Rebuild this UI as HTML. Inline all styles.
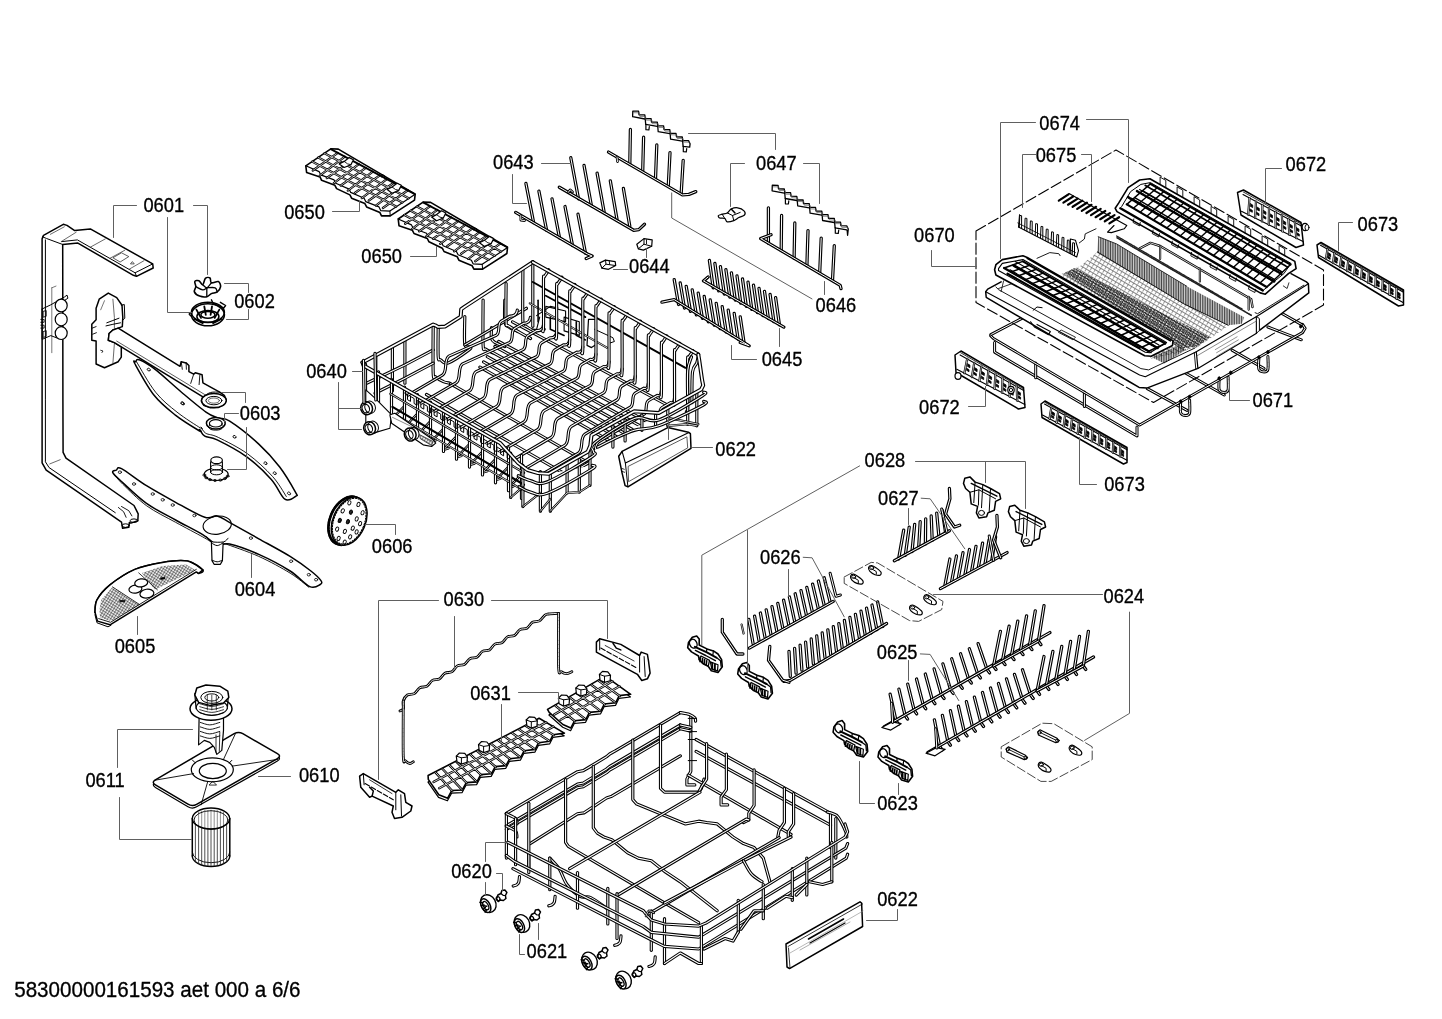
<!DOCTYPE html>
<html><head><meta charset="utf-8"><title>58300000161593 aet 000 a 6/6</title>
<style>
html,body{margin:0;padding:0;background:#fff;}
body{width:1442px;height:1019px;overflow:hidden;font-family:"Liberation Sans",Arial,sans-serif;}
svg{display:block;filter:grayscale(1);}
svg text{font-family:"Liberation Sans",Arial,sans-serif;fill:#000;stroke:#000;stroke-width:0.3px;}
svg path,svg ellipse{stroke-linejoin:round;stroke-linecap:round;}
</style></head><body>
<svg width="1442" height="1019" viewBox="0 0 1442 1019">
<rect width="1442" height="1019" fill="#fff"/>
<!-- 00_labels.py -->
<text transform="translate(143.4 212) scale(1 1.055)" font-size="18.3">0601</text>
<text transform="translate(234.2 307.7) scale(1 1.055)" font-size="18.3">0602</text>
<text transform="translate(239.8 419.7) scale(1 1.055)" font-size="18.3">0603</text>
<text transform="translate(234.7 595.8) scale(1 1.055)" font-size="18.3">0604</text>
<text transform="translate(114.7 652.5) scale(1 1.055)" font-size="18.3">0605</text>
<text transform="translate(371.8 553.1) scale(1 1.055)" font-size="18.3">0606</text>
<text transform="translate(298.9 782.4) scale(1 1.055)" font-size="18.3">0610</text>
<text transform="translate(85.4 786.7) scale(1 1.055)" font-size="18.3">0611</text>
<text transform="translate(451.2 878.2) scale(1 1.055)" font-size="18.3">0620</text>
<text transform="translate(526.6 957.6) scale(1 1.055)" font-size="18.3">0621</text>
<text transform="translate(715.3 455.7) scale(1 1.055)" font-size="18.3">0622</text>
<text transform="translate(877.2 906.2) scale(1 1.055)" font-size="18.3">0622</text>
<text transform="translate(877.2 809.6) scale(1 1.055)" font-size="18.3">0623</text>
<text transform="translate(1103.5 602.5) scale(1 1.055)" font-size="18.3">0624</text>
<text transform="translate(876.8 659.1) scale(1 1.055)" font-size="18.3">0625</text>
<text transform="translate(760 564.1) scale(1 1.055)" font-size="18.3">0626</text>
<text transform="translate(878 504.6) scale(1 1.055)" font-size="18.3">0627</text>
<text transform="translate(864.6 467.3) scale(1 1.055)" font-size="18.3">0628</text>
<text transform="translate(443.5 606.3) scale(1 1.055)" font-size="18.3">0630</text>
<text transform="translate(470.2 699.9) scale(1 1.055)" font-size="18.3">0631</text>
<text transform="translate(306.2 377.8) scale(1 1.055)" font-size="18.3">0640</text>
<text transform="translate(493 168.7) scale(1 1.055)" font-size="18.3">0643</text>
<text transform="translate(629 273.1) scale(1 1.055)" font-size="18.3">0644</text>
<text transform="translate(761.7 365.7) scale(1 1.055)" font-size="18.3">0645</text>
<text transform="translate(815.6 311.6) scale(1 1.055)" font-size="18.3">0646</text>
<text transform="translate(756 169.5) scale(1 1.055)" font-size="18.3">0647</text>
<text transform="translate(284.2 218.6) scale(1 1.055)" font-size="18.3">0650</text>
<text transform="translate(361.3 263) scale(1 1.055)" font-size="18.3">0650</text>
<text transform="translate(914.1 242) scale(1 1.055)" font-size="18.3">0670</text>
<text transform="translate(1252.5 406.7) scale(1 1.055)" font-size="18.3">0671</text>
<text transform="translate(1285.6 171.2) scale(1 1.055)" font-size="18.3">0672</text>
<text transform="translate(919.1 413.7) scale(1 1.055)" font-size="18.3">0672</text>
<text transform="translate(1357.6 231) scale(1 1.055)" font-size="18.3">0673</text>
<text transform="translate(1104.2 491.4) scale(1 1.055)" font-size="18.3">0673</text>
<text transform="translate(1039.3 130.1) scale(1 1.055)" font-size="18.3">0674</text>
<text transform="translate(1035.7 162) scale(1 1.055)" font-size="18.3">0675</text>
<text transform="translate(14.2 997.2) scale(1 1.03)" font-size="20.6">58300000161593 aet 000 a 6/6</text>
<!-- 10_pipe.py -->
<path d="M42.1 238.9 L43.5 235.4 L63.3 224.3 L67 225.4 L74.7 230.6 L90.3 228.9 L152.7 263.9 L153.2 268 L136.5 276.3 L133.4 275.3 L77.9 243.1 L62.7 244.5 L62.9 400 L63.1 452.4 L66 458.2 L134 505.5 L138.2 513.8 L137.8 520.7 L130.9 523.1 L129.4 522.3 L128.8 527.3 L122.6 528.3 L121.5 522.1 L46.2 470.1 L42.1 462.8 L42.1 390Z" fill="#fff" stroke="#000" stroke-width="1.5"/>
<path d="M45.4 239.9 L45.4 399.9 L45.4 461.8 L49.1 467.6 L115.3 512.7" fill="none" stroke="#000" stroke-width="1"/>
<path d="M42.5 236.8 L46.6 238.5 L62.7 244.5" fill="none" stroke="#000" stroke-width="1"/>
<path d="M61.6 241.6 L77.4 239.9 L135.1 272.8 L152.7 263.9" fill="none" stroke="#000" stroke-width="1"/>
<path d="M135.1 272.8 L136.5 276.3" fill="none" stroke="#000" stroke-width="1"/>
<path d="M50.4 234.3 L64.3 226.8" fill="none" stroke="#444" stroke-width="0.8"/>
<path d="M61.2 241.6 L76.2 232.2" fill="none" stroke="#444" stroke-width="0.8"/>
<path d="M90.3 247.2 L105.3 238.9" fill="none" stroke="#444" stroke-width="0.8"/>
<path d="M110.1 258.2 L124.7 250.3" fill="none" stroke="#444" stroke-width="0.8"/>
<path d="M129.4 269.1 L144 260.7" fill="none" stroke="#444" stroke-width="0.8"/>
<path d="M113.2 257.6 L121.5 252.8 L128.8 256.6 L120.5 261.8Z" fill="none" stroke="#333" stroke-width="0.8"/>
<path d="M130.7 263.6 L132.4 261.6 L134 263.6Z" fill="none" stroke="#333" stroke-width="0.8"/>
<path d="M49.8 463.9 L60.2 459.7" fill="none" stroke="#444" stroke-width="0.8"/>
<path d="M118.4 507.5 L123.6 511.7 L126.1 517.3" fill="none" stroke="#000" stroke-width="0.9"/>
<path d="M121.5 506.5 L128.8 510.7 L131.9 515.9" fill="none" stroke="#000" stroke-width="0.9"/>
<ellipse cx="125.7" cy="525.6" rx="3.6" ry="1.8" fill="none" stroke="#000" stroke-width="1"/>
<ellipse cx="134" cy="520.7" rx="3.8" ry="1.8" fill="none" stroke="#000" stroke-width="1"/>
<path d="M51.8 287.8 L56 286.1" fill="none" stroke="#555" stroke-width="0.8"/>
<path d="M51.8 287.8 L51.8 352.7" fill="none" stroke="#555" stroke-width="0.8"/>
<path d="M42.1 309 L50.8 304.8 L64.3 297.1 L67 295.1 L67.9 298.2 L63.3 301.3" fill="none" stroke="#000" stroke-width="1"/>
<path d="M42.1 309 L42.1 339.4 L50.8 335.6 L59.1 338.8" fill="none" stroke="#000" stroke-width="1"/>
<ellipse cx="61.2" cy="305.5" rx="6" ry="6.4" fill="#fff" stroke="#000" stroke-width="1.2"/>
<ellipse cx="61.2" cy="319.4" rx="6" ry="6.4" fill="#fff" stroke="#000" stroke-width="1.2"/>
<ellipse cx="61.2" cy="333.1" rx="6" ry="6.4" fill="#fff" stroke="#000" stroke-width="1.2"/>
<path d="M43.5 311.3 L46.2 310.5 L46.2 316.3 L43.5 317.1Z" fill="none" stroke="#000" stroke-width="0.9"/>
<path d="M43.5 331.5 L46.2 330.6 L46.2 336.5 L43.5 337.3Z" fill="none" stroke="#000" stroke-width="0.9"/>
<path d="M40.8 319.4 L44.1 319.4 L44.1 322.3 L40.8 322.3" fill="none" stroke="#000" stroke-width="0.9"/>
<path d="M40.8 325.2 L44.1 325.2 L44.1 328.1 L40.8 328.1" fill="none" stroke="#000" stroke-width="0.9"/>
<path d="M91.8 324.3 L96.1 319.8 L96.1 308.3 L99.2 299.2 L108.3 293.1 L116.7 297.6 L122 305.3 L122.8 317.5 L122.3 326.6 L118.2 328.1 L112.9 330 L109.1 333.5 L108.3 340.3 L114.4 342.6 L121.3 346.8 L121.3 357.1 L118.2 361.7 L104.5 367.8 L96.1 364 L96.1 341.1 L91.8 340.3Z" fill="#fff" stroke="#000" stroke-width="1.5"/>
<path d="M112.9 299.2 L114.4 317.5 L114.4 328.1" fill="none" stroke="#444" stroke-width="0.8"/>
<path d="M100.7 309.8 L104.5 300.7" fill="none" stroke="#555" stroke-width="0.8"/>
<path d="M114.4 343.4 L112.9 363.2" fill="none" stroke="#444" stroke-width="0.8"/>
<path d="M92.3 328.1 L96.1 326.6" fill="none" stroke="#000" stroke-width="0.9"/>
<path d="M92.7 334.2 L96.4 332.7" fill="none" stroke="#000" stroke-width="0.9"/>
<path d="M121.3 305.3 L124.3 304.5 L124.8 318.2 L122.3 320.5" fill="none" stroke="#000" stroke-width="1"/>
<path d="M106.8 322.8 L112.9 320.5 L119 318.2" fill="none" stroke="#000" stroke-width="1"/>
<path d="M106 325.9 L112.9 324.3 L120.5 322.8" fill="none" stroke="#000" stroke-width="1"/>
<path d="M100.7 350.3 L103 351 L101.9 352.6" fill="none" stroke="#000" stroke-width="0.8"/>
<path d="M118.2 328.1 L180 366.3 L181.2 361.7 L186.1 362.9 L188.9 365.5 L188.9 371.6 L193.7 374.2 L195.3 372.7 L202.1 374.7 L202.9 382.8 L219.7 392.2 L224.3 395.3 L226.2 399.8 L224.3 404.4 L218.2 407.5 L210.5 407.8 L203.7 405.2 L201.4 401.1 L202.9 396.8 L114.4 342.6 L108.3 340.3 L109.1 333.5 L112.9 330Z" fill="#fff" stroke="#000" stroke-width="1.5"/>
<path d="M116.7 341.1 L206 395.3" fill="none" stroke="#333" stroke-width="0.8"/>
<path d="M181.2 361.7 L182.3 369.3" fill="none" stroke="#000" stroke-width="0.9"/>
<path d="M186.1 362.9 L186.4 369.3" fill="none" stroke="#000" stroke-width="0.9"/>
<path d="M193.7 374.2 L190.7 383.4" fill="none" stroke="#000" stroke-width="0.9"/>
<path d="M199.8 375.4 L199.1 384.6" fill="none" stroke="#000" stroke-width="0.9"/>
<ellipse cx="213.9" cy="400.6" rx="12.4" ry="7" fill="#fff" stroke="#000" stroke-width="1.5"/>
<ellipse cx="213.9" cy="400.6" rx="8" ry="4.2" fill="none" stroke="#000" stroke-width="1"/>
<ellipse cx="213.9" cy="400.6" rx="5.6" ry="2.6" fill="none" stroke="#444" stroke-width="0.8"/>
<path d="M202.9 396.8 C204.2 396.1 207.7 393.3 210.5 392.5 C213.3 391.7 218.2 392.2 219.7 392.2" fill="none" stroke="#000" stroke-width="1"/>
<path d="M135.8 361.7 C136.2 360.9 136.3 359.4 137.6 359.4 C138.9 359.4 140.2 359.8 143.4 361.7 C146.7 363.6 150.8 365.8 157.1 370.9 C163.4 376 173.3 385.3 181.5 392.2 C189.7 399.1 199.9 407.8 206 412.1 C212.1 416.4 214.4 416.6 218.3 418.1 C222.2 419.6 222.9 416.9 229.7 421.2 C236.4 425.5 250.5 436.5 258.8 444.1 C267.1 451.7 273.6 459 279.7 467 C285.8 475 292.6 487 295.3 491.9 C298 496.8 297.6 494.9 295.9 496.1 C294.2 497.3 289 502 284.9 499.2 C280.8 496.4 277.7 486.6 271.3 479.5 C264.9 472.4 255.4 463.2 246.4 456.6 C237.4 450 224.1 443.3 217.2 439.9 C210.3 436.5 207.7 437.9 204.8 436.2 C201.9 434.5 200.4 430.4 199.6 429.5 C198.8 428.6 203.8 433.5 199.8 431.1 C195.8 428.7 183 421.1 175.4 415.1 C167.8 409.1 160.8 403.8 154.1 395.3 C147.4 386.8 138.1 369.6 135 364 C131.9 358.4 135.4 362.5 135.8 361.7Z" fill="#fff" stroke="#000" stroke-width="1.5"/>
<path d="M136.5 361.7 C139.7 366.8 148.8 383.8 155.6 392.2 C162.3 400.6 169.5 406.1 177 412.1 C184.5 418.1 196.6 425.6 200.6 428.1 C204.6 430.6 200.1 426.1 201 427 C201.9 427.9 202.9 431.6 205.8 433.3 C208.7 435 211.4 434 218.3 437.4 C225.2 440.8 238.4 447.2 247.4 453.7 C256.4 460.2 265.9 469.2 272.4 476.3 C278.9 483.4 284 493.1 286.3 496.5" fill="none" stroke="#000" stroke-width="0.9"/>
<ellipse cx="215.8" cy="423.3" rx="9.4" ry="5.8" fill="#fff" stroke="#000" stroke-width="1.5"/>
<ellipse cx="215.8" cy="423.3" rx="6.4" ry="3.7" fill="none" stroke="#000" stroke-width="1.1"/>
<path d="M209.5 423.3 L209.5 425.4" fill="none" stroke="#000" stroke-width="1"/>
<path d="M222 423.3 L222 425.4" fill="none" stroke="#000" stroke-width="1"/>
<path d="M206.6 424.5 C207.3 425.3 208.7 428.7 211 429.5 C213.3 430.3 218.1 430.3 220.4 429.5 C222.7 428.7 224.2 425.3 224.9 424.5" fill="none" stroke="#000" stroke-width="1"/>
<ellipse cx="182.9" cy="403.5" rx="1.6" ry="1.3" fill="none" stroke="#000" stroke-width="0.8" transform="rotate(30 182.9 403.5)"/>
<ellipse cx="234.5" cy="436.8" rx="1.6" ry="1.3" fill="none" stroke="#000" stroke-width="0.8" transform="rotate(30 234.5 436.8)"/>
<ellipse cx="265.5" cy="463.2" rx="1.6" ry="1.3" fill="none" stroke="#000" stroke-width="0.8" transform="rotate(30 265.5 463.2)"/>
<ellipse cx="274.7" cy="473.2" rx="1.6" ry="1.3" fill="none" stroke="#000" stroke-width="0.8" transform="rotate(30 274.7 473.2)"/>
<ellipse cx="289" cy="493.4" rx="1.6" ry="1.3" fill="none" stroke="#000" stroke-width="0.8" transform="rotate(30 289 493.4)"/>
<ellipse cx="148.7" cy="369.6" rx="1.6" ry="1.3" fill="none" stroke="#000" stroke-width="0.8" transform="rotate(30 148.7 369.6)"/>
<ellipse cx="182.3" cy="403.2" rx="1.6" ry="1.3" fill="none" stroke="#000" stroke-width="0.8" transform="rotate(30 182.3 403.2)"/>
<ellipse cx="216.2" cy="474.3" rx="12" ry="6.2" fill="#fff" stroke="#000" stroke-width="1.2"/>
<path d="M210.6 472.2 L210.6 461.8 L222.4 461.8 L222.4 472.2" fill="#fff" stroke="#000" stroke-width="1.1"/>
<ellipse cx="216.6" cy="472.2" rx="6" ry="2.6" fill="none" stroke="#000" stroke-width="1"/>
<ellipse cx="216.6" cy="467.4" rx="6" ry="2.6" fill="none" stroke="#000" stroke-width="1"/>
<ellipse cx="216.6" cy="460.3" rx="5.8" ry="3.4" fill="#fff" stroke="#000" stroke-width="1.2"/>
<ellipse cx="227.6" cy="476.2" rx="1.5" ry="1.1" fill="none" stroke="#000" stroke-width="0.8"/>
<ellipse cx="224.9" cy="478.6" rx="1.5" ry="1.1" fill="none" stroke="#000" stroke-width="0.8"/>
<ellipse cx="220.4" cy="480.1" rx="1.5" ry="1.1" fill="none" stroke="#000" stroke-width="0.8"/>
<ellipse cx="215.1" cy="480.5" rx="1.5" ry="1.1" fill="none" stroke="#000" stroke-width="0.8"/>
<ellipse cx="210" cy="479.6" rx="1.5" ry="1.1" fill="none" stroke="#000" stroke-width="0.8"/>
<ellipse cx="206.2" cy="477.7" rx="1.5" ry="1.1" fill="none" stroke="#000" stroke-width="0.8"/>
<ellipse cx="204.3" cy="475.1" rx="1.5" ry="1.1" fill="none" stroke="#000" stroke-width="0.8"/>
<path d="M112.8 472.6 C111.9 470.7 114.8 470.8 116.3 470.1 C117.8 469.4 116.5 466 121.5 468.6 C126.5 471.2 137.5 480.1 146.5 485.7 C155.5 491.3 165.9 497 175.6 502.3 C185.3 507.6 197.9 515 204.8 517.3 C211.7 519.6 212.9 514.9 217.2 515.9 C221.5 516.9 223.9 519.3 230.8 523.1 C237.7 526.9 248.9 533.2 258.8 538.8 C268.7 544.3 281.4 551 290.1 556.4 C298.8 561.8 305.8 567 310.9 571 C316 575 319.2 578.1 320.8 580.4 C322.4 582.6 322 583.5 320.2 584.5 C318.4 585.5 314.8 588.9 309.8 586.6 C304.8 584.4 298.6 576.4 290.1 571 C281.6 565.6 268.9 558.9 258.8 554.4 C248.7 549.9 236.6 545.6 229.7 544 C222.8 542.4 221.7 546.6 217.2 545 C212.7 543.4 209.6 538.8 202.7 534.6 C195.8 530.4 185 525.2 175.6 520 C166.2 514.8 155.5 509.8 146.5 503.4 C137.5 497 127.1 486.6 121.5 481.5 C115.9 476.4 113.7 474.5 112.8 472.6Z" fill="#fff" stroke="#000" stroke-width="1.5"/>
<path d="M114.3 474.3 C115.7 475.9 117.2 478.8 122.6 484 C128 489.2 137.7 499.3 146.5 505.7 C155.3 512.1 166.2 517.1 175.6 522.3 C185 527.5 196.8 533.6 202.7 536.9 C208.6 540.2 209.6 541.1 211 541.9" fill="none" stroke="#000" stroke-width="0.9"/>
<path d="M224.5 543.5 C230.2 545.6 247.9 551.5 258.8 556.4 C269.7 561.3 281.8 568 290.1 573.1 C298.4 578.2 305.7 584.9 308.8 587.2" fill="none" stroke="#000" stroke-width="0.9"/>
<ellipse cx="217.2" cy="525.2" rx="14.2" ry="9" fill="none" stroke="#000" stroke-width="1.1" transform="rotate(-8 217.2 525.2)"/>
<ellipse cx="119.9" cy="472.2" rx="1.6" ry="1.3" fill="none" stroke="#000" stroke-width="0.8"/>
<ellipse cx="134" cy="484" rx="1.6" ry="1.3" fill="none" stroke="#000" stroke-width="0.8"/>
<ellipse cx="152.7" cy="494" rx="1.6" ry="1.3" fill="none" stroke="#000" stroke-width="0.8"/>
<ellipse cx="162.7" cy="499.8" rx="1.6" ry="1.3" fill="none" stroke="#000" stroke-width="0.8"/>
<ellipse cx="172.7" cy="505" rx="1.6" ry="1.3" fill="none" stroke="#000" stroke-width="0.8"/>
<ellipse cx="194.4" cy="515.5" rx="1.6" ry="1.3" fill="none" stroke="#000" stroke-width="0.8"/>
<ellipse cx="250.9" cy="538.1" rx="1.6" ry="1.3" fill="none" stroke="#000" stroke-width="0.8"/>
<ellipse cx="291.1" cy="561.2" rx="1.6" ry="1.3" fill="none" stroke="#000" stroke-width="0.8"/>
<ellipse cx="308.8" cy="574.7" rx="1.6" ry="1.3" fill="none" stroke="#000" stroke-width="0.8"/>
<ellipse cx="316.1" cy="579.7" rx="1.6" ry="1.3" fill="none" stroke="#000" stroke-width="0.8"/>
<path d="M211.4 541.9 L212 560.6 L214.1 564.3 L220.4 564.3 L222.4 560.6 L223.1 542.9" fill="#fff" stroke="#000" stroke-width="1.2"/>
<path d="M211.4 542.9 C212.4 543.4 215.2 545.6 217.2 545.6 C219.1 545.6 222.1 543.4 223.1 542.9" fill="none" stroke="#000" stroke-width="1"/>
<path d="M212 560.2 C212.9 560.5 215.5 561.8 217.2 561.8 C218.9 561.8 221.5 560.5 222.4 560.2" fill="none" stroke="#000" stroke-width="1"/>
<path d="M206.8 536.7 C207.5 537.5 208.2 540.6 211 541.5 C213.8 542.4 220.7 542.5 223.5 541.9 C226.3 541.3 227.3 538.7 228.1 538.1" fill="none" stroke="#000" stroke-width="1"/>
<!-- 11_small_left.py -->
<defs><pattern id="mesh" width="2.6" height="2.6" patternUnits="userSpaceOnUse" patternTransform="rotate(32)"><path d="M0 0.6H2.6M0.6 0V2.6" stroke="#222" stroke-width="0.55" fill="none"/></pattern></defs>
<path d="M194.8 281.5 C195.3 280.5 197.6 280.2 198.9 280.7 C200.2 281.2 201.6 285.1 202.7 284.7 C203.8 284.3 204.2 279.5 205.4 278.4 C206.6 277.3 209 277.3 210 278 C211 278.7 210 282.2 211.4 282.8 C212.8 283.4 216.8 280.9 218.3 281.5 C219.8 282.1 220.8 285 220.6 286.7 C220.4 288.4 218.7 290.8 217.2 291.9 C215.7 293 213.1 292.8 211.4 293.6 C209.7 294.4 208.8 296.3 206.8 296.7 C204.8 297.1 201.7 296.9 199.6 296.1 C197.5 295.3 195 293.5 194.4 291.9 C193.8 290.3 195.7 288.4 195.8 286.7 C195.9 285 194.3 282.5 194.8 281.5Z" fill="#fff" stroke="#000" stroke-width="1.6"/>
<path d="M202.7 284.7 C203.4 285.2 205.4 288.1 206.8 287.8 C208.2 287.5 210.6 283.6 211.4 282.8" fill="none" stroke="#000" stroke-width="1.3"/>
<path d="M206.8 287.8 L206.8 296.7" fill="none" stroke="#000" stroke-width="1.3"/>
<path d="M195.8 286.7 C197 287.2 200.9 289.7 202.7 289.9 C204.5 290.1 206.1 288.1 206.8 287.8" fill="none" stroke="#000" stroke-width="1.3"/>
<path d="M206.8 287.8 C208.2 287.8 213.5 287.1 215.2 287.8 C216.9 288.5 216.9 291.2 217.2 291.9" fill="none" stroke="#000" stroke-width="1.3"/>
<ellipse cx="207.9" cy="314.8" rx="16.5" ry="11" fill="#fff" stroke="#000" stroke-width="1.6"/>
<ellipse cx="207.9" cy="312.3" rx="16.5" ry="10" fill="none" stroke="#000" stroke-width="1.5"/>
<ellipse cx="207.9" cy="316.5" rx="11" ry="6" fill="none" stroke="#000" stroke-width="1.5"/>
<ellipse cx="207.9" cy="314.8" rx="7" ry="3.4" fill="none" stroke="#000" stroke-width="1.5"/>
<path d="M211.4 299.8 L213.1 303.4 L223.5 308.2 L225.6 305.5 L220.4 302.3" fill="none" stroke="#000" stroke-width="1.4"/>
<path d="M190.6 312.7 L189.2 314 L190.6 315.7" fill="none" stroke="#000" stroke-width="1.4"/>
<path d="M196.4 309.6 L201 317.9" fill="none" stroke="#000" stroke-width="1.8"/>
<path d="M219.3 309.6 L214.7 317.9" fill="none" stroke="#000" stroke-width="1.8"/>
<path d="M204.3 306.5 L205.8 314.8" fill="none" stroke="#000" stroke-width="1.8"/>
<path d="M212 306.5 L210.6 314.8" fill="none" stroke="#000" stroke-width="1.8"/>
<path d="M194.4 319 L202.7 323.1" fill="none" stroke="#000" stroke-width="1.8"/>
<path d="M221.4 319 L213.1 323.1" fill="none" stroke="#000" stroke-width="1.8"/>
<path d="M95 612.3 C95.3 610.2 94.5 604.4 97 599.8 C99.5 595.2 103.7 590 110 584.9 C116.3 579.8 126.2 573.1 134.9 569.4 C143.6 565.6 153.7 563.8 162.4 562.4 C171.2 561 180.7 559.9 187.4 561.1 C194.1 562.4 200.9 567.9 202.8 569.9 C204.7 571.9 199.9 573.1 198.8 573.4 C197.7 573.7 196.7 572.1 196.3 571.9" fill="none" stroke="#000" stroke-width="1.5"/>
<path d="M95 612.3 L97 599.8 L110 584.9 L134.9 569.4 L162.4 562.4 L187.4 561.1 L202.8 569.9 L198.8 573.4 L196.3 571.9 L110 624.8 L97.5 621.1Z" fill="#fff" stroke="none" stroke-width="0"/>
<path d="M99.5 609.8 L101.2 599.8 L112.5 586.9 L122.4 593.6 L139.9 604.8 L111.2 621.1 L100 617.8Z" fill="url(#mesh)" stroke="none" stroke-width="0"/>
<path d="M141.9 572.9 L162.4 566.1 L186.1 564.4 L195.3 569.9 L154.9 589.8Z" fill="url(#mesh)" stroke="none" stroke-width="0"/>
<path d="M95 612.3 C95.3 610.2 94.5 604.4 97 599.8 C99.5 595.2 103.7 590 110 584.9 C116.3 579.8 126.2 573.1 134.9 569.4 C143.6 565.6 153.7 563.8 162.4 562.4 C171.2 561 180.7 559.9 187.4 561.1 C194.1 562.4 200.2 568.4 202.8 569.9" fill="none" stroke="#000" stroke-width="1.5"/>
<path d="M202.8 569.9 L198.8 573.4 L196.3 571.9 L110 624.8 L97.5 621.1 L95 612.3" fill="none" stroke="#000" stroke-width="1.5"/>
<path d="M95 614.8 L97 622.8 L108 626.8 L111 625.3" fill="none" stroke="#000" stroke-width="1"/>
<path d="M196.3 569.4 L110.5 622.3 L98.7 618.6" fill="none" stroke="#000" stroke-width="0.9"/>
<path d="M112.5 586.9 L139.9 604.8" fill="none" stroke="#000" stroke-width="0.8"/>
<path d="M138.7 572.9 L157.4 589.8" fill="none" stroke="#000" stroke-width="0.8"/>
<ellipse cx="135.4" cy="589.1" rx="6.5" ry="4" fill="#fff" stroke="#000" stroke-width="1.2" transform="rotate(-8 135.4 589.1)"/>
<ellipse cx="141.2" cy="582.9" rx="6.5" ry="4" fill="#fff" stroke="#000" stroke-width="1.2" transform="rotate(-8 141.2 582.9)"/>
<ellipse cx="146.9" cy="593.6" rx="7" ry="4.4" fill="#fff" stroke="#000" stroke-width="1.2" transform="rotate(-8 146.9 593.6)"/>
<path d="M119.9 600.3 L124.9 600.3 L124.9 601.8 L119.9 601.8Z" fill="#000" stroke="#000" stroke-width="0.5"/>
<path d="M160.4 577.9 L164.9 576.9 L164.9 578.9 L160.9 579.4Z" fill="#000" stroke="#000" stroke-width="0.5"/>
<g transform="rotate(23 349.2 521.2)">
<ellipse cx="346.6" cy="521.8" rx="17.2" ry="25.8" fill="#fff" stroke="#000" stroke-width="1.3"/>
<ellipse cx="346.6" cy="521.8" rx="16.4" ry="25" fill="none" stroke="#000" stroke-width="2.6" stroke-dasharray="1.5 1.3"/>
<ellipse cx="349.2" cy="521.2" rx="16.2" ry="25.2" fill="#fff" stroke="#000" stroke-width="1.5"/>
<ellipse cx="349.2" cy="521.2" rx="15.2" ry="24.1" fill="none" stroke="#000" stroke-width="1.2" stroke-dasharray="1.2 1.6"/>
<ellipse cx="342.2" cy="504.2" rx="1.5" ry="2.2" fill="none" stroke="#000" stroke-width="0.9"/>
<ellipse cx="351.2" cy="502.2" rx="1.5" ry="2.2" fill="none" stroke="#000" stroke-width="0.9"/>
<ellipse cx="358.2" cy="508.2" rx="1.5" ry="2.2" fill="none" stroke="#000" stroke-width="0.9"/>
<ellipse cx="339.2" cy="514.2" rx="1.5" ry="2.2" fill="none" stroke="#000" stroke-width="0.9"/>
<ellipse cx="347.2" cy="512.2" rx="1.5" ry="2.2" fill="none" stroke="#000" stroke-width="0.9"/>
<ellipse cx="355.2" cy="516.2" rx="1.5" ry="2.2" fill="none" stroke="#000" stroke-width="0.9"/>
<ellipse cx="360.2" cy="519.2" rx="1.5" ry="2.2" fill="none" stroke="#000" stroke-width="0.9"/>
<ellipse cx="340.2" cy="524.2" rx="1.5" ry="2.2" fill="none" stroke="#000" stroke-width="0.9"/>
<ellipse cx="348.2" cy="522.2" rx="1.5" ry="2.2" fill="none" stroke="#000" stroke-width="0.9"/>
<ellipse cx="355.2" cy="526.2" rx="1.5" ry="2.2" fill="none" stroke="#000" stroke-width="0.9"/>
<ellipse cx="341.2" cy="533.2" rx="1.5" ry="2.2" fill="none" stroke="#000" stroke-width="0.9"/>
<ellipse cx="349.2" cy="532.2" rx="1.5" ry="2.2" fill="none" stroke="#000" stroke-width="0.9"/>
<ellipse cx="356.2" cy="535.2" rx="1.5" ry="2.2" fill="none" stroke="#000" stroke-width="0.9"/>
<ellipse cx="346.2" cy="541.2" rx="1.5" ry="2.2" fill="none" stroke="#000" stroke-width="0.9"/>
<ellipse cx="353.2" cy="542.2" rx="1.5" ry="2.2" fill="none" stroke="#000" stroke-width="0.9"/>
<ellipse cx="360.2" cy="528.2" rx="1.5" ry="2.2" fill="none" stroke="#000" stroke-width="0.9"/>
<ellipse cx="347.2" cy="512.2" rx="1.2" ry="1.8" fill="#333" stroke="#000" stroke-width="0.8"/>
<ellipse cx="340.2" cy="524.2" rx="1.2" ry="1.8" fill="#333" stroke="#000" stroke-width="0.8"/>
<ellipse cx="348.2" cy="522.2" rx="1.2" ry="1.8" fill="#333" stroke="#000" stroke-width="0.8"/>
</g>
<path d="M155.4 787.4 Q151.1 784.8 155.4 782.3L234.2 736.1 Q238.5 733.6 242.8 736.1L277.4 756.1 Q281.7 758.6 277.4 761.1L196.6 806.8 Q192.3 809.3 188 806.7Z" fill="#fff" stroke="#000" stroke-width="1.2"/>
<path d="M155.4 784.9 Q151.1 782.3 155.4 779.8L234.2 733.7 Q238.5 731.2 242.8 733.7L277.4 753.6 Q281.7 756.1 277.4 758.6L196.6 804.3 Q192.3 806.8 188 804.2Z" fill="#fff" stroke="#000" stroke-width="1.5"/>
<ellipse cx="212.3" cy="769.8" rx="21" ry="12" fill="none" stroke="#000" stroke-width="1.2"/>
<ellipse cx="212.8" cy="771" rx="13.5" ry="7.6" fill="none" stroke="#000" stroke-width="1.2"/>
<path d="M193.6 773.6 L154.4 780.3" fill="none" stroke="#000" stroke-width="0.9"/>
<path d="M232.3 766.1 L277.7 759.4" fill="none" stroke="#000" stroke-width="0.9"/>
<path d="M207.8 781.3 L201.1 804.8" fill="none" stroke="#000" stroke-width="0.9"/>
<path d="M223.5 759.4 L235.3 733.9" fill="none" stroke="#000" stroke-width="0.9"/>
<path d="M209.3 784.8 L212.8 781.3 L216.3 784.8Z" fill="none" stroke="#000" stroke-width="0.8"/>
<path d="M194.8 762.4 L192.3 759.9" fill="none" stroke="#000" stroke-width="1"/>
<path d="M229.3 762.9 L231.8 760.4" fill="none" stroke="#000" stroke-width="1"/>
<path d="M198.6 744.9 L199.1 717.4 L223.5 717.4 L223.5 730.4 L221.8 750.4 L216.8 754.4 L214.3 747.4 L209.8 742.4 L204.3 740.4Z" fill="#fff" stroke="#000" stroke-width="1.2"/>
<path d="M200.3 722.4 C201.9 722.8 206.6 724.9 209.8 724.9 C213.1 724.9 218.1 722.8 219.8 722.4" fill="none" stroke="#000" stroke-width="0.9"/>
<path d="M200.3 726.9 C201.9 727.3 206.6 729.4 209.8 729.4 C213.1 729.4 218.1 727.3 219.8 726.9" fill="none" stroke="#000" stroke-width="0.9"/>
<path d="M200.3 731.4 C201.9 731.8 206.6 733.9 209.8 733.9 C213.1 733.9 218.1 731.8 219.8 731.4" fill="none" stroke="#000" stroke-width="0.9"/>
<path d="M200.3 735.9 C201.9 736.3 206.6 738.4 209.8 738.4 C213.1 738.4 218.1 736.3 219.8 735.9" fill="none" stroke="#000" stroke-width="0.9"/>
<path d="M216 734.9 L216 752.4" fill="none" stroke="#000" stroke-width="0.8"/>
<path d="M219.8 732.4 L219.3 751.4" fill="none" stroke="#000" stroke-width="0.8"/>
<ellipse cx="211" cy="708.7" rx="21" ry="11.5" fill="#fff" stroke="#000" stroke-width="1.5"/>
<path d="M194.8 693.7 L196.1 708.7" fill="none" stroke="#000" stroke-width="1.2"/>
<path d="M228.5 693.7 L227.3 708.7" fill="none" stroke="#000" stroke-width="1.2"/>
<ellipse cx="211.8" cy="707.4" rx="15.5" ry="8" fill="#fff" stroke="#000" stroke-width="1.1"/>
<path d="M194.8 695 L196.8 688 L206 685 L219.8 686.2 L227.8 691.2 L228.8 697.4 L223.5 702.9 L209.8 705.4 L198.6 702.4Z" fill="#fff" stroke="#000" stroke-width="1.5"/>
<ellipse cx="211.8" cy="697.4" rx="11" ry="6" fill="none" stroke="#000" stroke-width="1"/>
<ellipse cx="211.8" cy="697.4" rx="7" ry="3.6" fill="none" stroke="#000" stroke-width="0.9"/>
<path d="M199.8 703.7 C201.8 704.2 207.9 706.4 211.8 706.4 C215.8 706.4 221.6 704.2 223.5 703.7" fill="none" stroke="#000" stroke-width="0.8"/>
<path d="M199.8 706.7 C201.8 707.2 207.9 709.4 211.8 709.4 C215.8 709.4 221.6 707.2 223.5 706.7" fill="none" stroke="#000" stroke-width="0.8"/>
<path d="M199.8 709.7 C201.8 710.2 207.9 712.4 211.8 712.4 C215.8 712.4 221.6 710.2 223.5 709.7" fill="none" stroke="#000" stroke-width="0.8"/>
<path d="M199.8 712.7 C201.8 713.2 207.9 715.4 211.8 715.4 C215.8 715.4 221.6 713.2 223.5 712.7" fill="none" stroke="#000" stroke-width="0.8"/>
<path d="M207.3 695 L207.3 709.9" fill="none" stroke="#000" stroke-width="0.7"/>
<path d="M211.8 695 L211.8 709.9" fill="none" stroke="#000" stroke-width="0.7"/>
<path d="M216.3 695 L216.3 709.9" fill="none" stroke="#000" stroke-width="0.7"/>
<path d="M192.3 818.5 L192.3 856" fill="none" stroke="#000" stroke-width="1.5"/>
<path d="M229.8 818.5 L229.8 856" fill="none" stroke="#000" stroke-width="1.5"/>
<path d="M192.3 856 A18.7 10.5 0 0 0 229.8 856" fill="none" stroke="#000" stroke-width="1.4"/>
<path d="M192.3 852.2 A18.7 10.5 0 0 0 229.8 852.2" fill="none" stroke="#000" stroke-width="0.9"/>
<path d="M195.4 824 L195.4 861.5" fill="none" stroke="#222" stroke-width="0.8"/>
<path d="M198.6 826 L198.6 863.4" fill="none" stroke="#222" stroke-width="0.8"/>
<path d="M201.7 827.2 L201.7 864.6" fill="none" stroke="#222" stroke-width="0.8"/>
<path d="M204.8 827.9 L204.8 865.4" fill="none" stroke="#222" stroke-width="0.8"/>
<path d="M207.9 828.4 L207.9 865.8" fill="none" stroke="#222" stroke-width="0.8"/>
<path d="M211 828.5 L211 865.9" fill="none" stroke="#222" stroke-width="0.8"/>
<path d="M214.2 828.4 L214.2 865.8" fill="none" stroke="#222" stroke-width="0.8"/>
<path d="M217.3 827.9 L217.3 865.4" fill="none" stroke="#222" stroke-width="0.8"/>
<path d="M220.4 827.2 L220.4 864.6" fill="none" stroke="#222" stroke-width="0.8"/>
<path d="M223.5 826 L223.5 863.4" fill="none" stroke="#222" stroke-width="0.8"/>
<path d="M226.6 824 L226.6 861.5" fill="none" stroke="#222" stroke-width="0.8"/>
<path d="M198.6 812.3 L198.6 825.6" fill="none" stroke="#444" stroke-width="0.6"/>
<path d="M201.7 811.3 L201.7 826.7" fill="none" stroke="#444" stroke-width="0.6"/>
<path d="M204.8 810.6 L204.8 827.4" fill="none" stroke="#444" stroke-width="0.6"/>
<path d="M207.9 810.3 L207.9 827.8" fill="none" stroke="#444" stroke-width="0.6"/>
<path d="M211 810.1 L211 828" fill="none" stroke="#444" stroke-width="0.6"/>
<path d="M214.2 810.3 L214.2 827.8" fill="none" stroke="#444" stroke-width="0.6"/>
<path d="M217.3 810.6 L217.3 827.4" fill="none" stroke="#444" stroke-width="0.6"/>
<path d="M220.4 811.3 L220.4 826.7" fill="none" stroke="#444" stroke-width="0.6"/>
<path d="M223.5 812.3 L223.5 825.6" fill="none" stroke="#444" stroke-width="0.6"/>
<ellipse cx="211" cy="818.5" rx="18.7" ry="10.5" fill="none" stroke="#000" stroke-width="1.4"/>
<ellipse cx="211" cy="820" rx="17" ry="9.3" fill="none" stroke="#000" stroke-width="0.9"/>
<!-- 20_upper_basket.py -->
<path d="M375.8 354.9 L375.8 393.2" fill="none" stroke="#000" stroke-width="3.2"/><path d="M375.8 354.9 L375.8 393.2" fill="none" stroke="#fff" stroke-width="1.1"/>
<path d="M392.4 346.6 L392.4 390.7" fill="none" stroke="#000" stroke-width="3.2"/><path d="M392.4 346.6 L392.4 390.7" fill="none" stroke="#fff" stroke-width="1.1"/>
<path d="M404.9 339.9 L404.9 383.2" fill="none" stroke="#000" stroke-width="3.2"/><path d="M404.9 339.9 L404.9 383.2" fill="none" stroke="#fff" stroke-width="1.1"/>
<path d="M366.6 383.2 L404.9 364.9 L433.2 349.9" fill="none" stroke="#000" stroke-width="3.2"/><path d="M366.6 383.2 L404.9 364.9 L433.2 349.9" fill="none" stroke="#fff" stroke-width="1.1"/>
<path d="M433.2 324.6 C433.2 332.7 432.8 364.5 433.2 373.2 C433.6 381.9 434 375.5 435.7 376.9 C437.4 378.3 440.8 380.6 443.2 381.6 C445.6 382.7 448.8 382.9 449.9 383.2" fill="none" stroke="#000" stroke-width="3.2"/><path d="M433.2 324.6 C433.2 332.7 432.8 364.5 433.2 373.2 C433.6 381.9 434 375.5 435.7 376.9 C437.4 378.3 440.8 380.6 443.2 381.6 C445.6 382.7 448.8 382.9 449.9 383.2" fill="none" stroke="#fff" stroke-width="1.1"/>
<path d="M438.2 327 C438.2 331.9 437.8 351.1 438.2 356.6 C438.6 362.1 439 358.8 440.7 359.9 C442.4 360.9 443.5 364.6 448.2 362.9 C452.9 361.2 465.4 352.6 469 349.9 C472.6 347.2 470.2 347.9 469.5 346.9 C468.8 345.9 465.6 349.2 464.8 344.1 C464 339.1 464.8 321.2 464.8 316.6" fill="none" stroke="#000" stroke-width="3.2"/><path d="M438.2 327 C438.2 331.9 437.8 351.1 438.2 356.6 C438.6 362.1 439 358.8 440.7 359.9 C442.4 360.9 443.5 364.6 448.2 362.9 C452.9 361.2 465.4 352.6 469 349.9 C472.6 347.2 470.2 347.9 469.5 346.9 C468.8 345.9 465.6 349.2 464.8 344.1 C464 339.1 464.8 321.2 464.8 316.6" fill="none" stroke="#fff" stroke-width="1.1"/>
<path d="M483.1 300 C483.1 307.5 482.7 336.7 483.1 344.9 C483.5 353.1 483.9 347.8 485.6 349.1 C487.3 350.4 491.9 352.3 493.1 352.9" fill="none" stroke="#000" stroke-width="3.2"/><path d="M483.1 300 C483.1 307.5 482.7 336.7 483.1 344.9 C483.5 353.1 483.9 347.8 485.6 349.1 C487.3 350.4 491.9 352.3 493.1 352.9" fill="none" stroke="#fff" stroke-width="1.1"/>
<path d="M491.5 327.5 C491.5 329.3 490.9 335.8 491.5 338.3 C492.1 340.8 492.6 341 494.8 342.4 C497 343.8 503.1 345.9 504.8 346.6" fill="none" stroke="#000" stroke-width="3.2"/><path d="M491.5 327.5 C491.5 329.3 490.9 335.8 491.5 338.3 C492.1 340.8 492.6 341 494.8 342.4 C497 343.8 503.1 345.9 504.8 346.6" fill="none" stroke="#fff" stroke-width="1.1"/>
<path d="M504.8 300 C504.8 303.6 504.2 317.2 504.8 321.6 C505.4 326 505.9 324.9 508.1 326.6 C510.3 328.3 516.4 330.8 518.1 331.6" fill="none" stroke="#000" stroke-width="3.2"/><path d="M504.8 300 C504.8 303.6 504.2 317.2 504.8 321.6 C505.4 326 505.9 324.9 508.1 326.6 C510.3 328.3 516.4 330.8 518.1 331.6" fill="none" stroke="#fff" stroke-width="1.1"/>
<path d="M464.8 344.9 L526.4 308.3" fill="none" stroke="#000" stroke-width="3.2"/><path d="M464.8 344.9 L526.4 308.3" fill="none" stroke="#fff" stroke-width="1.1"/>
<path d="M375 393.2 L404.9 378.2 L433.2 363.2" fill="none" stroke="#000" stroke-width="3.2"/><path d="M375 393.2 L404.9 378.2 L433.2 363.2" fill="none" stroke="#fff" stroke-width="1.1"/>
<path d="M532.8 262.2 L532.8 326.3" fill="none" stroke="#000" stroke-width="3.2"/><path d="M532.8 262.2 L532.8 326.3" fill="none" stroke="#fff" stroke-width="1.1"/>
<path d="M522.9 269.8 C522.9 278.4 522.4 312.3 522.9 321.7 C523.4 331.1 523.9 324.8 525.9 326.3 C527.9 327.8 532 330.4 535.1 330.9 C538.2 331.4 542.7 329.6 544.2 329.3" fill="none" stroke="#000" stroke-width="3.2"/><path d="M522.9 269.8 C522.9 278.4 522.4 312.3 522.9 321.7 C523.4 331.1 523.9 324.8 525.9 326.3 C527.9 327.8 532 330.4 535.1 330.9 C538.2 331.4 542.7 329.6 544.2 329.3" fill="none" stroke="#fff" stroke-width="1.1"/>
<path d="M506.1 283.6 C506.1 290 505.6 314.6 506.1 321.7 C506.6 328.8 505.1 323.5 509.2 326.3 C513.3 329.1 527 336.5 530.5 338.5" fill="none" stroke="#000" stroke-width="3.2"/><path d="M506.1 283.6 C506.1 290 505.6 314.6 506.1 321.7 C506.6 328.8 505.1 323.5 509.2 326.3 C513.3 329.1 527 336.5 530.5 338.5" fill="none" stroke="#fff" stroke-width="1.1"/>
<path d="M545.8 306.4 L565.6 311 L565.6 321.7 L545.8 317.1Z" fill="none" stroke="#000" stroke-width="1.1"/>
<path d="M564.1 317.1 L579.3 321.7 L579.3 335.4 L564.1 330.9Z" fill="none" stroke="#000" stroke-width="1.1"/>
<path d="M588.5 319.4 L596.1 319.4 L596.1 344.6 L591.5 347.6 L587 345.4Z" fill="none" stroke="#000" stroke-width="1.2"/>
<path d="M536.6 315.6 L550.3 306.4 L558 308" fill="none" stroke="#000" stroke-width="1.1"/>
<path d="M539.7 317.1 L536.6 329.3 L532 329.3" fill="none" stroke="#000" stroke-width="1.1"/>
<path d="M594.6 329.3 L612.9 337.7 L614.4 341.5 L609.8 343.1" fill="none" stroke="#000" stroke-width="1"/>
<path d="M529.8 303.4 L606.8 347.6" fill="none" stroke="#000" stroke-width="2.2"/><path d="M529.8 303.4 L606.8 347.6" fill="none" stroke="#fff" stroke-width="0.8"/>
<path d="M545.8 295.8 L585.4 317.1" fill="none" stroke="#000" stroke-width="1.8"/>
<path d="M550.3 317.1 L550.3 329.3 L564.1 335.4" fill="none" stroke="#000" stroke-width="1.6"/>
<path d="M576.3 321.7 L576.3 335.4 L585.4 340" fill="none" stroke="#000" stroke-width="1.6"/>
<path d="M538.1 300.3 L538.1 321.7" fill="none" stroke="#000" stroke-width="1.6"/>
<clipPath id="ubclip"><path d="M362.5 368.4 L532.8 287.2 L696.3 374.5 L695.3 394.5 L591.5 451.7 L589 466 L550.3 473.4 L527.5 470Z"/></clipPath>
<g clip-path="url(#ubclip)">
<path d="M498.7 341.4 L665.8 431.8" fill="none" stroke="#000" stroke-width="3.2"/><path d="M498.7 341.4 L665.8 431.8" fill="none" stroke="#fff" stroke-width="1.1"/>
<path d="M494.9 346.5 L659 436.2" fill="none" stroke="#000" stroke-width="3.2"/><path d="M494.9 346.5 L659 436.2" fill="none" stroke="#fff" stroke-width="1.1"/>
<path d="M491.1 351.6 L652.2 440.5" fill="none" stroke="#000" stroke-width="3.2"/><path d="M491.1 351.6 L652.2 440.5" fill="none" stroke="#fff" stroke-width="1.1"/>
<path d="M487.3 356.7 L645.4 444.9" fill="none" stroke="#000" stroke-width="3.2"/><path d="M487.3 356.7 L645.4 444.9" fill="none" stroke="#fff" stroke-width="1.1"/>
<path d="M483.6 361.9 L638.7 449.2" fill="none" stroke="#000" stroke-width="3.2"/><path d="M483.6 361.9 L638.7 449.2" fill="none" stroke="#fff" stroke-width="1.1"/>
<path d="M479.9 367.1 L631.9 453.6" fill="none" stroke="#000" stroke-width="3.2"/><path d="M479.9 367.1 L631.9 453.6" fill="none" stroke="#fff" stroke-width="1.1"/>
<path d="M450.6 383.8 L616.5 479" fill="none" stroke="#000" stroke-width="3.2"/><path d="M450.6 383.8 L616.5 479" fill="none" stroke="#fff" stroke-width="1.1"/>
<path d="M426.5 394.5 L596.5 492" fill="none" stroke="#000" stroke-width="3.2"/><path d="M426.5 394.5 L596.5 492" fill="none" stroke="#fff" stroke-width="1.1"/>
<path d="M512.5 321.8 L686.7 415.4" fill="none" stroke="#000" stroke-width="3.2"/><path d="M512.5 321.8 L686.7 415.4" fill="none" stroke="#fff" stroke-width="1.1"/>
<path d="M517.3 310.1 Q516.8 316.1 509.9 316.2 L501.3 321.2 C496.8 323.8 500.8 332.6 496.3 335.2 L449 356.1 C443.4 359.4 448 371.8 442.4 375.1 L382 410.4" fill="none" stroke="#000" stroke-width="3.2"/><path d="M517.3 310.1 Q516.8 316.1 509.9 316.2 L501.3 321.2 C496.8 323.8 500.8 332.6 496.3 335.2 L449 356.1 C443.4 359.4 448 371.8 442.4 375.1 L382 410.4" fill="none" stroke="#fff" stroke-width="1.1"/>
<path d="M530.4 317.4 Q529.9 323.4 523.3 323.4 L514.7 328.4 C510.2 331 514.2 339.8 509.7 342.4 L462.6 363.9 C457 367.2 461.6 379.6 456 382.9 L395.6 418.2" fill="none" stroke="#000" stroke-width="3.2"/><path d="M530.4 317.4 Q529.9 323.4 523.3 323.4 L514.7 328.4 C510.2 331 514.2 339.8 509.7 342.4 L462.6 363.9 C457 367.2 461.6 379.6 456 382.9 L395.6 418.2" fill="none" stroke="#fff" stroke-width="1.1"/>
<path d="M543.5 324.8 Q543 330.8 536.7 330.6 L528.1 335.6 C523.6 338.2 527.6 347 523.1 349.6 L476.2 371.7 C470.6 375 475.2 387.4 469.6 390.7 L409.2 426.1" fill="none" stroke="#000" stroke-width="3.2"/><path d="M543.5 324.8 Q543 330.8 536.7 330.6 L528.1 335.6 C523.6 338.2 527.6 347 523.1 349.6 L476.2 371.7 C470.6 375 475.2 387.4 469.6 390.7 L409.2 426.1" fill="none" stroke="#fff" stroke-width="1.1"/>
<path d="M556.6 332.2 Q556.1 338.2 550.1 337.8 L541.5 342.8 C537 345.4 541 354.2 536.5 356.8 L489.8 379.5 C484.2 382.8 488.8 395.2 483.2 398.5 L422.8 433.9" fill="none" stroke="#000" stroke-width="3.2"/><path d="M556.6 332.2 Q556.1 338.2 550.1 337.8 L541.5 342.8 C537 345.4 541 354.2 536.5 356.8 L489.8 379.5 C484.2 382.8 488.8 395.2 483.2 398.5 L422.8 433.9" fill="none" stroke="#fff" stroke-width="1.1"/>
<path d="M569.7 339.5 Q569.2 345.5 563.5 344.9 L554.9 350 C550.4 352.6 554.4 361.4 549.9 364 L503.4 387.3 C497.8 390.6 502.4 403 496.8 406.3 L436.4 441.7" fill="none" stroke="#000" stroke-width="3.2"/><path d="M569.7 339.5 Q569.2 345.5 563.5 344.9 L554.9 350 C550.4 352.6 554.4 361.4 549.9 364 L503.4 387.3 C497.8 390.6 502.4 403 496.8 406.3 L436.4 441.7" fill="none" stroke="#fff" stroke-width="1.1"/>
<path d="M582.8 346.9 Q582.3 352.9 576.9 352.2 L568.3 357.2 C563.8 359.8 567.8 368.6 563.3 371.2 L517 395.1 C511.4 398.4 516 410.8 510.4 414.1 L450 449.4" fill="none" stroke="#000" stroke-width="3.2"/><path d="M582.8 346.9 Q582.3 352.9 576.9 352.2 L568.3 357.2 C563.8 359.8 567.8 368.6 563.3 371.2 L517 395.1 C511.4 398.4 516 410.8 510.4 414.1 L450 449.4" fill="none" stroke="#fff" stroke-width="1.1"/>
<path d="M595.9 354.2 Q595.4 360.2 590.3 359.4 L581.7 364.4 C577.2 367 581.2 375.8 576.7 378.4 L530.6 402.9 C525 406.2 529.6 418.6 524 421.9 L463.6 457.2" fill="none" stroke="#000" stroke-width="3.2"/><path d="M595.9 354.2 Q595.4 360.2 590.3 359.4 L581.7 364.4 C577.2 367 581.2 375.8 576.7 378.4 L530.6 402.9 C525 406.2 529.6 418.6 524 421.9 L463.6 457.2" fill="none" stroke="#fff" stroke-width="1.1"/>
<path d="M609 361.6 Q608.5 367.6 603.7 366.6 L595.1 371.6 C590.6 374.2 594.6 383 590.1 385.6 L544.2 410.7 C538.6 414 543.2 426.4 537.6 429.7 L477.2 465.1" fill="none" stroke="#000" stroke-width="3.2"/><path d="M609 361.6 Q608.5 367.6 603.7 366.6 L595.1 371.6 C590.6 374.2 594.6 383 590.1 385.6 L544.2 410.7 C538.6 414 543.2 426.4 537.6 429.7 L477.2 465.1" fill="none" stroke="#fff" stroke-width="1.1"/>
<path d="M622.1 368.9 Q621.6 374.9 617.1 373.8 L608.5 378.8 C604 381.4 608 390.2 603.5 392.8 L557.8 418.5 C552.2 421.8 556.8 434.2 551.2 437.5 L490.8 472.9" fill="none" stroke="#000" stroke-width="3.2"/><path d="M622.1 368.9 Q621.6 374.9 617.1 373.8 L608.5 378.8 C604 381.4 608 390.2 603.5 392.8 L557.8 418.5 C552.2 421.8 556.8 434.2 551.2 437.5 L490.8 472.9" fill="none" stroke="#fff" stroke-width="1.1"/>
<path d="M635.2 376.2 Q634.7 382.2 630.5 380.9 L621.9 386 C617.4 388.6 621.4 397.4 616.9 400 L571.4 426.3 C565.8 429.6 570.4 442 564.8 445.3 L504.4 480.7" fill="none" stroke="#000" stroke-width="3.2"/><path d="M635.2 376.2 Q634.7 382.2 630.5 380.9 L621.9 386 C617.4 388.6 621.4 397.4 616.9 400 L571.4 426.3 C565.8 429.6 570.4 442 564.8 445.3 L504.4 480.7" fill="none" stroke="#fff" stroke-width="1.1"/>
<path d="M648.3 383.6 Q647.8 389.6 643.9 388.2 L635.3 393.2 C630.8 395.8 634.8 404.6 630.3 407.2 L585 434.1 C579.4 437.4 584 449.8 578.4 453.1 L518 488.4" fill="none" stroke="#000" stroke-width="3.2"/><path d="M648.3 383.6 Q647.8 389.6 643.9 388.2 L635.3 393.2 C630.8 395.8 634.8 404.6 630.3 407.2 L585 434.1 C579.4 437.4 584 449.8 578.4 453.1 L518 488.4" fill="none" stroke="#fff" stroke-width="1.1"/>
<path d="M661.4 390.9 Q660.9 396.9 657.3 395.4 L648.7 400.4 C644.2 403 648.2 411.8 643.7 414.4 L598.6 441.9 C593 445.2 597.6 457.6 592 460.9 L531.6 496.2" fill="none" stroke="#000" stroke-width="3.2"/><path d="M661.4 390.9 Q660.9 396.9 657.3 395.4 L648.7 400.4 C644.2 403 648.2 411.8 643.7 414.4 L598.6 441.9 C593 445.2 597.6 457.6 592 460.9 L531.6 496.2" fill="none" stroke="#fff" stroke-width="1.1"/>
<path d="M674.5 398.3 Q674 404.3 670.7 402.6 L662.1 407.6 C657.6 410.2 661.6 419 657.1 421.6 L612.2 449.7 C606.6 453 611.2 465.4 605.6 468.7 L545.2 504.1" fill="none" stroke="#000" stroke-width="3.2"/><path d="M674.5 398.3 Q674 404.3 670.7 402.6 L662.1 407.6 C657.6 410.2 661.6 419 657.1 421.6 L612.2 449.7 C606.6 453 611.2 465.4 605.6 468.7 L545.2 504.1" fill="none" stroke="#fff" stroke-width="1.1"/>
<path d="M687.6 405.6 Q687.1 411.6 684.1 409.8 L675.5 414.8 C671 417.4 675 426.2 670.5 428.8 L625.8 457.5 C620.2 460.8 624.8 473.2 619.2 476.5 L558.8 511.9" fill="none" stroke="#000" stroke-width="3.2"/><path d="M687.6 405.6 Q687.1 411.6 684.1 409.8 L675.5 414.8 C671 417.4 675 426.2 670.5 428.8 L625.8 457.5 C620.2 460.8 624.8 473.2 619.2 476.5 L558.8 511.9" fill="none" stroke="#fff" stroke-width="1.1"/>
</g>
<path d="M532.8 282 L685.4 367.8" fill="none" stroke="#000" stroke-width="2.0"/>
<path d="M548.8 269.8 C548.5 270.3 547.8 271.6 547 272.8 C546.2 274 544.9 275.5 544.3 276.8 C543.7 278.1 543.6 272.5 543.5 280.8 C543.4 289.1 543.7 318.5 543.5 326.8 C543.3 335.1 542.5 330.1 542.3 330.8" fill="none" stroke="#000" stroke-width="3.2"/><path d="M548.8 269.8 C548.5 270.3 547.8 271.6 547 272.8 C546.2 274 544.9 275.5 544.3 276.8 C543.7 278.1 543.6 272.5 543.5 280.8 C543.4 289.1 543.7 318.5 543.5 326.8 C543.3 335.1 542.5 330.1 542.3 330.8" fill="none" stroke="#fff" stroke-width="1.1"/>
<path d="M561.9 277.2 C561.6 277.7 560.9 279 560.1 280.2 C559.4 281.3 558 282.8 557.4 284.2 C556.8 285.5 556.7 279.8 556.6 288.2 C556.5 296.5 556.8 325.8 556.6 334.2 C556.4 342.5 555.6 337.5 555.4 338.2" fill="none" stroke="#000" stroke-width="3.2"/><path d="M561.9 277.2 C561.6 277.7 560.9 279 560.1 280.2 C559.4 281.3 558 282.8 557.4 284.2 C556.8 285.5 556.7 279.8 556.6 288.2 C556.5 296.5 556.8 325.8 556.6 334.2 C556.4 342.5 555.6 337.5 555.4 338.2" fill="none" stroke="#fff" stroke-width="1.1"/>
<path d="M575 284.5 C574.7 285 574 286.3 573.2 287.5 C572.5 288.7 571.1 290.2 570.5 291.5 C569.9 292.8 569.8 287.2 569.7 295.5 C569.6 303.8 569.9 333.2 569.7 341.5 C569.5 349.8 568.7 344.8 568.5 345.5" fill="none" stroke="#000" stroke-width="3.2"/><path d="M575 284.5 C574.7 285 574 286.3 573.2 287.5 C572.5 288.7 571.1 290.2 570.5 291.5 C569.9 292.8 569.8 287.2 569.7 295.5 C569.6 303.8 569.9 333.2 569.7 341.5 C569.5 349.8 568.7 344.8 568.5 345.5" fill="none" stroke="#fff" stroke-width="1.1"/>
<path d="M588.1 291.9 C587.8 292.4 587 293.7 586.3 294.9 C585.5 296 584.2 297.5 583.6 298.9 C583 300.2 582.9 294.5 582.8 302.9 C582.7 311.2 583 340.5 582.8 348.9 C582.6 357.2 581.8 352.2 581.6 352.9" fill="none" stroke="#000" stroke-width="3.2"/><path d="M588.1 291.9 C587.8 292.4 587 293.7 586.3 294.9 C585.5 296 584.2 297.5 583.6 298.9 C583 300.2 582.9 294.5 582.8 302.9 C582.7 311.2 583 340.5 582.8 348.9 C582.6 357.2 581.8 352.2 581.6 352.9" fill="none" stroke="#fff" stroke-width="1.1"/>
<path d="M601.2 299.2 C600.9 299.7 600.1 301 599.4 302.2 C598.6 303.4 597.3 304.9 596.7 306.2 C596.1 307.5 596 301.9 595.9 310.2 C595.8 318.5 596.1 347.9 595.9 356.2 C595.7 364.5 594.9 359.5 594.7 360.2" fill="none" stroke="#000" stroke-width="3.2"/><path d="M601.2 299.2 C600.9 299.7 600.1 301 599.4 302.2 C598.6 303.4 597.3 304.9 596.7 306.2 C596.1 307.5 596 301.9 595.9 310.2 C595.8 318.5 596.1 347.9 595.9 356.2 C595.7 364.5 594.9 359.5 594.7 360.2" fill="none" stroke="#fff" stroke-width="1.1"/>
<path d="M614.3 306.6 C614 307.1 613.2 308.4 612.5 309.6 C611.8 310.7 610.4 312.2 609.8 313.6 C609.2 314.9 609.1 309.2 609 317.6 C608.9 325.9 609.2 355.2 609 363.6 C608.8 371.9 608 366.9 607.8 367.6" fill="none" stroke="#000" stroke-width="3.2"/><path d="M614.3 306.6 C614 307.1 613.2 308.4 612.5 309.6 C611.8 310.7 610.4 312.2 609.8 313.6 C609.2 314.9 609.1 309.2 609 317.6 C608.9 325.9 609.2 355.2 609 363.6 C608.8 371.9 608 366.9 607.8 367.6" fill="none" stroke="#fff" stroke-width="1.1"/>
<path d="M627.4 313.9 C627.1 314.4 626.4 315.7 625.6 316.9 C624.9 318.1 623.5 319.6 622.9 320.9 C622.3 322.2 622.2 316.6 622.1 324.9 C622 333.2 622.3 362.6 622.1 370.9 C621.9 379.2 621.1 374.2 620.9 374.9" fill="none" stroke="#000" stroke-width="3.2"/><path d="M627.4 313.9 C627.1 314.4 626.4 315.7 625.6 316.9 C624.9 318.1 623.5 319.6 622.9 320.9 C622.3 322.2 622.2 316.6 622.1 324.9 C622 333.2 622.3 362.6 622.1 370.9 C621.9 379.2 621.1 374.2 620.9 374.9" fill="none" stroke="#fff" stroke-width="1.1"/>
<path d="M640.5 321.2 C640.2 321.8 639.5 323.1 638.7 324.2 C638 325.4 636.6 326.9 636 328.2 C635.4 329.6 635.3 323.9 635.2 332.2 C635.1 340.6 635.4 369.9 635.2 378.2 C635 386.6 634.2 381.6 634 382.2" fill="none" stroke="#000" stroke-width="3.2"/><path d="M640.5 321.2 C640.2 321.8 639.5 323.1 638.7 324.2 C638 325.4 636.6 326.9 636 328.2 C635.4 329.6 635.3 323.9 635.2 332.2 C635.1 340.6 635.4 369.9 635.2 378.2 C635 386.6 634.2 381.6 634 382.2" fill="none" stroke="#fff" stroke-width="1.1"/>
<path d="M653.6 328.6 C653.3 329.1 652.5 330.4 651.8 331.6 C651 332.8 649.7 334.3 649.1 335.6 C648.5 336.9 648.4 331.3 648.3 339.6 C648.2 347.9 648.5 377.3 648.3 385.6 C648.1 393.9 647.3 388.9 647.1 389.6" fill="none" stroke="#000" stroke-width="3.2"/><path d="M653.6 328.6 C653.3 329.1 652.5 330.4 651.8 331.6 C651 332.8 649.7 334.3 649.1 335.6 C648.5 336.9 648.4 331.3 648.3 339.6 C648.2 347.9 648.5 377.3 648.3 385.6 C648.1 393.9 647.3 388.9 647.1 389.6" fill="none" stroke="#fff" stroke-width="1.1"/>
<path d="M666.7 335.9 C666.4 336.4 665.6 337.8 664.9 338.9 C664.1 340.1 662.8 341.6 662.2 342.9 C661.6 344.3 661.5 338.6 661.4 346.9 C661.3 355.3 661.6 384.6 661.4 392.9 C661.2 401.3 660.4 396.3 660.2 396.9" fill="none" stroke="#000" stroke-width="3.2"/><path d="M666.7 335.9 C666.4 336.4 665.6 337.8 664.9 338.9 C664.1 340.1 662.8 341.6 662.2 342.9 C661.6 344.3 661.5 338.6 661.4 346.9 C661.3 355.3 661.6 384.6 661.4 392.9 C661.2 401.3 660.4 396.3 660.2 396.9" fill="none" stroke="#fff" stroke-width="1.1"/>
<path d="M679.8 343.3 C679.5 343.8 678.8 345.1 678 346.3 C677.2 347.5 675.9 349 675.3 350.3 C674.7 351.6 674.6 346 674.5 354.3 C674.4 362.6 674.7 392 674.5 400.3 C674.3 408.6 673.5 403.6 673.3 404.3" fill="none" stroke="#000" stroke-width="3.2"/><path d="M679.8 343.3 C679.5 343.8 678.8 345.1 678 346.3 C677.2 347.5 675.9 349 675.3 350.3 C674.7 351.6 674.6 346 674.5 354.3 C674.4 362.6 674.7 392 674.5 400.3 C674.3 408.6 673.5 403.6 673.3 404.3" fill="none" stroke="#fff" stroke-width="1.1"/>
<path d="M692.9 350.6 C692.6 351.1 691.9 352.5 691.1 353.6 C690.4 354.8 689 356.3 688.4 357.6 C687.8 359 687.7 353.3 687.6 361.6 C687.5 370 687.8 399.3 687.6 407.6 C687.4 416 686.6 411 686.4 411.6" fill="none" stroke="#000" stroke-width="3.2"/><path d="M692.9 350.6 C692.6 351.1 691.9 352.5 691.1 353.6 C690.4 354.8 689 356.3 688.4 357.6 C687.8 359 687.7 353.3 687.6 361.6 C687.5 370 687.8 399.3 687.6 407.6 C687.4 416 686.6 411 686.4 411.6" fill="none" stroke="#fff" stroke-width="1.1"/>
<path d="M698.3 355.3 C698 356.6 697.8 360.1 696.8 362.9 C695.8 365.7 693.3 365.5 692.5 372.1 C691.7 378.7 692 397.5 691.9 402.6" fill="none" stroke="#000" stroke-width="3.2"/><path d="M698.3 355.3 C698 356.6 697.8 360.1 696.8 362.9 C695.8 365.7 693.3 365.5 692.5 372.1 C691.7 378.7 692 397.5 691.9 402.6" fill="none" stroke="#fff" stroke-width="1.1"/>
<path d="M691.5 356.8 C690.9 359.1 688.3 363.1 687.7 370.5 C687.1 377.9 687.7 395.9 687.7 401" fill="none" stroke="#000" stroke-width="3.2"/><path d="M691.5 356.8 C690.9 359.1 688.3 363.1 687.7 370.5 C687.1 377.9 687.7 395.9 687.7 401" fill="none" stroke="#fff" stroke-width="1.1"/>
<path d="M362.5 362.4 L433.2 324.6 L435.2 325.3 L438.2 327 L444.9 326.6 L460.7 316.6 L461.2 309.2 L464.8 306.7 L532.8 262.2" fill="none" stroke="#000" stroke-width="4"/><path d="M362.5 362.4 L433.2 324.6 L435.2 325.3 L438.2 327 L444.9 326.6 L460.7 316.6 L461.2 309.2 L464.8 306.7 L532.8 262.2" fill="none" stroke="#fff" stroke-width="1.7"/>
<path d="M532.8 262.2 L698.3 354.5" fill="none" stroke="#000" stroke-width="4"/><path d="M532.8 262.2 L698.3 354.5" fill="none" stroke="#fff" stroke-width="1.7"/>
<path d="M391.5 419.4 L404.5 406 M391.5 419.4 L396.5 417.9 M404.5 427 L417.5 413.6 M404.5 427 L409.5 425.5 M417.5 434.6 L430.5 421.2 M417.5 434.6 L422.5 433.1 M430.5 442.2 L443.5 428.8 M430.5 442.2 L435.5 440.7 M443.5 449.8 L456.5 436.4 M443.5 449.8 L448.5 448.3 M456.5 457.4 L469.5 444 M456.5 457.4 L461.5 455.9 M469.5 465 L482.5 451.6 M469.5 465 L474.5 463.5 M482.5 472.6 L495.5 459.2 M482.5 472.6 L487.5 471.1 M495.5 480.2 L508.5 466.8 M495.5 480.2 L500.5 478.7 M508.5 487.8 L521.5 474.4 M508.5 487.8 L513.5 486.3" fill="none" stroke="#000" stroke-width="2.4"/><path d="M391.5 419.4 L404.5 406 M391.5 419.4 L396.5 417.9 M404.5 427 L417.5 413.6 M404.5 427 L409.5 425.5 M417.5 434.6 L430.5 421.2 M417.5 434.6 L422.5 433.1 M430.5 442.2 L443.5 428.8 M430.5 442.2 L435.5 440.7 M443.5 449.8 L456.5 436.4 M443.5 449.8 L448.5 448.3 M456.5 457.4 L469.5 444 M456.5 457.4 L461.5 455.9 M469.5 465 L482.5 451.6 M469.5 465 L474.5 463.5 M482.5 472.6 L495.5 459.2 M482.5 472.6 L487.5 471.1 M495.5 480.2 L508.5 466.8 M495.5 480.2 L500.5 478.7 M508.5 487.8 L521.5 474.4 M508.5 487.8 L513.5 486.3" fill="none" stroke="#fff" stroke-width="0.8"/>
<path d="M365.5 364.2 L365.5 404.2 M378.5 371.8 L378.5 412.1 M391.5 379.4 L391.5 419.9 M404.5 387 L404.5 427.8 M417.5 394.6 L417.5 435.7 M430.5 402.2 L430.5 443.5 M443.5 409.8 L443.5 451.4 M456.5 417.4 L456.5 459.2 M469.5 425 L469.5 467.1 M482.5 432.6 L482.5 475 M495.5 440.2 L495.5 482.8 M508.5 447.8 L508.5 490.7 M521.5 455.4 L521.5 498.5" fill="none" stroke="#000" stroke-width="3.2"/><path d="M365.5 364.2 L365.5 404.2 M378.5 371.8 L378.5 412.1 M391.5 379.4 L391.5 419.9 M404.5 387 L404.5 427.8 M417.5 394.6 L417.5 435.7 M430.5 402.2 L430.5 443.5 M443.5 409.8 L443.5 451.4 M456.5 417.4 L456.5 459.2 M469.5 425 L469.5 467.1 M482.5 432.6 L482.5 475 M495.5 440.2 L495.5 482.8 M508.5 447.8 L508.5 490.7 M521.5 455.4 L521.5 498.5" fill="none" stroke="#fff" stroke-width="1.1"/>
<path d="M392.5 406.9 L524 484.8" fill="none" stroke="#000" stroke-width="2.2"/>
<path d="M398.5 416.4 L524 490.8" fill="none" stroke="#000" stroke-width="2.2"/><path d="M398.5 416.4 L524 490.8" fill="none" stroke="#fff" stroke-width="0.8"/>
<path d="M390.5 393.8 L524 472.8" fill="none" stroke="#000" stroke-width="2.4"/><path d="M390.5 393.8 L524 472.8" fill="none" stroke="#fff" stroke-width="0.8"/>
<path d="M404.5 393 l3 1.7 v5 l3 1.7 v-5 M411.1 396.8 l3 1.7 v5 l3 1.7 v-5 M417.8 400.7 l3 1.7 v5 l3 1.7 v-5 M424.4 404.6 l3 1.7 v5 l3 1.7 v-5 M431.1 408.5 l3 1.7 v5 l3 1.7 v-5 M437.7 412.4 l3 1.7 v5 l3 1.7 v-5 M444.4 416.3 l3 1.7 v5 l3 1.7 v-5 M451 420.2 l3 1.7 v5 l3 1.7 v-5 M457.7 424.1 l3 1.7 v5 l3 1.7 v-5 M464.3 428 l3 1.7 v5 l3 1.7 v-5 M471 431.8 l3 1.7 v5 l3 1.7 v-5 M477.6 435.7 l3 1.7 v5 l3 1.7 v-5 M484.3 439.6 l3 1.7 v5 l3 1.7 v-5 M490.9 443.5 l3 1.7 v5 l3 1.7 v-5 M497.6 447.4 l3 1.7 v5 l3 1.7 v-5 M504.2 451.3 l3 1.7 v5 l3 1.7 v-5 " fill="none" stroke="#000" stroke-width="1"/>
<path d="M365.8 389.9 L375 398.2 L391.6 414.8 L389.9 428.2 L373.3 433.1 L365.8 426.5Z" fill="#fff" stroke="#000" stroke-width="1.1"/>
<path d="M389.9 414.8 L394.9 413.2 L433.2 439.8 L435.7 443.1 L431.6 446.5 L423.2 444.8 L391.6 423.2Z" fill="#fff" stroke="#000" stroke-width="1.2"/>
<path d="M419.9 434.8 L433.2 441.5 L431.6 445.6 L420.7 439Z" fill="url(#mesh)" stroke="#000" stroke-width="0.6"/>
<path d="M392.4 417.3 L421.6 431.5" fill="none" stroke="#555" stroke-width="0.7"/>
<ellipse cx="366.6" cy="408.2" rx="5.8" ry="6.6" fill="#fff" stroke="#000" stroke-width="1.5" transform="rotate(-20 366.6 408.2)"/>
<ellipse cx="365.8" cy="408.5" rx="3.6" ry="4.4" fill="none" stroke="#000" stroke-width="1.1" transform="rotate(-20 365.8 408.5)"/>
<ellipse cx="370.1" cy="407.2" rx="5.2" ry="6.2" fill="none" stroke="#000" stroke-width="1" transform="rotate(-20 370.1 407.2)"/>
<ellipse cx="369.6" cy="428.2" rx="5.8" ry="6.6" fill="#fff" stroke="#000" stroke-width="1.5" transform="rotate(-20 369.6 428.2)"/>
<ellipse cx="368.8" cy="428.5" rx="3.6" ry="4.4" fill="none" stroke="#000" stroke-width="1.1" transform="rotate(-20 368.8 428.5)"/>
<ellipse cx="373.1" cy="427.2" rx="5.2" ry="6.2" fill="none" stroke="#000" stroke-width="1" transform="rotate(-20 373.1 427.2)"/>
<ellipse cx="410.2" cy="434.5" rx="5.8" ry="6.6" fill="#fff" stroke="#000" stroke-width="1.5" transform="rotate(-20 410.2 434.5)"/>
<ellipse cx="409.4" cy="434.8" rx="3.6" ry="4.4" fill="none" stroke="#000" stroke-width="1.1" transform="rotate(-20 409.4 434.8)"/>
<ellipse cx="413.7" cy="433.5" rx="5.2" ry="6.2" fill="none" stroke="#000" stroke-width="1" transform="rotate(-20 413.7 433.5)"/>
<path d="M510.7 453.2 L510.7 497.5 M522.9 465.4 L522.9 506.6 M540.4 471.5 L540.4 511.2 M550.3 474.6 L550.3 511.2 M567.1 465.4 L567.1 492.9 M579.3 459.3 L579.3 492.1 M590 451.7 L590 485.3 M612.9 425.8 L612.9 447.1 M625.1 419.7 L625.1 441 M641.9 415.1 L641.9 430.3 M655.6 415.1 L655.6 425.8 M667.8 409 L667.8 425.8 M687.7 396.8 L687.7 424.2 M696.8 392.2 L696.8 425.8" fill="none" stroke="#000" stroke-width="3.2"/><path d="M510.7 453.2 L510.7 497.5 M522.9 465.4 L522.9 506.6 M540.4 471.5 L540.4 511.2 M550.3 474.6 L550.3 511.2 M567.1 465.4 L567.1 492.9 M579.3 459.3 L579.3 492.1 M590 451.7 L590 485.3 M612.9 425.8 L612.9 447.1 M625.1 419.7 L625.1 441 M641.9 415.1 L641.9 430.3 M655.6 415.1 L655.6 425.8 M667.8 409 L667.8 425.8 M687.7 396.8 L687.7 424.2 M696.8 392.2 L696.8 425.8" fill="none" stroke="#fff" stroke-width="1.1"/>
<path d="M510.7 497.5 L522.9 486.8 M522.9 506.6 L540.4 492.9 M540.4 511.2 L550.3 499 M550.3 511.2 L567.1 492.9 M567.1 492.9 L579.3 492.1 L590 485.3 M667.8 425.8 L687.7 424.2 L696.8 425.8 M669.3 418.1 L698.3 424.2" fill="none" stroke="#000" stroke-width="2.2"/><path d="M510.7 497.5 L522.9 486.8 M522.9 506.6 L540.4 492.9 M540.4 511.2 L550.3 499 M550.3 511.2 L567.1 492.9 M567.1 492.9 L579.3 492.1 L590 485.3 M667.8 425.8 L687.7 424.2 L696.8 425.8 M669.3 418.1 L698.3 424.2" fill="none" stroke="#fff" stroke-width="0.8"/>
<path d="M597.6 447.1 C600.1 445.8 606.8 442.3 612.9 439.5 C619 436.7 626.7 432.6 634.3 430.3 C641.9 428 647.3 430 658.7 425.8 C670.1 421.6 695.4 409.3 702.9 405.2 C710.4 401.1 703.6 402 703.7 401.4" fill="none" stroke="#000" stroke-width="3.3"/><path d="M597.6 447.1 C600.1 445.8 606.8 442.3 612.9 439.5 C619 436.7 626.7 432.6 634.3 430.3 C641.9 428 647.3 430 658.7 425.8 C670.1 421.6 695.4 409.3 702.9 405.2 C710.4 401.1 703.6 402 703.7 401.4" fill="none" stroke="#fff" stroke-width="1.1"/>
<path d="M519.1 486.8 C521 487.7 525.8 491 530.5 492.1 C535.2 493.2 537.1 497 547.3 493.2 C557.5 489.4 584 473.9 591.5 469.3 C599 464.7 592.2 466 592.3 465.4" fill="none" stroke="#000" stroke-width="3.3"/><path d="M519.1 486.8 C521 487.7 525.8 491 530.5 492.1 C535.2 493.2 537.1 497 547.3 493.2 C557.5 489.4 584 473.9 591.5 469.3 C599 464.7 592.2 466 592.3 465.4" fill="none" stroke="#fff" stroke-width="1.1"/>
<path d="M518.3 475.8 C520.3 476.6 525.7 479.7 530.5 480.7 C535.3 481.7 537.1 485.8 547.3 481.9 C557.5 477.9 583.8 462 591.5 457 C599.2 452 592.8 454.1 593.4 451.7 C594 449.3 588.1 448.2 594.9 442.6 C601.7 437.1 623.7 422.2 634.3 418.4 C644.9 414.6 647.4 423.7 658.7 420 C670 416.3 694.6 400.6 702.1 396 C709.6 391.4 703.4 392.8 703.7 392.2" fill="none" stroke="#000" stroke-width="3.3"/><path d="M518.3 475.8 C520.3 476.6 525.7 479.7 530.5 480.7 C535.3 481.7 537.1 485.8 547.3 481.9 C557.5 477.9 583.8 462 591.5 457 C599.2 452 592.8 454.1 593.4 451.7 C594 449.3 588.1 448.2 594.9 442.6 C601.7 437.1 623.7 422.2 634.3 418.4 C644.9 414.6 647.4 423.7 658.7 420 C670 416.3 694.6 400.6 702.1 396 C709.6 391.4 703.4 392.8 703.7 392.2" fill="none" stroke="#fff" stroke-width="1.1"/>
<path d="M362.5 362.4 L363.5 365.4 L500 442.9 L518.3 463.1 L527.5 470 L538.1 473.1 L548.8 473.8 L587.7 451.7 L590.3 445.6 L591.5 435.2 L634.3 411.3 L658.7 413 L701.1 389.5 L703.2 385.3 L702.1 380 L699.3 360.5 L698.3 354.5" fill="none" stroke="#000" stroke-width="4"/><path d="M362.5 362.4 L363.5 365.4 L500 442.9 L518.3 463.1 L527.5 470 L538.1 473.1 L548.8 473.8 L587.7 451.7 L590.3 445.6 L591.5 435.2 L634.3 411.3 L658.7 413 L701.1 389.5 L703.2 385.3 L702.1 380 L699.3 360.5 L698.3 354.5" fill="none" stroke="#fff" stroke-width="1.7"/>
<path d="M363.5 360.4 L364 402.4" fill="none" stroke="#000" stroke-width="3.2"/><path d="M363.5 360.4 L364 402.4" fill="none" stroke="#fff" stroke-width="1.1"/>
<path d="M375 353.3 L375.8 399.9" fill="none" stroke="#000" stroke-width="3.2"/><path d="M375 353.3 L375.8 399.9" fill="none" stroke="#fff" stroke-width="1.1"/>
<path d="M618.7 456.3 L622.1 451.4 L667.8 427.6 L688.4 432.2 L690.4 433.7 L691 448.3 L627.9 486.8 L625.1 485.6 L622.1 473.1Z" fill="#fff" stroke="#000" stroke-width="1.5"/>
<path d="M622.1 451.4 L625.4 463.1 L688.9 432.6" fill="none" stroke="#000" stroke-width="1.1"/>
<path d="M625.4 463.1 L627.9 486.8" fill="none" stroke="#000" stroke-width="1"/>
<path d="M628.5 466.2 L686.9 436.8 L687.7 447.9 L628.9 481.5Z" fill="none" stroke="#333" stroke-width="0.8"/>
<path d="M622.1 468.5 L624.3 469.3" fill="none" stroke="#000" stroke-width="0.8"/>
<path d="M622.4 471.5 L624.6 472.3" fill="none" stroke="#000" stroke-width="0.8"/>
<!-- 30_lower_basket.py -->
<path d="M506.4 829.4 L577.5 787.8 L583.3 786.7 L588.6 783.5 L606.5 772.7 L609.7 770.1 L614.9 767.2 L680.3 728.7" fill="none" stroke="#000" stroke-width="3.2"/><path d="M506.4 829.4 L577.5 787.8 L583.3 786.7 L588.6 783.5 L606.5 772.7 L609.7 770.1 L614.9 767.2 L680.3 728.7" fill="none" stroke="#fff" stroke-width="1.1"/>
<path d="M506.4 825.7 L577.5 784.1 L583.3 783 L588.6 779.8 L606.5 769 L609.7 766.4 L614.9 763.5 L680.3 725" fill="none" stroke="#000" stroke-width="3.2"/><path d="M506.4 825.7 L577.5 784.1 L583.3 783 L588.6 779.8 L606.5 769 L609.7 766.4 L614.9 763.5 L680.3 725" fill="none" stroke="#fff" stroke-width="1.1"/>
<path d="M506.4 813.3 L577.5 771.7 L583.3 770.6 L588.6 767.5 L606.5 756.7 L609.7 754 L614.9 751.1 L680.3 712.6" fill="none" stroke="#000" stroke-width="3.2"/><path d="M506.4 813.3 L577.5 771.7 L583.3 770.6 L588.6 767.5 L606.5 756.7 L609.7 754 L614.9 751.1 L680.3 712.6" fill="none" stroke="#fff" stroke-width="1.1"/>
<path d="M530.1 843.6 L577.5 813.8 L584.1 812.8 L606.5 798 L611.8 796.2 L680.3 755.9" fill="none" stroke="#000" stroke-width="3.2"/><path d="M530.1 843.6 L577.5 813.8 L584.1 812.8 L606.5 798 L611.8 796.2 L680.3 755.9" fill="none" stroke="#fff" stroke-width="1.1"/>
<path d="M528.8 803.3 L528.8 868.7" fill="none" stroke="#000" stroke-width="3.2"/><path d="M528.8 803.3 L528.8 868.7" fill="none" stroke="#fff" stroke-width="1.1"/>
<path d="M565.6 779.6 L565.6 842.3 L568.3 846.3 L664.5 902.9 L698.7 922.7" fill="none" stroke="#000" stroke-width="3.2"/><path d="M565.6 779.6 L565.6 842.3 L568.3 846.3 L664.5 902.9 L698.7 922.7" fill="none" stroke="#fff" stroke-width="1.1"/>
<path d="M593.3 766.4 L593.3 827.8 L597.3 833.1 L603.9 837 L611.8 839.7 L627.6 852.8 L638.1 858.1 L651.3 860.7 L664.5 871.3 L680.3 881.8 L698.7 896.3 L717.2 910.8" fill="none" stroke="#000" stroke-width="3.2"/><path d="M593.3 766.4 L593.3 827.8 L597.3 833.1 L603.9 837 L611.8 839.7 L627.6 852.8 L638.1 858.1 L651.3 860.7 L664.5 871.3 L680.3 881.8 L698.7 896.3 L717.2 910.8" fill="none" stroke="#fff" stroke-width="1.1"/>
<path d="M632.8 740.1 L632.8 799.6 L636.8 804.1 L685.5 823.9 L698.7 821.2 L706.6 822.5 L717.2 823.9 L733 837 L743.5 843.6 L754.1 847.6 L763.3 858.1 L769.9 881.8" fill="none" stroke="#000" stroke-width="3.2"/><path d="M632.8 740.1 L632.8 799.6 L636.8 804.1 L685.5 823.9 L698.7 821.2 L706.6 822.5 L717.2 823.9 L733 837 L743.5 843.6 L754.1 847.6 L763.3 858.1 L769.9 881.8" fill="none" stroke="#fff" stroke-width="1.1"/>
<path d="M660.5 725 L660.5 788.3 L664.5 792.2 L698.7 792.2 L701.4 788.3 L704 779.1" fill="none" stroke="#000" stroke-width="3.2"/><path d="M660.5 725 L660.5 788.3 L664.5 792.2 L698.7 792.2 L701.4 788.3 L704 779.1" fill="none" stroke="#fff" stroke-width="1.1"/>
<path d="M690.8 716.3 L690.8 771.2 L686.9 779.1 L686.9 784.9 L694.8 784.9" fill="none" stroke="#000" stroke-width="3.2"/><path d="M690.8 716.3 L690.8 771.2 L686.9 779.1 L686.9 784.9 L694.8 784.9" fill="none" stroke="#fff" stroke-width="1.1"/>
<path d="M680.3 712.6 C681.8 712.9 687.1 713.6 689.5 714.5 C691.9 715.4 693.8 716.8 694.8 717.9 C695.8 719 695.5 720.6 695.6 721.1" fill="none" stroke="#000" stroke-width="3.2"/><path d="M680.3 712.6 C681.8 712.9 687.1 713.6 689.5 714.5 C691.9 715.4 693.8 716.8 694.8 717.9 C695.8 719 695.5 720.6 695.6 721.1" fill="none" stroke="#fff" stroke-width="1.1"/>
<path d="M680.3 725 L690.8 727.4" fill="none" stroke="#000" stroke-width="3.2"/><path d="M680.3 725 L690.8 727.4" fill="none" stroke="#fff" stroke-width="1.1"/>
<path d="M680.3 728.7 L690.8 731.1" fill="none" stroke="#000" stroke-width="3.2"/><path d="M680.3 728.7 L690.8 731.1" fill="none" stroke="#fff" stroke-width="1.1"/>
<path d="M688.2 718.4 L696.6 718.4" fill="none" stroke="#000" stroke-width="1"/>
<path d="M688.2 731.6 L696.6 731.6" fill="none" stroke="#000" stroke-width="1"/>
<path d="M688.2 739.5 L696.6 739.5" fill="none" stroke="#000" stroke-width="1"/>
<path d="M688.2 760.6 L696.6 760.6" fill="none" stroke="#000" stroke-width="1"/>
<path d="M696.1 739.5 L830.5 813.3" fill="none" stroke="#000" stroke-width="3.2"/><path d="M696.1 739.5 L830.5 813.3" fill="none" stroke="#fff" stroke-width="1.1"/>
<path d="M696.1 751.4 L830.5 825.2" fill="none" stroke="#000" stroke-width="3.2"/><path d="M696.1 751.4 L830.5 825.2" fill="none" stroke="#fff" stroke-width="1.1"/>
<path d="M688.2 775.1 L791 834.4" fill="none" stroke="#000" stroke-width="3.2"/><path d="M688.2 775.1 L791 834.4" fill="none" stroke="#fff" stroke-width="1.1"/>
<path d="M706.6 743.5 L706.6 779.1 L701.4 787 L698.7 792.2" fill="none" stroke="#000" stroke-width="3.2"/><path d="M706.6 743.5 L706.6 779.1 L701.4 787 L698.7 792.2" fill="none" stroke="#fff" stroke-width="1.1"/>
<path d="M726.4 754 L726.4 789.6 L721.1 797 L721.1 804.9 L727.7 804.9" fill="none" stroke="#000" stroke-width="3.2"/><path d="M726.4 754 L726.4 789.6 L721.1 797 L721.1 804.9 L727.7 804.9" fill="none" stroke="#fff" stroke-width="1.1"/>
<path d="M754.1 769.8 L754.1 805.4 L748.8 813.3 L748.8 819.9 L743.5 822.5" fill="none" stroke="#000" stroke-width="3.2"/><path d="M754.1 769.8 L754.1 805.4 L748.8 813.3 L748.8 819.9 L743.5 822.5" fill="none" stroke="#fff" stroke-width="1.1"/>
<path d="M784.4 788.3 L784.4 822.5 L779.1 830.4 L777.8 837" fill="none" stroke="#000" stroke-width="3.2"/><path d="M784.4 788.3 L784.4 822.5 L779.1 830.4 L777.8 837" fill="none" stroke="#fff" stroke-width="1.1"/>
<path d="M793.6 793.6 L793.6 823.9 L788.3 831.8 L788.3 837" fill="none" stroke="#000" stroke-width="3.2"/><path d="M793.6 793.6 L793.6 823.9 L788.3 831.8 L788.3 837" fill="none" stroke="#fff" stroke-width="1.1"/>
<path d="M569.6 868.7 L700 792.2" fill="none" stroke="#000" stroke-width="3.2"/><path d="M569.6 868.7 L700 792.2" fill="none" stroke="#fff" stroke-width="1.1"/>
<path d="M617 895.5 L746.2 819.1 L748.8 819.9" fill="none" stroke="#000" stroke-width="3.2"/><path d="M617 895.5 L746.2 819.1 L748.8 819.9" fill="none" stroke="#fff" stroke-width="1.1"/>
<path d="M648.7 914 L779.1 837.6" fill="none" stroke="#000" stroke-width="3.2"/><path d="M648.7 914 L779.1 837.6" fill="none" stroke="#fff" stroke-width="1.1"/>
<path d="M664.5 902.9 L743.5 860.7 L791 837" fill="none" stroke="#000" stroke-width="3.2"/><path d="M664.5 902.9 L743.5 860.7 L791 837" fill="none" stroke="#fff" stroke-width="1.1"/>
<path d="M549.8 858.1 C551.3 859.9 556.2 864.3 559.1 868.7 C562 873.1 563.5 879.9 567 884.5 C570.5 889.1 576.1 894.1 580.1 896.3 C584.1 898.5 586.3 895.6 590.7 897.6 C595.1 899.6 603.9 906.4 606.5 908.2" fill="none" stroke="#000" stroke-width="3.2"/><path d="M549.8 858.1 C551.3 859.9 556.2 864.3 559.1 868.7 C562 873.1 563.5 879.9 567 884.5 C570.5 889.1 576.1 894.1 580.1 896.3 C584.1 898.5 586.3 895.6 590.7 897.6 C595.1 899.6 603.9 906.4 606.5 908.2" fill="none" stroke="#fff" stroke-width="1.1"/>
<path d="M743.5 860.7 C744.8 862.9 748.3 870.4 751.4 873.9 C754.5 877.4 760.2 880.5 762 881.8" fill="none" stroke="#000" stroke-width="3.2"/><path d="M743.5 860.7 C744.8 862.9 748.3 870.4 751.4 873.9 C754.5 877.4 760.2 880.5 762 881.8" fill="none" stroke="#fff" stroke-width="1.1"/>
<path d="M830.5 813.3 L830.5 847.6" fill="none" stroke="#000" stroke-width="3.2"/><path d="M830.5 813.3 L830.5 847.6" fill="none" stroke="#fff" stroke-width="1.1"/>
<path d="M827.3 812 C828.3 812.3 831.2 812.9 833.1 813.8 C835 814.7 836.3 814.3 838.4 817.3 C840.5 820.3 844.4 828.5 845.8 831.8 C847.2 835.1 846.6 836.1 846.8 837" fill="none" stroke="#000" stroke-width="3.2"/><path d="M827.3 812 C828.3 812.3 831.2 812.9 833.1 813.8 C835 814.7 836.3 814.3 838.4 817.3 C840.5 820.3 844.4 828.5 845.8 831.8 C847.2 835.1 846.6 836.1 846.8 837" fill="none" stroke="#fff" stroke-width="1.1"/>
<path d="M835.8 818.6 L835.8 858.1" fill="none" stroke="#000" stroke-width="3.2"/><path d="M835.8 818.6 L835.8 858.1" fill="none" stroke="#fff" stroke-width="1.1"/>
<path d="M506.4 813.3 L506.4 858.1" fill="none" stroke="#000" stroke-width="3.2"/><path d="M506.4 813.3 L506.4 858.1" fill="none" stroke="#fff" stroke-width="1.1"/>
<path d="M506.4 813.8 C507.9 814.6 513.9 816.9 515.6 818.6 C517.4 820.3 516.7 823 516.9 823.9" fill="none" stroke="#000" stroke-width="3.2"/><path d="M506.4 813.8 C507.9 814.6 513.9 816.9 515.6 818.6 C517.4 820.3 516.7 823 516.9 823.9" fill="none" stroke="#fff" stroke-width="1.1"/>
<path d="M506.4 826 C507.9 826.9 513.9 829.4 515.6 831.2 C517.4 833 516.7 836 516.9 837" fill="none" stroke="#000" stroke-width="3.2"/><path d="M506.4 826 C507.9 826.9 513.9 829.4 515.6 831.2 C517.4 833 516.7 836 516.9 837" fill="none" stroke="#fff" stroke-width="1.1"/>
<path d="M515.6 818.6 L515.6 864.7" fill="none" stroke="#000" stroke-width="3.2"/><path d="M515.6 818.6 L515.6 864.7" fill="none" stroke="#fff" stroke-width="1.1"/>
<path d="M528.8 854.2 L528.8 872.6" fill="none" stroke="#000" stroke-width="3.2"/><path d="M528.8 854.2 L528.8 872.6" fill="none" stroke="#fff" stroke-width="1.1"/>
<path d="M549.8 858.1 L549.8 889.7" fill="none" stroke="#000" stroke-width="3.2"/><path d="M549.8 858.1 L549.8 889.7" fill="none" stroke="#fff" stroke-width="1.1"/>
<path d="M577.5 872.6 L577.5 908.2" fill="none" stroke="#000" stroke-width="3.2"/><path d="M577.5 872.6 L577.5 908.2" fill="none" stroke="#fff" stroke-width="1.1"/>
<path d="M607.8 888.4 L607.8 924" fill="none" stroke="#000" stroke-width="3.2"/><path d="M607.8 888.4 L607.8 924" fill="none" stroke="#fff" stroke-width="1.1"/>
<path d="M617 893.7 L617 938.5" fill="none" stroke="#000" stroke-width="3.2"/><path d="M617 893.7 L617 938.5" fill="none" stroke="#fff" stroke-width="1.1"/>
<path d="M651.3 910.8 L651.3 950.3" fill="none" stroke="#000" stroke-width="3.2"/><path d="M651.3 910.8 L651.3 950.3" fill="none" stroke="#fff" stroke-width="1.1"/>
<path d="M664.5 918.7 L664.5 963.5" fill="none" stroke="#000" stroke-width="3.2"/><path d="M664.5 918.7 L664.5 963.5" fill="none" stroke="#fff" stroke-width="1.1"/>
<path d="M519.5 876.6 C519.4 877.6 519.2 881 518.7 882.4 C518.2 883.8 517.3 884.4 516.4 885 C515.5 885.6 513.7 885.8 513.2 886" fill="none" stroke="#000" stroke-width="3.2"/><path d="M519.5 876.6 C519.4 877.6 519.2 881 518.7 882.4 C518.2 883.8 517.3 884.4 516.4 885 C515.5 885.6 513.7 885.8 513.2 886" fill="none" stroke="#fff" stroke-width="1.1"/>
<path d="M555.1 896.3 C555 897.3 554.8 900.7 554.3 902.1 C553.8 903.5 552.8 904.2 551.9 904.8 C551 905.4 549.3 905.6 548.8 905.8" fill="none" stroke="#000" stroke-width="3.2"/><path d="M555.1 896.3 C555 897.3 554.8 900.7 554.3 902.1 C553.8 903.5 552.8 904.2 551.9 904.8 C551 905.4 549.3 905.6 548.8 905.8" fill="none" stroke="#fff" stroke-width="1.1"/>
<path d="M621 935.9 C620.9 936.9 620.7 940.3 620.2 941.7 C619.7 943.1 618.7 943.7 617.8 944.3 C616.9 944.9 615.2 945.1 614.7 945.3" fill="none" stroke="#000" stroke-width="3.2"/><path d="M621 935.9 C620.9 936.9 620.7 940.3 620.2 941.7 C619.7 943.1 618.7 943.7 617.8 944.3 C616.9 944.9 615.2 945.1 614.7 945.3" fill="none" stroke="#fff" stroke-width="1.1"/>
<path d="M655.2 956.9 C655.1 957.9 655 961.3 654.5 962.7 C654 964.1 653 964.8 652.1 965.4 C651.2 966 649.4 966.2 648.9 966.4" fill="none" stroke="#000" stroke-width="3.2"/><path d="M655.2 956.9 C655.1 957.9 655 961.3 654.5 962.7 C654 964.1 653 964.8 652.1 965.4 C651.2 966 649.4 966.2 648.9 966.4" fill="none" stroke="#fff" stroke-width="1.1"/>
<path d="M512.9 868.7 L648.7 938.5 L664.5 946.4 L698.7 949 L846.3 858.1 L847.6 854.2" fill="none" stroke="#000" stroke-width="3.2"/><path d="M512.9 868.7 L648.7 938.5 L664.5 946.4 L698.7 949 L846.3 858.1 L847.6 854.2" fill="none" stroke="#fff" stroke-width="1.1"/>
<path d="M506.4 855.5 L514.3 861.3 L643.4 926.6 L651.3 932.4 L698.7 937.2 L845.8 848.1 L847.6 843.6" fill="none" stroke="#000" stroke-width="3.2"/><path d="M506.4 855.5 L514.3 861.3 L643.4 926.6 L651.3 932.4 L698.7 937.2 L845.8 848.1 L847.6 843.6" fill="none" stroke="#fff" stroke-width="1.1"/>
<path d="M701.4 926.6 L701.4 963.5" fill="none" stroke="#000" stroke-width="3.2"/><path d="M701.4 926.6 L701.4 963.5" fill="none" stroke="#fff" stroke-width="1.1"/>
<path d="M738.3 900.3 L738.3 931.9" fill="none" stroke="#000" stroke-width="3.2"/><path d="M738.3 900.3 L738.3 931.9" fill="none" stroke="#fff" stroke-width="1.1"/>
<path d="M763.3 884.5 L763.3 918.7" fill="none" stroke="#000" stroke-width="3.2"/><path d="M763.3 884.5 L763.3 918.7" fill="none" stroke="#fff" stroke-width="1.1"/>
<path d="M792.3 868.7 L792.3 900.3" fill="none" stroke="#000" stroke-width="3.2"/><path d="M792.3 868.7 L792.3 900.3" fill="none" stroke="#fff" stroke-width="1.1"/>
<path d="M806.8 858.1 L806.8 895" fill="none" stroke="#000" stroke-width="3.2"/><path d="M806.8 858.1 L806.8 895" fill="none" stroke="#fff" stroke-width="1.1"/>
<path d="M831.8 842.3 L831.8 881.8" fill="none" stroke="#000" stroke-width="3.2"/><path d="M831.8 842.3 L831.8 881.8" fill="none" stroke="#fff" stroke-width="1.1"/>
<path d="M664.5 963.5 L680.3 953 L698.7 963.5 L701.4 963.5" fill="none" stroke="#000" stroke-width="3.2"/><path d="M664.5 963.5 L680.3 953 L698.7 963.5 L701.4 963.5" fill="none" stroke="#fff" stroke-width="1.1"/>
<path d="M704 949 L725.1 938.5 L733 941.1 L738.3 931.9" fill="none" stroke="#000" stroke-width="3.2"/><path d="M704 949 L725.1 938.5 L733 941.1 L738.3 931.9" fill="none" stroke="#fff" stroke-width="1.1"/>
<path d="M740.9 929.3 L754.1 910.8 L763.3 910.8" fill="none" stroke="#000" stroke-width="3.2"/><path d="M740.9 929.3 L754.1 910.8 L763.3 910.8" fill="none" stroke="#fff" stroke-width="1.1"/>
<path d="M767.2 908.2 L785.7 896.3 L792.3 897.6" fill="none" stroke="#000" stroke-width="3.2"/><path d="M767.2 908.2 L785.7 896.3 L792.3 897.6" fill="none" stroke="#fff" stroke-width="1.1"/>
<path d="M796.2 895 L806.8 884.5" fill="none" stroke="#000" stroke-width="3.2"/><path d="M796.2 895 L806.8 884.5" fill="none" stroke="#fff" stroke-width="1.1"/>
<path d="M809.4 881.8 L822.6 884.5 L831.8 881.8" fill="none" stroke="#000" stroke-width="3.2"/><path d="M809.4 881.8 L822.6 884.5 L831.8 881.8" fill="none" stroke="#fff" stroke-width="1.1"/>
<path d="M507.7 842.3 L643.4 910.8 L646.5 914.8 L651.3 920 L664.5 924 L698.7 926.1 L706.6 922.7 L845 837 L847.6 831.8 L845 823.9" fill="none" stroke="#000" stroke-width="3.2"/><path d="M507.7 842.3 L643.4 910.8 L646.5 914.8 L651.3 920 L664.5 924 L698.7 926.1 L706.6 922.7 L845 837 L847.6 831.8 L845 823.9" fill="none" stroke="#fff" stroke-width="1.1"/>
<path d="M646 916.1 C646.5 915.2 647.4 911.3 648.7 910.8 C650 910.3 653 912.5 653.9 912.9" fill="none" stroke="#000" stroke-width="2.4"/><path d="M646 916.1 C646.5 915.2 647.4 911.3 648.7 910.8 C650 910.3 653 912.5 653.9 912.9" fill="none" stroke="#fff" stroke-width="0.8"/>
<!-- 40_cutlery.py -->
<defs>
<pattern id="tines" width="1.7" height="8" patternUnits="userSpaceOnUse"><path d="M0.6 0V8" stroke="#000" stroke-width="0.85"/></pattern>
<pattern id="gridlt" width="4" height="4" patternUnits="userSpaceOnUse" patternTransform="rotate(30.5)"><path d="M0 0.5H4" stroke="#333" stroke-width="0.6"/><path d="M0.5 1V3" stroke="#444" stroke-width="0.55"/></pattern>
<pattern id="griddk" width="3.2" height="2.6" patternUnits="userSpaceOnUse" patternTransform="rotate(30.5)"><path d="M0 0.5H3.2M0.5 0V2.6M1.8 1.2l1 1" stroke="#111" stroke-width="0.7" fill="none"/></pattern>
</defs>
<path d="M990.8 334.7 L1024.1 317.2" fill="none" stroke="#000" stroke-width="3"/><path d="M990.8 334.7 L1024.1 317.2" fill="none" stroke="#fff" stroke-width="1"/>
<path d="M994.6 342.4 L994.6 352.1 L1137 436 L1137 427" fill="none" stroke="#000" stroke-width="3"/><path d="M994.6 342.4 L994.6 352.1 L1137 436 L1137 427" fill="none" stroke="#fff" stroke-width="1"/>
<path d="M1035.7 362.9 L1035.7 377.8" fill="none" stroke="#000" stroke-width="3"/><path d="M1035.7 362.9 L1035.7 377.8" fill="none" stroke="#fff" stroke-width="1"/>
<path d="M1084.4 391.9 L1084.4 406.5" fill="none" stroke="#000" stroke-width="3"/><path d="M1084.4 391.9 L1084.4 406.5" fill="none" stroke="#fff" stroke-width="1"/>
<path d="M1147.3 388.6 L1187.1 410.4" fill="none" stroke="#000" stroke-width="3"/><path d="M1147.3 388.6 L1187.1 410.4" fill="none" stroke="#fff" stroke-width="1"/>
<path d="M1185.8 373.2 L1224.3 395" fill="none" stroke="#000" stroke-width="3"/><path d="M1185.8 373.2 L1224.3 395" fill="none" stroke="#fff" stroke-width="1"/>
<path d="M1232 350.1 L1264.1 368.5" fill="none" stroke="#000" stroke-width="3"/><path d="M1232 350.1 L1264.1 368.5" fill="none" stroke="#fff" stroke-width="1"/>
<path d="M1267.9 327 L1301.3 339.8" fill="none" stroke="#000" stroke-width="3"/><path d="M1267.9 327 L1301.3 339.8" fill="none" stroke="#fff" stroke-width="1"/>
<path d="M1180.7 401.4 C1180.7 403.3 1179.9 410.5 1180.7 412.9 C1181.5 415.2 1184.3 415.5 1185.8 415.5 C1187.3 415.5 1189 415.5 1189.6 412.9 C1190.2 410.3 1189.6 402.2 1189.6 400.1" fill="none" stroke="#000" stroke-width="3"/><path d="M1180.7 401.4 C1180.7 403.3 1179.9 410.5 1180.7 412.9 C1181.5 415.2 1184.3 415.5 1185.8 415.5 C1187.3 415.5 1189 415.5 1189.6 412.9 C1190.2 410.3 1189.6 402.2 1189.6 400.1" fill="none" stroke="#fff" stroke-width="1"/>
<path d="M1219.2 378.3 C1219.2 380.2 1218.4 387.5 1219.2 389.8 C1220 392.1 1222.8 392.4 1224.3 392.4 C1225.8 392.4 1227.5 392.4 1228.1 389.8 C1228.7 387.2 1228.1 379.1 1228.1 377" fill="none" stroke="#000" stroke-width="3"/><path d="M1219.2 378.3 C1219.2 380.2 1218.4 387.5 1219.2 389.8 C1220 392.1 1222.8 392.4 1224.3 392.4 C1225.8 392.4 1227.5 392.4 1228.1 389.8 C1228.7 387.2 1228.1 379.1 1228.1 377" fill="none" stroke="#fff" stroke-width="1"/>
<path d="M1258.9 357.8 C1258.9 359.7 1258 367 1258.9 369.3 C1259.8 371.6 1262.6 371.9 1264.1 371.9 C1265.6 371.9 1267.3 371.9 1267.9 369.3 C1268.5 366.7 1267.9 358.6 1267.9 356.5" fill="none" stroke="#000" stroke-width="3"/><path d="M1258.9 357.8 C1258.9 359.7 1258 367 1258.9 369.3 C1259.8 371.6 1262.6 371.9 1264.1 371.9 C1265.6 371.9 1267.3 371.9 1267.9 369.3 C1268.5 366.7 1267.9 358.6 1267.9 356.5" fill="none" stroke="#fff" stroke-width="1"/>
<path d="M990.8 336 L993.4 338.5 L1139.6 425 L1302.5 332.6 L1305.1 328.3 L1302.5 324.4" fill="none" stroke="#000" stroke-width="3"/><path d="M990.8 336 L993.4 338.5 L1139.6 425 L1302.5 332.6 L1305.1 328.3 L1302.5 324.4" fill="none" stroke="#fff" stroke-width="1"/>
<path d="M1301.3 324.4 L1271.8 307.7" fill="none" stroke="#000" stroke-width="3"/><path d="M1301.3 324.4 L1271.8 307.7" fill="none" stroke="#fff" stroke-width="1"/>
<ellipse cx="1180.7" cy="401.4" rx="1.2" ry="1.6" fill="#000" stroke="#000" stroke-width="0.8"/>
<ellipse cx="1189.6" cy="396.8" rx="1.2" ry="1.6" fill="#000" stroke="#000" stroke-width="0.8"/>
<ellipse cx="1219.2" cy="378.3" rx="1.2" ry="1.6" fill="#000" stroke="#000" stroke-width="0.8"/>
<ellipse cx="1230.7" cy="372.6" rx="1.2" ry="1.6" fill="#000" stroke="#000" stroke-width="0.8"/>
<ellipse cx="1258.9" cy="357.3" rx="1.2" ry="1.6" fill="#000" stroke="#000" stroke-width="0.8"/>
<ellipse cx="1267.9" cy="352.1" rx="1.2" ry="1.6" fill="#000" stroke="#000" stroke-width="0.8"/>
<ellipse cx="1300.7" cy="326.5" rx="1.2" ry="1.6" fill="#000" stroke="#000" stroke-width="0.8"/>
<path d="M985.7 291.7 L1024.1 268.6 L1098.6 236.5 L1149.9 242.4 L1306.4 281.9 L1308.4 283.7 L1308.8 292.9 L1259.4 330.4 L1256.6 333.2 L1197.9 368.4 L1146.8 388.1 L1139.1 387.4 L1129.9 382 L986.2 297.3Z" fill="#fff" stroke="none" stroke-width="0"/>
<path d="M1001.1 281.9 L987.7 289.1 L985.7 291.7 L986.2 297.3 L1129.9 382 L1139.1 387.4 L1146.8 388.1 L1197.9 368.4" fill="none" stroke="#000" stroke-width="1.5"/>
<path d="M985.7 291.7 L1139.6 375 L1145.3 376.8 L1196.3 351.7" fill="none" stroke="#000" stroke-width="1.1"/>
<path d="M1291 273.7 L1306.4 281.9 L1308.4 283.7 L1308.8 292.9 L1259.4 330.4" fill="none" stroke="#000" stroke-width="1.5"/>
<path d="M1308.4 283.7 L1256.6 316.5" fill="none" stroke="#000" stroke-width="1.1"/>
<path d="M995.9 287 L998.5 289.6 L1140.9 368.6 L1148.6 369.9 L1194.8 348.1" fill="none" stroke="#000" stroke-width="0.9"/>
<path d="M1255.1 312.7 L1257.6 313.7 L1303.8 285.2" fill="none" stroke="#000" stroke-width="0.9"/>
<path d="M1139.6 248.5 L1150.4 242.9 L1160.1 246 L1251.2 299.3 L1252.5 307" fill="none" stroke="#000" stroke-width="2.4"/><path d="M1139.6 248.5 L1150.4 242.9 L1160.1 246 L1251.2 299.3 L1252.5 307" fill="none" stroke="#fff" stroke-width="0.8"/>
<path d="M1160.1 246 L1160.1 258.8" fill="none" stroke="#000" stroke-width="2.2"/><path d="M1160.1 246 L1160.1 258.8" fill="none" stroke="#fff" stroke-width="0.7"/>
<path d="M1199.9 268.6 L1199.9 281.4" fill="none" stroke="#000" stroke-width="2.2"/><path d="M1199.9 268.6 L1199.9 281.4" fill="none" stroke="#fff" stroke-width="0.7"/>
<path d="M1248.7 296.8 L1248.7 309.6" fill="none" stroke="#000" stroke-width="2.2"/><path d="M1248.7 296.8 L1248.7 309.6" fill="none" stroke="#fff" stroke-width="0.7"/>
<path d="M1117 237.8 L1251.2 315.3" fill="none" stroke="#222" stroke-width="1.6" stroke-dasharray="1.2 1"/>
<path d="M1196.3 351.7 L1256.6 316.5 L1256.6 333.2 L1197.9 368.4Z" fill="#fff" stroke="#000" stroke-width="1.2"/>
<path d="M1256.6 316.5 L1259.4 318.6 L1259.4 330.4 L1256.6 333.2Z" fill="#fff" stroke="#000" stroke-width="1"/>
<path d="M1194.3 352.7 L1195.8 369.1" fill="none" stroke="#000" stroke-width="0.9"/>
<path d="M1216.6 352.7 L1238.4 339.9" fill="none" stroke="#666" stroke-width="0.7"/>
<path d="M1215.3 349.6 L1237.1 336.8" fill="none" stroke="#666" stroke-width="0.7"/>
<path d="M1216.6 356.3 L1235.8 345" fill="none" stroke="#666" stroke-width="0.7"/>
<path d="M1197.1 355.8 L1256.6 320.9" fill="none" stroke="#555" stroke-width="0.7"/>
<path d="M1033.1 310.3 L1037 307 L1042.1 307.7" fill="none" stroke="#000" stroke-width="1"/>
<path d="M1030.6 321.8 L1034.4 327 L1048.5 334.7 L1050.3 331.6 L1037 324.4" fill="none" stroke="#000" stroke-width="1.1"/>
<path d="M1058.8 332.6 L1072.9 339.8 L1075.5 337.2 L1061.4 330.1Z" fill="none" stroke="#000" stroke-width="0.8"/>
<path d="M998.5 288.5 L1012.6 283.4" fill="none" stroke="#000" stroke-width="0.8"/>
<path d="M1001.1 291.6 L1003.6 280.8" fill="none" stroke="#000" stroke-width="0.8"/>
<path d="M1283.3 285.9 L1287.1 288.5 L1288.9 282.8" fill="none" stroke="#000" stroke-width="0.8"/>
<path d="M1097.4 251.9 L1183.6 303.7 L1228.2 326.1 L1197.1 347.6 L1178.8 352.4 L1151.7 358.8 L1060.7 274.2 L1079.9 266.3Z" fill="url(#gridlt)" stroke="none" stroke-width="0"/>
<path d="M1063.9 273.4 L1074.3 267.9 L1209.9 337.2 L1197.1 346.8 L1180.4 348.4Z" fill="url(#griddk)" stroke="none" stroke-width="0"/>
<path d="M1151.7 357.2 L1177.2 346 L1186.7 349.2 L1164.4 363.6Z" fill="url(#tines)" stroke="none" stroke-width="0"/>
<path d="M1098.2 236.7 L1116.6 243.9 L1186.7 286.2 L1244.2 317.3 L1241.8 323.7 L1228.2 325.3 L1183.6 303.7 L1097.4 251.9Z" fill="url(#tines)" stroke="none" stroke-width="0"/>
<path d="M1098.2 236.7 L1116.6 243.9 L1186.7 286.2" fill="none" stroke="#000" stroke-width="0.8"/>
<path d="M1097.4 251.9 L1183.6 303.7 L1228.2 325.3" fill="none" stroke="#000" stroke-width="0.9"/>
<path d="M1116.6 236 L1242.6 309.3" fill="none" stroke="#222" stroke-width="1.4" stroke-dasharray="1 0.8"/>
<path d="M994.6 269.8 L995.9 264.7 L1002.3 259.6 L1022.9 255.7 L1027.2 257.5 L1173 340.9 L1172.5 345.5 L1151.2 356.3 L1144.7 355.8 L995.9 275Z" fill="#fff" stroke="#000" stroke-width="1.6"/>
<path d="M998.5 268.6 L1002.3 263.4 L1022.9 259.6 L1166.6 342.5 L1149.9 352.7 L1145.3 352.2 L998.5 270.6Z" fill="none" stroke="#000" stroke-width="1.1"/>
<path d="M1022.9 261.4 L1165.3 343.5" fill="none" stroke="#000" stroke-width="2.2"/>
<path d="M1013.5 264.7 L1156.9 347.3" fill="none" stroke="#000" stroke-width="1.5"/>
<path d="M1004.1 268 L1148.6 351.2" fill="none" stroke="#000" stroke-width="2.2"/>
<path d="M1022.9 261.4 L1004.1 268" fill="none" stroke="#000" stroke-width="1.5"/>
<path d="M1029.6 265.3 L1011 272" fill="none" stroke="#000" stroke-width="1.5"/>
<path d="M1036.4 269.2 L1017.9 276" fill="none" stroke="#000" stroke-width="1.5"/>
<path d="M1043.2 273.1 L1024.8 279.9" fill="none" stroke="#000" stroke-width="1.5"/>
<path d="M1050 277 L1031.6 283.9" fill="none" stroke="#000" stroke-width="1.5"/>
<path d="M1056.8 280.9 L1038.5 287.8" fill="none" stroke="#000" stroke-width="1.5"/>
<path d="M1063.6 284.8 L1045.4 291.8" fill="none" stroke="#000" stroke-width="1.5"/>
<path d="M1070.3 288.7 L1052.3 295.8" fill="none" stroke="#000" stroke-width="1.5"/>
<path d="M1077.1 292.7 L1059.2 299.7" fill="none" stroke="#000" stroke-width="1.5"/>
<path d="M1083.9 296.6 L1066 303.7" fill="none" stroke="#000" stroke-width="1.5"/>
<path d="M1090.7 300.5 L1072.9 307.6" fill="none" stroke="#000" stroke-width="1.5"/>
<path d="M1097.5 304.4 L1079.8 311.6" fill="none" stroke="#000" stroke-width="1.5"/>
<path d="M1104.2 308.3 L1086.7 315.5" fill="none" stroke="#000" stroke-width="1.5"/>
<path d="M1111 312.2 L1093.6 319.5" fill="none" stroke="#000" stroke-width="1.5"/>
<path d="M1117.8 316.1 L1100.4 323.5" fill="none" stroke="#000" stroke-width="1.5"/>
<path d="M1124.6 320 L1107.3 327.4" fill="none" stroke="#000" stroke-width="1.5"/>
<path d="M1131.4 323.9 L1114.2 331.4" fill="none" stroke="#000" stroke-width="1.5"/>
<path d="M1138.1 327.8 L1121.1 335.3" fill="none" stroke="#000" stroke-width="1.5"/>
<path d="M1144.9 331.8 L1128 339.3" fill="none" stroke="#000" stroke-width="1.5"/>
<path d="M1151.7 335.7 L1134.8 343.3" fill="none" stroke="#000" stroke-width="1.5"/>
<path d="M1158.5 339.6 L1141.7 347.2" fill="none" stroke="#000" stroke-width="1.5"/>
<path d="M1165.3 343.5 L1148.6 351.2" fill="none" stroke="#000" stroke-width="1.5"/>
<path d="M1015.2 261.4 L1158.9 345" fill="none" stroke="#000" stroke-width="1.2"/>
<path d="M1010 269.8 L1151.2 352.7" fill="none" stroke="#000" stroke-width="1.2"/>
<path d="M1007.5 273.7 L1139.6 348.1" fill="none" stroke="#000" stroke-width="2.2"/>
<path d="M1013.4 265.5 L1157.6 348.1" fill="none" stroke="#000" stroke-width="2.4" stroke-dasharray="1.3 0.9"/>
<path d="M1027.2 258.3 L1170.4 340.9" fill="none" stroke="#000" stroke-width="1.6"/>
<path d="M1115.2 208.3 L1118.6 203.1 L1128.1 187.7 L1139.6 180 L1149.9 178.8 L1294.8 261.4 L1296.1 268.6 L1288.4 273.7 L1265.3 294.2 L1260.2 292.9 L1117 211.6Z" fill="#fff" stroke="#000" stroke-width="1.6"/>
<path d="M1121.7 206.5 L1130.6 191.6 L1140.9 184.4 L1150.4 182.6 L1291 263.4 L1283.8 273.7 L1264.1 289.6" fill="none" stroke="#000" stroke-width="1"/>
<path d="M1150.4 183.9 L1290.5 264.5" fill="none" stroke="#000" stroke-width="2.2"/>
<path d="M1142.5 190.7 L1282.5 272" fill="none" stroke="#000" stroke-width="1.4"/>
<path d="M1134.7 197.6 L1274.6 279.5" fill="none" stroke="#000" stroke-width="1.4"/>
<path d="M1126.8 204.4 L1266.6 287" fill="none" stroke="#000" stroke-width="2.2"/>
<path d="M1150.4 183.9 L1126.8 204.4" fill="none" stroke="#000" stroke-width="1.4"/>
<path d="M1157.1 187.7 L1133.4 208.3" fill="none" stroke="#000" stroke-width="1.4"/>
<path d="M1163.7 191.6 L1140.1 212.3" fill="none" stroke="#000" stroke-width="1.4"/>
<path d="M1170.4 195.4 L1146.8 216.2" fill="none" stroke="#000" stroke-width="1.4"/>
<path d="M1177.1 199.2 L1153.4 220.1" fill="none" stroke="#000" stroke-width="1.4"/>
<path d="M1183.7 203.1 L1160.1 224.1" fill="none" stroke="#000" stroke-width="1.4"/>
<path d="M1190.4 206.9 L1166.7 228" fill="none" stroke="#000" stroke-width="1.4"/>
<path d="M1197.1 210.7 L1173.4 232" fill="none" stroke="#000" stroke-width="1.4"/>
<path d="M1203.8 214.6 L1180.1 235.9" fill="none" stroke="#000" stroke-width="1.4"/>
<path d="M1210.4 218.4 L1186.7 239.8" fill="none" stroke="#000" stroke-width="1.4"/>
<path d="M1217.1 222.2 L1193.4 243.8" fill="none" stroke="#000" stroke-width="1.4"/>
<path d="M1223.8 226.1 L1200 247.7" fill="none" stroke="#000" stroke-width="1.4"/>
<path d="M1230.4 229.9 L1206.7 251.6" fill="none" stroke="#000" stroke-width="1.4"/>
<path d="M1237.1 233.8 L1213.4 255.6" fill="none" stroke="#000" stroke-width="1.4"/>
<path d="M1243.8 237.6 L1220 259.5" fill="none" stroke="#000" stroke-width="1.4"/>
<path d="M1250.5 241.4 L1226.7 263.4" fill="none" stroke="#000" stroke-width="1.4"/>
<path d="M1257.1 245.3 L1233.3 267.4" fill="none" stroke="#000" stroke-width="1.4"/>
<path d="M1263.8 249.1 L1240 271.3" fill="none" stroke="#000" stroke-width="1.4"/>
<path d="M1270.5 252.9 L1246.6 275.2" fill="none" stroke="#000" stroke-width="1.4"/>
<path d="M1277.1 256.8 L1253.3 279.2" fill="none" stroke="#000" stroke-width="1.4"/>
<path d="M1283.8 260.6 L1260 283.1" fill="none" stroke="#000" stroke-width="1.4"/>
<path d="M1290.5 264.5 L1266.6 287" fill="none" stroke="#000" stroke-width="1.4"/>
<path d="M1139.6 189.5 L1280.7 271.6" fill="none" stroke="#000" stroke-width="1.2"/>
<path d="M1132.4 198.8 L1272.5 280.9" fill="none" stroke="#000" stroke-width="1.2"/>
<path d="M1120.4 208.3 L1262.8 290.4" fill="none" stroke="#000" stroke-width="2.4"/>
<path d="M1128.1 197.2 L1274.3 281.4" fill="none" stroke="#000" stroke-width="2.6" stroke-dasharray="1.4 0.8"/>
<path d="M1137 191.1 L1282 274.2" fill="none" stroke="#000" stroke-width="2.4" stroke-dasharray="1.3 0.9"/>
<path d="M1145.3 185.4 L1288.4 267.5" fill="none" stroke="#000" stroke-width="1.8" stroke-dasharray="1.2 1"/>
<path d="M1133.8 218.9 L1133.1 222.5 L1139.5 225.9 L1140.3 222.5" fill="none" stroke="#000" stroke-width="0.9"/>
<path d="M1153.1 230.1 L1152.3 233.6 L1158.7 237 L1159.5 233.6" fill="none" stroke="#000" stroke-width="0.9"/>
<path d="M1172.3 241.2 L1171.6 244.7 L1178 248.1 L1178.7 244.7" fill="none" stroke="#000" stroke-width="0.9"/>
<path d="M1191.6 252.3 L1190.8 255.9 L1197.2 259.2 L1198 255.9" fill="none" stroke="#000" stroke-width="0.9"/>
<path d="M1210.8 263.4 L1210 267 L1216.5 270.3 L1217.2 267" fill="none" stroke="#000" stroke-width="0.9"/>
<path d="M1230.1 274.5 L1229.3 278.1 L1235.7 281.4 L1236.5 278.1" fill="none" stroke="#000" stroke-width="0.9"/>
<path d="M1249.3 285.6 L1248.5 289.2 L1254.9 292.5 L1255.7 289.2" fill="none" stroke="#000" stroke-width="0.9"/>
<path d="M1160.1 184.3 L1160.1 177.1 L1165.8 180.4 L1165.8 187.3" fill="none" stroke="#000" stroke-width="0.9"/>
<path d="M1177.1 194 L1177.1 186.9 L1182.8 190.2 L1182.8 197.1" fill="none" stroke="#000" stroke-width="0.9"/>
<path d="M1194.1 203.8 L1194.1 196.6 L1199.7 200 L1199.7 206.9" fill="none" stroke="#000" stroke-width="0.9"/>
<path d="M1211.1 213.6 L1211.1 206.4 L1216.7 209.8 L1216.7 216.7" fill="none" stroke="#000" stroke-width="0.9"/>
<path d="M1228.1 223.4 L1228.1 216.2 L1233.7 219.5 L1233.7 226.5" fill="none" stroke="#000" stroke-width="0.9"/>
<path d="M1245.1 233.2 L1245.1 226 L1250.7 229.3 L1250.7 236.2" fill="none" stroke="#000" stroke-width="0.9"/>
<path d="M1262.1 242.9 L1262.1 235.8 L1267.7 239.1 L1267.7 246" fill="none" stroke="#000" stroke-width="0.9"/>
<path d="M1279.1 252.7 L1279.1 245.5 L1284.7 248.9 L1284.7 255.8" fill="none" stroke="#000" stroke-width="0.9"/>
<path d="M1018.5 227 L1076.7 257 L1078.5 250.6 L1075.5 240.3 L1070.3 239 L1070.8 253.2" fill="none" stroke="#000" stroke-width="1.1"/>
<path d="M1018.5 227 L1019.5 214.7" fill="none" stroke="#000" stroke-width="1"/>
<path d="M1019.3 227 L1019.8 215.4 L1021.6 215.7 L1021.6 228.3" fill="none" stroke="#000" stroke-width="1.0"/>
<path d="M1024.6 229.7 L1025.1 218.2 L1026.9 218.4 L1026.9 231" fill="none" stroke="#000" stroke-width="1.0"/>
<path d="M1029.9 232.4 L1030.4 220.9 L1032.2 221.2 L1032.2 233.7" fill="none" stroke="#000" stroke-width="1.0"/>
<path d="M1035.2 235.2 L1035.7 223.6 L1037.5 223.9 L1037.5 236.5" fill="none" stroke="#000" stroke-width="1.0"/>
<path d="M1040.5 237.9 L1041 226.4 L1042.8 226.6 L1042.8 239.2" fill="none" stroke="#000" stroke-width="1.0"/>
<path d="M1045.7 240.6 L1046.3 229.1 L1048.1 229.3 L1048.1 241.9" fill="none" stroke="#000" stroke-width="1.0"/>
<path d="M1051 243.4 L1051.6 231.8 L1053.4 232.1 L1053.4 244.6" fill="none" stroke="#000" stroke-width="1.0"/>
<path d="M1056.3 246.1 L1056.9 234.5 L1058.6 234.8 L1058.6 247.4" fill="none" stroke="#000" stroke-width="1.0"/>
<path d="M1061.6 248.8 L1062.1 237.3 L1063.9 237.5 L1063.9 250.1" fill="none" stroke="#000" stroke-width="1.0"/>
<path d="M1066.9 251.6 L1067.4 240 L1069.2 240.3 L1069.2 252.8" fill="none" stroke="#000" stroke-width="1.0"/>
<path d="M1072.2 254.3 L1072.7 242.7 L1074.5 243 L1074.5 255.6" fill="none" stroke="#000" stroke-width="1.0"/>
<path d="M1017.7 222.9 L1075.5 252.6" fill="none" stroke="#000" stroke-width="0.8"/>
<path d="M1058.8 200.6 L1069 193.6 L1126.8 225.5 L1124.2 228.8 L1111.4 232.6 L1107.5 232.1 L1114 225.5" fill="none" stroke="#000" stroke-width="1.1"/>
<path d="M1058.8 200.6 L1068.5 194.4" fill="none" stroke="#000" stroke-width="2.2"/>
<path d="M1063.4 202.6 L1073.1 196.5" fill="none" stroke="#000" stroke-width="2.2"/>
<path d="M1068 204.7 L1077.7 198.6" fill="none" stroke="#000" stroke-width="2.2"/>
<path d="M1072.6 206.8 L1082.3 200.6" fill="none" stroke="#000" stroke-width="2.2"/>
<path d="M1077.2 208.9 L1086.9 202.7" fill="none" stroke="#000" stroke-width="2.2"/>
<path d="M1081.8 210.9 L1091.5 204.8" fill="none" stroke="#000" stroke-width="2.2"/>
<path d="M1086.4 213 L1096.1 206.8" fill="none" stroke="#000" stroke-width="2.2"/>
<path d="M1091 215.1 L1100.7 208.9" fill="none" stroke="#000" stroke-width="2.2"/>
<path d="M1095.6 217.2 L1105.3 211" fill="none" stroke="#000" stroke-width="2.2"/>
<path d="M1100.2 219.2 L1109.9 213.1" fill="none" stroke="#000" stroke-width="2.2"/>
<path d="M1104.8 221.3 L1114.5 215.1" fill="none" stroke="#000" stroke-width="2.2"/>
<path d="M1109.4 223.4 L1119.1 217.2" fill="none" stroke="#000" stroke-width="2.2"/>
<path d="M1079.3 242.9 L1084.4 239 L1085.2 233.9 L1096 228.8" fill="none" stroke="#000" stroke-width="0.9"/>
<path d="M1037 258.3 L1049.8 252.6 L1058.8 253.7 L1060.1 255.7" fill="none" stroke="#000" stroke-width="0.9"/>
<path d="M976 231L1116 150L1323.5 270V305L1153.5 402.5L976 302.5Z" fill="none" stroke="#000" stroke-width="1.1" stroke-dasharray="11 3.5"/>
<!-- 50_racks_top.py -->
<path d="M533.6 222.6 L525.9 183.4 M546.6 230.3 L538.9 191.1 M559.5 237.9 L552 198.8 M572.5 245.5 L565 206.5 M585.5 253.2 L578 214.2" fill="none" stroke="#000" stroke-width="3.3"/><path d="M533.6 222.6 L525.9 183.4 M546.6 230.3 L538.9 191.1 M559.5 237.9 L552 198.8 M572.5 245.5 L565 206.5 M585.5 253.2 L578 214.2" fill="none" stroke="#fff" stroke-width="1"/>
<path d="M515.7 212.4 L587.5 254 L592.1 256 L586.2 258.6" fill="none" stroke="#000" stroke-width="3.3"/><path d="M515.7 212.4 L587.5 254 L592.1 256 L586.2 258.6" fill="none" stroke="#fff" stroke-width="1"/>
<path d="M520.8 215.5 L520.8 220.1 L524.6 220.6" fill="none" stroke="#000" stroke-width="2.6"/><path d="M520.8 215.5 L520.8 220.1 L524.6 220.6" fill="none" stroke="#fff" stroke-width="0.9"/>
<path d="M578.5 198.8 L570.8 157.7 M591.4 205.7 L584 165.4 M604.2 212.5 L597.1 173.1 M617 219.4 L610.3 180.8 M629.8 226.2 L623.4 188.5" fill="none" stroke="#000" stroke-width="3.3"/><path d="M578.5 198.8 L570.8 157.7 M591.4 205.7 L584 165.4 M604.2 212.5 L597.1 173.1 M617 219.4 L610.3 180.8 M629.8 226.2 L623.4 188.5" fill="none" stroke="#fff" stroke-width="1"/>
<path d="M559.3 187.2 L633.7 230.3 L638.8 229.6 L644.5 224.2" fill="none" stroke="#000" stroke-width="3.3"/><path d="M559.3 187.2 L633.7 230.3 L638.8 229.6 L644.5 224.2" fill="none" stroke="#fff" stroke-width="1"/>
<path d="M568.3 192.4 L570.1 189.8 L572.6 191.9" fill="none" stroke="#000" stroke-width="2.6"/><path d="M568.3 192.4 L570.1 189.8 L572.6 191.9" fill="none" stroke="#fff" stroke-width="0.9"/>
<path d="M629.8 164.1 L630.4 129.5 M642.7 171.3 L643.6 137.2 M655.5 178.5 L656.8 144.9 M668.3 185.7 L670 152.6 M681.2 192.9 L683.2 160.3" fill="none" stroke="#000" stroke-width="3.3"/><path d="M629.8 164.1 L630.4 129.5 M642.7 171.3 L643.6 137.2 M655.5 178.5 L656.8 144.9 M668.3 185.7 L670 152.6 M681.2 192.9 L683.2 160.3" fill="none" stroke="#fff" stroke-width="1"/>
<path d="M608.5 152.1 L682.4 194.9 L688.9 194.4 L695.8 191.6" fill="none" stroke="#000" stroke-width="3.3"/><path d="M608.5 152.1 L682.4 194.9 L688.9 194.4 L695.8 191.6" fill="none" stroke="#fff" stroke-width="1"/>
<path d="M617 157 L617.5 161.6" fill="none" stroke="#000" stroke-width="2.6"/><path d="M617 157 L617.5 161.6" fill="none" stroke="#fff" stroke-width="0.9"/>
<path d="M768.4 243.2 L768.4 207.8 M781.2 250.6 L781.6 215.4 M794.1 258.1 L794.8 223 M806.9 265.5 L808 230.6 M819.7 272.9 L821.2 238.1 M832.5 280.4 L834.3 245.7" fill="none" stroke="#000" stroke-width="3.3"/><path d="M768.4 243.2 L768.4 207.8 M781.2 250.6 L781.6 215.4 M794.1 258.1 L794.8 223 M806.9 265.5 L808 230.6 M819.7 272.9 L821.2 238.1 M832.5 280.4 L834.3 245.7" fill="none" stroke="#fff" stroke-width="1"/>
<path d="M771 234.7 L760.7 238.6 L840.2 285.3 L841 288.6" fill="none" stroke="#000" stroke-width="3.3"/><path d="M771 234.7 L760.7 238.6 L840.2 285.3 L841 288.6" fill="none" stroke="#fff" stroke-width="1"/>
<path d="M713.2 287.8 L709.4 260.4 M718.7 290.9 L714.9 263.5 M724.3 294 L720.4 266.6 M729.8 297.1 L725.9 269.7 M735.3 300.1 L731.4 272.8 M740.8 303.2 L737 275.9 M746.3 306.3 L742.5 279 M751.8 309.4 L748 282.1 M757.4 312.5 L753.5 285.2 M762.9 315.5 L759 288.3 M768.4 318.6 L764.5 291.4 M773.9 321.7 L770.1 294.5 M779.4 324.8 L775.6 297.6" fill="none" stroke="#000" stroke-width="3.3"/><path d="M713.2 287.8 L709.4 260.4 M718.7 290.9 L714.9 263.5 M724.3 294 L720.4 266.6 M729.8 297.1 L725.9 269.7 M735.3 300.1 L731.4 272.8 M740.8 303.2 L737 275.9 M746.3 306.3 L742.5 279 M751.8 309.4 L748 282.1 M757.4 312.5 L753.5 285.2 M762.9 315.5 L759 288.3 M768.4 318.6 L764.5 291.4 M773.9 321.7 L770.1 294.5 M779.4 324.8 L775.6 297.6" fill="none" stroke="#fff" stroke-width="1"/>
<path d="M708.1 277 L703.5 280.9 L783.8 327.1" fill="none" stroke="#000" stroke-width="3.3"/><path d="M708.1 277 L703.5 280.9 L783.8 327.1" fill="none" stroke="#fff" stroke-width="1"/>
<path d="M678.6 304.5 L674.2 279.6 M684.5 308 L680.2 283 M690.5 311.4 L686.2 286.4 M696.4 314.9 L692.2 289.8 M702.4 318.3 L698.2 293.1 M708.3 321.8 L704.2 296.5 M714.3 325.2 L710.2 299.9 M720.2 328.7 L716.2 303.3 M726.2 332.1 L722.2 306.7 M732.1 335.6 L728.2 310.1 M738.1 339 L734.2 313.4 M744 342.5 L740.2 316.8" fill="none" stroke="#000" stroke-width="3.3"/><path d="M678.6 304.5 L674.2 279.6 M684.5 308 L680.2 283 M690.5 311.4 L686.2 286.4 M696.4 314.9 L692.2 289.8 M702.4 318.3 L698.2 293.1 M708.3 321.8 L704.2 296.5 M714.3 325.2 L710.2 299.9 M720.2 328.7 L716.2 303.3 M726.2 332.1 L722.2 306.7 M732.1 335.6 L728.2 310.1 M738.1 339 L734.2 313.4 M744 342.5 L740.2 316.8" fill="none" stroke="#fff" stroke-width="1"/>
<path d="M661.9 302.2 L674.2 299.6 L749.2 345.8 L740.2 342.5" fill="none" stroke="#000" stroke-width="3.3"/><path d="M661.9 302.2 L674.2 299.6 L749.2 345.8 L740.2 342.5" fill="none" stroke="#fff" stroke-width="1"/>
<path d="M632.8 111.1 L638.6 111.2 L639 114.8 L644.8 114.9 L645.3 118.5 L651.1 118.6 L651.5 122.1 L657.3 122.2 L657.8 125.8 L663.6 125.9 L664 129.5 L669.8 129.6 L670.2 133.2 L676 133.3 L676.5 136.9 L682.3 137 L682.7 140.5 L688.5 140.6 L690.1 143.8 L689.7 147.2 L683.1 146.4 L682.7 141.7 L682.2 141.1 L670.6 139.1 L670.2 134.4 L669.8 133.7 L658.2 131.7 L657.8 127 L657.3 126.4 L645.7 124.4 L645.3 119.7 L644.8 119 L632.6 116.7Z" fill="#fff" stroke="#000" stroke-width="1.3"/>
<path d="M633.6 112.7 L639.4 112.8 L639.8 116.4 L645.6 116.5 L646.1 120.1 L651.9 120.2 L652.3 123.7 L658.1 123.8 L658.6 127.4 L664.4 127.5 L664.8 131.1 L670.6 131.2 L671 134.8 L676.8 134.9 L677.3 138.5 L683.1 138.6 L683.5 142.1 L689.3 142.2" fill="none" stroke="#555" stroke-width="0.7"/>
<path d="M645.9 124.1 L645.9 129.7 L648.9 129.9 L649.3 126.7" fill="none" stroke="#000" stroke-width="1.2"/>
<path d="M683.3 146.1 L683.3 151.7 L686.3 151.9 L686.7 148.7" fill="none" stroke="#000" stroke-width="1.2"/>
<path d="M772.3 185.2 L778.1 185.3 L778.5 188.9 L784.3 189 L784.8 192.6 L790.6 192.7 L791 196.2 L796.8 196.3 L797.3 199.9 L803.1 200 L803.5 203.6 L809.3 203.7 L809.7 207.3 L815.5 207.4 L816 211 L821.8 211.1 L822.2 214.6 L828 214.7 L828.5 218.3 L834.3 218.4 L834.7 222 L840.5 222.1 L840.9 225.7 L846.7 225.8 L848.3 229 L847.9 232.4 L847.6 235.3 L847.2 230.6 L846.7 229.9 L835.1 227.9 L834.7 223.2 L834.2 222.5 L822.6 220.5 L822.2 215.8 L821.7 215.2 L810.1 213.2 L809.7 208.5 L809.3 207.8 L797.7 205.8 L797.3 201.1 L796.8 200.5 L785.2 198.5 L784.8 193.8 L784.3 193.1 L772.1 190.8Z" fill="#fff" stroke="#000" stroke-width="1.3"/>
<path d="M773.1 186.8 L778.9 186.9 L779.3 190.5 L785.1 190.6 L785.6 194.2 L791.4 194.3 L791.8 197.8 L797.6 197.9 L798.1 201.5 L803.9 201.6 L804.3 205.2 L810.1 205.3 L810.5 208.9 L816.3 209 L816.8 212.6 L822.6 212.7 L823 216.2 L828.8 216.3 L829.3 219.9 L835.1 220 L835.5 223.6 L841.3 223.7 L841.7 227.3 L847.5 227.4" fill="none" stroke="#555" stroke-width="0.7"/>
<path d="M785.4 198.2 L785.4 203.8 L788.4 204 L788.8 200.8" fill="none" stroke="#000" stroke-width="1.2"/>
<path d="M835.3 227.6 L835.3 233.2 L838.3 233.4 L838.7 230.2" fill="none" stroke="#000" stroke-width="1.2"/>
<path d="M636.8 244.2 L644 238.6 L652.2 239.8 L651.7 246.3 L643.4 250.1 L638.3 248.8Z" fill="#fff" stroke="#000" stroke-width="1.2"/>
<path d="M644 238.6 L644 244.2 L638.3 248.8" fill="none" stroke="#000" stroke-width="1"/>
<path d="M644 244.2 L651.7 246.3" fill="none" stroke="#000" stroke-width="1"/>
<path d="M646.5 239.8 L646.5 243.7" fill="none" stroke="#000" stroke-width="0.9"/>
<path d="M599.8 262.9 L605.5 260.1 L615.2 261.7 L615.7 265.5 L608.5 269.3 L601.9 268.1Z" fill="#fff" stroke="#000" stroke-width="1.2"/>
<path d="M605.5 260.1 L606 264.2 L601.9 268.1" fill="none" stroke="#000" stroke-width="1"/>
<path d="M606 264.2 L615.2 265.5" fill="none" stroke="#000" stroke-width="1"/>
<path d="M609.3 260.9 L609.6 264.2" fill="none" stroke="#000" stroke-width="0.9"/>
<path d="M718.4 215.5 C718.8 214.9 720.7 214.6 722.2 214.2 C723.7 213.8 725.8 213.8 727.3 212.9 C728.8 212 729.5 209.8 731.2 209 C732.9 208.2 735.5 207.5 737.6 207.8 C739.7 208.1 742.9 209.6 744 210.8 C745.1 212 745.4 213.9 744.5 215 C743.6 216.1 740.7 216.6 738.9 217.5 C737.1 218.4 735.7 219.9 733.8 220.6 C731.9 221.3 728.8 222.2 727.3 221.9 C725.8 221.6 726.1 219.2 724.8 218.5 C723.5 217.8 720.7 218.5 719.6 218 C718.5 217.5 718 216.1 718.4 215.5Z" fill="#fff" stroke="#000" stroke-width="1.2"/>
<path d="M727.3 212.9 L732.5 215.5 L733.8 220.6" fill="none" stroke="#000" stroke-width="1"/>
<path d="M732.5 215.5 L740.2 212.4" fill="none" stroke="#000" stroke-width="1"/>
<path d="M722.2 214.2 L724.8 218.5" fill="none" stroke="#000" stroke-width="1"/>
<path d="M731.2 209 L735 212.9" fill="none" stroke="#000" stroke-width="1.5"/>
<!-- 51_grids650.py -->
<path d="M305.8 165.8 L306.6 172.4 L320 176.9 L321.6 180.3 L334.9 185.3 L336.6 188.6 L349.9 194.9 L351.6 198.2 L364.9 203.6 L366.6 206.9 L379.9 212.6 L381.5 215.9 L390.2 215.9 L414.5 200.2 L415.2 194.1 L338.3 149.1 L330.8 148.8Z" fill="#fff" stroke="#000" stroke-width="1.6"/>
<path d="M305.8 165.8 L319.1 171.6 L320.8 174.9 L334.1 179.9 L335.8 183.3 L349.1 189.1 L350.7 192.4 L364.1 198.2 L365.7 201.6 L379 206.9 L380.7 210.6 L389.9 211.1 L414.8 194.6" fill="none" stroke="#000" stroke-width="1.2"/>
<path d="M389.9 211.1 L390.2 215.9" fill="none" stroke="#000" stroke-width="1"/>
<path d="M312.1 161.6 L396.1 206.6 M318.3 157.5 L402.3 202.4 M324.5 153.3 L408.6 198.2 M312.8 170.5 L337.8 152.9 M319.8 175.6 L344.8 156.6 M326.8 178 L351.8 160.4 M333.8 183.1 L358.8 164.1 M340.8 185.5 L365.8 167.9 M347.8 190.6 L372.8 171.6 M354.8 193 L379.8 175.4 M361.8 198.1 L386.8 179.1 M368.8 200.5 L393.8 182.8 M375.9 205.6 L400.8 186.6 M382.9 208 L407.8 190.3" fill="none" stroke="#000" stroke-width="2.3"/><path d="M312.1 161.6 L396.1 206.6 M318.3 157.5 L402.3 202.4 M324.5 153.3 L408.6 198.2 M312.8 170.5 L337.8 152.9 M319.8 175.6 L344.8 156.6 M326.8 178 L351.8 160.4 M333.8 183.1 L358.8 164.1 M340.8 185.5 L365.8 167.9 M347.8 190.6 L372.8 171.6 M354.8 193 L379.8 175.4 M361.8 198.1 L386.8 179.1 M368.8 200.5 L393.8 182.8 M375.9 205.6 L400.8 186.6 M382.9 208 L407.8 190.3" fill="none" stroke="#fff" stroke-width="0.7"/>
<path d="M330.8 149.1 L414.8 194.1" fill="none" stroke="#000" stroke-width="1.8"/>
<path d="M339.2 163.9 L344.2 161.4 L349.2 157.6 L353.4 159.7 L350.9 164.7 L344.2 167.5Z" fill="#fff" stroke="#000" stroke-width="1.2"/>
<path d="M344.2 161.4 L347.6 163.9 L350.9 164.7" fill="none" stroke="#000" stroke-width="0.9"/>
<path d="M387.2 189.5 L392.1 187 L397.1 183.2 L401.3 185.3 L398.8 190.3 L392.1 193.2Z" fill="#fff" stroke="#000" stroke-width="1.2"/>
<path d="M392.1 187 L395.5 189.5 L398.8 190.3" fill="none" stroke="#000" stroke-width="0.9"/>
<path d="M381.6 177 L382.1 174.5 L384.6 175.7 L384.6 178.3" fill="none" stroke="#000" stroke-width="1"/>
<path d="M398.2 219 L399 225.7 L412.3 230.2 L414 233.5 L427.3 238.5 L429 241.8 L442.3 248.2 L444 251.5 L457.3 256.8 L458.9 260.2 L472.2 265.8 L473.9 269.1 L482.6 269.1 L506.9 253.5 L507.5 247.3 L430.6 202.4 L423.1 202.1Z" fill="#fff" stroke="#000" stroke-width="1.6"/>
<path d="M398.2 219 L411.5 224.9 L413.2 228.2 L426.5 233.2 L428.1 236.5 L441.5 242.3 L443.1 245.7 L456.4 251.5 L458.1 254.8 L471.4 260.2 L473.1 263.8 L482.2 264.3 L507.2 247.8" fill="none" stroke="#000" stroke-width="1.2"/>
<path d="M482.2 264.3 L482.6 269.1" fill="none" stroke="#000" stroke-width="1"/>
<path d="M404.4 214.9 L488.5 259.8 M410.7 210.7 L494.7 255.7 M416.9 206.6 L501 251.5 M405.2 223.8 L430.2 206.1 M412.2 228.9 L437.2 209.9 M419.2 231.3 L444.2 213.6 M426.2 236.4 L451.2 217.4 M433.2 238.8 L458.2 221.1 M440.2 243.8 L465.2 224.9 M447.2 246.3 L472.2 228.6 M454.2 251.3 L479.2 232.4 M461.2 253.7 L486.2 236.1 M468.2 258.8 L493.2 239.8 M475.2 261.2 L500.2 243.6" fill="none" stroke="#000" stroke-width="2.3"/><path d="M404.4 214.9 L488.5 259.8 M410.7 210.7 L494.7 255.7 M416.9 206.6 L501 251.5 M405.2 223.8 L430.2 206.1 M412.2 228.9 L437.2 209.9 M419.2 231.3 L444.2 213.6 M426.2 236.4 L451.2 217.4 M433.2 238.8 L458.2 221.1 M440.2 243.8 L465.2 224.9 M447.2 246.3 L472.2 228.6 M454.2 251.3 L479.2 232.4 M461.2 253.7 L486.2 236.1 M468.2 258.8 L493.2 239.8 M475.2 261.2 L500.2 243.6" fill="none" stroke="#fff" stroke-width="0.7"/>
<path d="M423.1 202.4 L507.2 247.3" fill="none" stroke="#000" stroke-width="1.8"/>
<path d="M431.6 217.1 L436.6 214.6 L441.6 210.8 L445.8 213 L443.3 218 L436.6 220.8Z" fill="#fff" stroke="#000" stroke-width="1.2"/>
<path d="M436.6 214.6 L439.9 217.1 L443.3 218" fill="none" stroke="#000" stroke-width="0.9"/>
<path d="M479.5 242.8 L484.5 240.3 L489.5 236.4 L493.7 238.6 L491.2 243.6 L484.5 246.4Z" fill="#fff" stroke="#000" stroke-width="1.2"/>
<path d="M484.5 240.3 L487.9 242.8 L491.2 243.6" fill="none" stroke="#000" stroke-width="0.9"/>
<path d="M473.9 230.3 L474.4 227.8 L476.9 228.9 L476.9 231.6" fill="none" stroke="#000" stroke-width="1"/>
<!-- 52_racks_mid.py -->
<path d="M753.1 643.7 L748.8 619.3 M759 640.5 L754.6 616.2 M765 637.3 L760.4 613 M770.9 634.1 L766.2 609.8 M776.8 630.9 L772 606.6 M782.7 627.6 L777.8 603.4 M788.7 624.4 L783.6 600.2 M794.6 621.2 L789.4 597 M800.5 618 L795.2 593.8 M806.4 614.8 L801 590.6 M812.3 611.6 L806.8 587.4 M818.3 608.3 L812.6 584.2 M824.2 605.1 L818.4 581 M830.1 601.9 L824.2 577.8" fill="none" stroke="#000" stroke-width="3.3"/><path d="M753.1 643.7 L748.8 619.3 M759 640.5 L754.6 616.2 M765 637.3 L760.4 613 M770.9 634.1 L766.2 609.8 M776.8 630.9 L772 606.6 M782.7 627.6 L777.8 603.4 M788.7 624.4 L783.6 600.2 M794.6 621.2 L789.4 597 M800.5 618 L795.2 593.8 M806.4 614.8 L801 590.6 M812.3 611.6 L806.8 587.4 M818.3 608.3 L812.6 584.2 M824.2 605.1 L818.4 581 M830.1 601.9 L824.2 577.8" fill="none" stroke="#fff" stroke-width="1"/>
<path d="M749.3 648.1 L833.2 601.4" fill="none" stroke="#000" stroke-width="3.3"/><path d="M749.3 648.1 L833.2 601.4" fill="none" stroke="#fff" stroke-width="1"/>
<path d="M830.1 573.2 L836 596.3 L840.4 595" fill="none" stroke="#000" stroke-width="3"/><path d="M830.1 573.2 L836 596.3 L840.4 595" fill="none" stroke="#fff" stroke-width="1"/>
<path d="M722.3 619.3 L722.3 632.2 L737 654 L742.9 654" fill="none" stroke="#000" stroke-width="3.3"/><path d="M722.3 619.3 L722.3 632.2 L737 654 L742.9 654" fill="none" stroke="#fff" stroke-width="1"/>
<path d="M741.6 624.5 L743.6 633.5" fill="none" stroke="#000" stroke-width="2.2"/><path d="M741.6 624.5 L743.6 633.5" fill="none" stroke="#fff" stroke-width="0.7"/>
<path d="M790.3 676.3 L789 651.4 M796.1 673.2 L794.6 648.3 M801.9 670.1 L800.1 645.2 M807.7 667 L805.6 642.1 M813.4 663.9 L811.2 639 M819.2 660.8 L816.7 635.9 M825 657.6 L822.2 632.9 M830.7 654.5 L827.8 629.8 M836.5 651.4 L833.3 626.7 M842.3 648.3 L838.8 623.6 M848.1 645.2 L844.4 620.5 M853.8 642.1 L849.9 617.4 M859.6 639 L855.4 614.3 M865.4 635.9 L861 611.2 M871.2 632.8 L866.5 608.1 M876.9 629.6 L872 605 M882.7 626.5 L877.6 601.9" fill="none" stroke="#000" stroke-width="3.3"/><path d="M790.3 676.3 L789 651.4 M796.1 673.2 L794.6 648.3 M801.9 670.1 L800.1 645.2 M807.7 667 L805.6 642.1 M813.4 663.9 L811.2 639 M819.2 660.8 L816.7 635.9 M825 657.6 L822.2 632.9 M830.7 654.5 L827.8 629.8 M836.5 651.4 L833.3 626.7 M842.3 648.3 L838.8 623.6 M848.1 645.2 L844.4 620.5 M853.8 642.1 L849.9 617.4 M859.6 639 L855.4 614.3 M865.4 635.9 L861 611.2 M871.2 632.8 L866.5 608.1 M876.9 629.6 L872 605 M882.7 626.5 L877.6 601.9" fill="none" stroke="#fff" stroke-width="1"/>
<path d="M783.9 681.4 L790.3 680.4 L886.6 623.5" fill="none" stroke="#000" stroke-width="3.3"/><path d="M783.9 681.4 L790.3 680.4 L886.6 623.5" fill="none" stroke="#fff" stroke-width="1"/>
<path d="M769.8 646.3 L768.5 660.4 L782.6 680.2 L789 682.2" fill="none" stroke="#000" stroke-width="3.3"/><path d="M769.8 646.3 L768.5 660.4 L782.6 680.2 L789 682.2" fill="none" stroke="#fff" stroke-width="1"/>
<path d="M898.6 559 L903.7 530.1 M905.3 555.3 L909.2 527.2 M912 551.5 L914.7 524.4 M918.7 547.7 L920.2 521.6 M925.4 543.9 L925.7 518.8 M932.2 540.2 L931.2 515.9 M938.9 536.4 L936.7 513.1 M945.6 532.6 L942.2 510.3" fill="none" stroke="#000" stroke-width="3.3"/><path d="M898.6 559 L903.7 530.1 M905.3 555.3 L909.2 527.2 M912 551.5 L914.7 524.4 M918.7 547.7 L920.2 521.6 M925.4 543.9 L925.7 518.8 M932.2 540.2 L931.2 515.9 M938.9 536.4 L936.7 513.1 M945.6 532.6 L942.2 510.3" fill="none" stroke="#fff" stroke-width="1"/>
<path d="M894.3 560.8 L949.4 530.8" fill="none" stroke="#000" stroke-width="3.3"/><path d="M894.3 560.8 L949.4 530.8" fill="none" stroke="#fff" stroke-width="1"/>
<path d="M949.4 488.5 L949.9 498.8 L945.6 514.1 L954.5 527 L959.7 525.2" fill="none" stroke="#000" stroke-width="3.3"/><path d="M949.4 488.5 L949.9 498.8 L945.6 514.1 L954.5 527 L959.7 525.2" fill="none" stroke="#fff" stroke-width="1"/>
<path d="M941.7 509 L946.9 532.1" fill="none" stroke="#000" stroke-width="3"/><path d="M941.7 509 L946.9 532.1" fill="none" stroke="#fff" stroke-width="1"/>
<path d="M944.8 586 L949.9 559 M951.5 582.3 L956.5 555.9 M958.2 578.7 L963 552.7 M964.9 575 L969.5 549.5 M971.6 571.3 L976 546.3 M978.3 567.7 L982.6 543.1 M985 564 L989.1 539.9 M991.8 560.3 L995.6 536.7" fill="none" stroke="#000" stroke-width="3.3"/><path d="M944.8 586 L949.9 559 M951.5 582.3 L956.5 555.9 M958.2 578.7 L963 552.7 M964.9 575 L969.5 549.5 M971.6 571.3 L976 546.3 M978.3 567.7 L982.6 543.1 M985 564 L989.1 539.9 M991.8 560.3 L995.6 536.7" fill="none" stroke="#fff" stroke-width="1"/>
<path d="M940.4 588.6 L1007.1 552.6" fill="none" stroke="#000" stroke-width="3.3"/><path d="M940.4 588.6 L1007.1 552.6" fill="none" stroke="#fff" stroke-width="1"/>
<path d="M996.9 515.4 L997.4 527 L993.6 539.8 L1000.7 557.8" fill="none" stroke="#000" stroke-width="3.3"/><path d="M996.9 515.4 L997.4 527 L993.6 539.8 L1000.7 557.8" fill="none" stroke="#fff" stroke-width="1"/>
<path d="M989.2 536 L993.6 560.3" fill="none" stroke="#000" stroke-width="3"/><path d="M989.2 536 L993.6 560.3" fill="none" stroke="#fff" stroke-width="1"/>
<path d="M896 720.6 L890.1 694.2 M905.1 715.5 L898.9 689.1 M914.2 710.3 L907.7 684.1 M923.3 705.2 L916.5 679 M932.4 700.1 L925.3 674 M941.5 695 L934.1 668.9 M950.6 689.8 L942.9 663.9 M959.7 684.7 L951.7 658.8 M968.8 679.6 L960.5 653.7 M977.9 674.4 L969.3 648.7 M987 669.3 L978.1 643.6 M896 720.6 L898.5 724.2 M905.1 715.5 L907.6 719.1 M914.2 710.3 L916.7 713.9 M923.3 705.2 L925.8 708.8 M932.4 700.1 L935 703.7 M941.5 695 L944.1 698.5 M950.6 689.8 L953.2 693.4 M959.7 684.7 L962.3 688.3 M968.8 679.6 L971.4 683.1 M977.9 674.4 L980.5 678 M987 669.3 L989.6 672.9" fill="none" stroke="#000" stroke-width="3.3"/><path d="M896 720.6 L890.1 694.2 M905.1 715.5 L898.9 689.1 M914.2 710.3 L907.7 684.1 M923.3 705.2 L916.5 679 M932.4 700.1 L925.3 674 M941.5 695 L934.1 668.9 M950.6 689.8 L942.9 663.9 M959.7 684.7 L951.7 658.8 M968.8 679.6 L960.5 653.7 M977.9 674.4 L969.3 648.7 M987 669.3 L978.1 643.6 M896 720.6 L898.5 724.2 M905.1 715.5 L907.6 719.1 M914.2 710.3 L916.7 713.9 M923.3 705.2 L925.8 708.8 M932.4 700.1 L935 703.7 M941.5 695 L944.1 698.5 M950.6 689.8 L953.2 693.4 M959.7 684.7 L962.3 688.3 M968.8 679.6 L971.4 683.1 M977.9 674.4 L980.5 678 M987 669.3 L989.6 672.9" fill="none" stroke="#fff" stroke-width="1"/>
<path d="M884.4 726.8 L1049.9 632.6" fill="none" stroke="#000" stroke-width="3.3"/><path d="M884.4 726.8 L1049.9 632.6" fill="none" stroke="#fff" stroke-width="1"/>
<path d="M993.5 666 L1000.4 631.3 M1002.4 661 L1009.1 626.2 M1011.4 656 L1017.8 621.1 M1020.4 651 L1026.6 615.9 M1029.4 646 L1035.3 610.8 M1038.4 641.1 L1044 605.7 M993.5 666 L996 669.5 M1002.4 661 L1005 664.6 M1011.4 656 L1014 659.6 M1020.4 651 L1023 654.6 M1029.4 646 L1031.9 649.6 M1038.4 641.1 L1040.9 644.7" fill="none" stroke="#000" stroke-width="3.3"/><path d="M993.5 666 L1000.4 631.3 M1002.4 661 L1009.1 626.2 M1011.4 656 L1017.8 621.1 M1020.4 651 L1026.6 615.9 M1029.4 646 L1035.3 610.8 M1038.4 641.1 L1044 605.7 M993.5 666 L996 669.5 M1002.4 661 L1005 664.6 M1011.4 656 L1014 659.6 M1020.4 651 L1023 654.6 M1029.4 646 L1031.9 649.6 M1038.4 641.1 L1040.9 644.7" fill="none" stroke="#fff" stroke-width="1"/>
<path d="M993.5 666 L1038.4 641.1" fill="none" stroke="#000" stroke-width="3.3"/><path d="M993.5 666 L1038.4 641.1" fill="none" stroke="#fff" stroke-width="1"/>
<path d="M881.8 727.5 L892.1 721.9 L901.1 723.7 L890.8 730.1Z" fill="#fff" stroke="#000" stroke-width="1.2"/>
<path d="M891.6 703.2 L892.6 722.4" fill="none" stroke="#000" stroke-width="3"/><path d="M891.6 703.2 L892.6 722.4" fill="none" stroke="#fff" stroke-width="1"/>
<path d="M939.6 746.3 L934.4 719.8 M947.9 741.6 L942.4 715.3 M956.1 736.9 L950.4 710.7 M964.4 732.3 L958.4 706.2 M972.7 727.6 L966.4 701.6 M981 722.9 L974.4 697.1 M989.3 718.3 L982.5 692.5 M997.5 713.6 L990.5 688 M1005.8 708.9 L998.5 683.5 M1014.1 704.3 L1006.5 678.9 M1022.4 699.6 L1014.5 674.4 M1030.7 695 L1022.5 669.8 M939.6 746.3 L942.1 749.9 M947.9 741.6 L950.4 745.2 M956.1 736.9 L958.7 740.5 M964.4 732.3 L967 735.9 M972.7 727.6 L975.3 731.2 M981 722.9 L983.5 726.5 M989.3 718.3 L991.8 721.9 M997.5 713.6 L1000.1 717.2 M1005.8 708.9 L1008.4 712.5 M1014.1 704.3 L1016.7 707.9 M1022.4 699.6 L1025 703.2 M1030.7 695 L1033.2 698.5" fill="none" stroke="#000" stroke-width="3.3"/><path d="M939.6 746.3 L934.4 719.8 M947.9 741.6 L942.4 715.3 M956.1 736.9 L950.4 710.7 M964.4 732.3 L958.4 706.2 M972.7 727.6 L966.4 701.6 M981 722.9 L974.4 697.1 M989.3 718.3 L982.5 692.5 M997.5 713.6 L990.5 688 M1005.8 708.9 L998.5 683.5 M1014.1 704.3 L1006.5 678.9 M1022.4 699.6 L1014.5 674.4 M1030.7 695 L1022.5 669.8 M939.6 746.3 L942.1 749.9 M947.9 741.6 L950.4 745.2 M956.1 736.9 L958.7 740.5 M964.4 732.3 L967 735.9 M972.7 727.6 L975.3 731.2 M981 722.9 L983.5 726.5 M989.3 718.3 L991.8 721.9 M997.5 713.6 L1000.1 717.2 M1005.8 708.9 L1008.4 712.5 M1014.1 704.3 L1016.7 707.9 M1022.4 699.6 L1025 703.2 M1030.7 695 L1033.2 698.5" fill="none" stroke="#fff" stroke-width="1"/>
<path d="M928 752.4 L1093.5 657" fill="none" stroke="#000" stroke-width="3.3"/><path d="M928 752.4 L1093.5 657" fill="none" stroke="#fff" stroke-width="1"/>
<path d="M1037.1 690.8 L1044 656.5 M1046.3 685.9 L1052.9 651.4 M1055.6 680.9 L1061.8 646.4 M1064.8 675.9 L1070.6 641.4 M1074 670.9 L1079.5 636.3 M1083.3 666 L1088.4 631.3 M1037.1 690.8 L1039.6 694.4 M1046.3 685.9 L1048.9 689.5 M1055.6 680.9 L1058.1 684.5 M1064.8 675.9 L1067.4 679.5 M1074 670.9 L1076.6 674.5 M1083.3 666 L1085.8 669.5" fill="none" stroke="#000" stroke-width="3.3"/><path d="M1037.1 690.8 L1044 656.5 M1046.3 685.9 L1052.9 651.4 M1055.6 680.9 L1061.8 646.4 M1064.8 675.9 L1070.6 641.4 M1074 670.9 L1079.5 636.3 M1083.3 666 L1088.4 631.3 M1037.1 690.8 L1039.6 694.4 M1046.3 685.9 L1048.9 689.5 M1055.6 680.9 L1058.1 684.5 M1064.8 675.9 L1067.4 679.5 M1074 670.9 L1076.6 674.5 M1083.3 666 L1085.8 669.5" fill="none" stroke="#fff" stroke-width="1"/>
<path d="M1037.1 690.8 L1083.3 666" fill="none" stroke="#000" stroke-width="3.3"/><path d="M1037.1 690.8 L1083.3 666" fill="none" stroke="#fff" stroke-width="1"/>
<path d="M926 753.2 L936.2 747.6 L945.2 749.3 L935 755.8Z" fill="#fff" stroke="#000" stroke-width="1.2"/>
<path d="M935.7 728.8 L936.8 748.1" fill="none" stroke="#000" stroke-width="3"/><path d="M935.7 728.8 L936.8 748.1" fill="none" stroke="#fff" stroke-width="1"/>
<path d="M844.2 577 L871.2 562.4 L877.6 562.9 L943 601.4 L941.7 609.6 L918.6 621.4 L909.6 620.6 L844.2 583.4Z" fill="none" stroke="#333" stroke-width="0.9" stroke-dasharray="9 3"/>
<path d="M1001.2 746.8 L1042.2 723.2 L1053.8 723.7 L1092.2 746.8 L1092.2 759.6 L1051.2 781.4 L1040.9 781.4 L1001.2 757Z" fill="none" stroke="#333" stroke-width="0.9" stroke-dasharray="9 3"/>
<path d="M850.6 576.2 C850.9 575.2 852.4 574.1 853.7 574.2 C855 574.3 856.8 575.7 858.3 576.8 C859.8 577.9 862.2 579.7 862.9 580.9 C863.5 582.1 863.2 583.5 862.2 583.9 C861.2 584.3 858.7 584 857 583.4 C855.3 582.8 853 581.3 851.9 580.1 C850.8 578.9 850.3 577.2 850.6 576.2Z" fill="#fff" stroke="#000" stroke-width="1.2"/>
<path d="M853.7 577.5 L858.3 580.3 L858.3 582.9" fill="none" stroke="#000" stroke-width="1"/>
<ellipse cx="853.7" cy="576.8" rx="2" ry="1.6" fill="none" stroke="#000" stroke-width="1"/>
<path d="M868.6 567.5 C868.9 566.5 870.4 565.4 871.7 565.5 C873 565.6 874.8 566.9 876.3 568 C877.8 569.1 880.3 570.9 880.9 572.1 C881.5 573.3 881.1 574.8 880.1 575.2 C879.1 575.6 876.7 575.3 875 574.7 C873.3 574.1 871 572.6 869.9 571.4 C868.8 570.2 868.3 568.5 868.6 567.5Z" fill="#fff" stroke="#000" stroke-width="1.2"/>
<path d="M871.7 568.8 L876.3 571.6 L876.3 574.2" fill="none" stroke="#000" stroke-width="1"/>
<ellipse cx="871.7" cy="568" rx="2" ry="1.6" fill="none" stroke="#000" stroke-width="1"/>
<path d="M909.6 607 C909.9 606 911.4 604.9 912.7 605 C914 605.1 915.8 606.4 917.3 607.5 C918.8 608.6 921.4 610.5 922 611.7 C922.6 612.9 922.2 614.3 921.2 614.7 C920.2 615.1 917.8 614.8 916.1 614.2 C914.4 613.6 912 612.1 910.9 610.9 C909.8 609.7 909.3 608 909.6 607Z" fill="#fff" stroke="#000" stroke-width="1.2"/>
<path d="M912.7 608.3 L917.3 611.1 L917.3 613.7" fill="none" stroke="#000" stroke-width="1"/>
<ellipse cx="912.7" cy="607.5" rx="2" ry="1.6" fill="none" stroke="#000" stroke-width="1"/>
<path d="M923.8 596.8 C924.1 595.8 925.5 594.6 926.8 594.7 C928.1 594.8 930 596.2 931.5 597.3 C933 598.4 935.5 600.2 936.1 601.4 C936.7 602.6 936.3 604.1 935.3 604.5 C934.3 604.9 931.9 604.6 930.2 604 C928.5 603.4 926.1 601.8 925 600.6 C923.9 599.4 923.5 597.8 923.8 596.8Z" fill="#fff" stroke="#000" stroke-width="1.2"/>
<path d="M926.8 598.1 L931.5 600.9 L931.5 603.4" fill="none" stroke="#000" stroke-width="1"/>
<ellipse cx="926.8" cy="597.3" rx="2" ry="1.6" fill="none" stroke="#000" stroke-width="1"/>
<path d="M1069.2 747.3 C1069.5 746.3 1070.9 745.1 1072.2 745.2 C1073.5 745.3 1075.4 746.7 1076.9 747.8 C1078.5 748.9 1080.9 750.7 1081.5 751.9 C1082.1 753.1 1081.7 754.6 1080.7 755 C1079.7 755.4 1077.3 755.1 1075.6 754.5 C1073.9 753.9 1071.5 752.3 1070.4 751.1 C1069.3 749.9 1068.9 748.3 1069.2 747.3Z" fill="#fff" stroke="#000" stroke-width="1.2"/>
<path d="M1072.2 748.6 L1076.9 751.4 L1076.9 754" fill="none" stroke="#000" stroke-width="1"/>
<ellipse cx="1072.2" cy="747.8" rx="2" ry="1.6" fill="none" stroke="#000" stroke-width="1"/>
<path d="M1038.4 764.2 C1038.7 763.2 1040.1 762.1 1041.4 762.2 C1042.7 762.3 1044.5 763.6 1046.1 764.7 C1047.6 765.8 1050.1 767.6 1050.7 768.8 C1051.3 770 1050.9 771.5 1049.9 771.9 C1048.9 772.3 1046.5 772 1044.8 771.4 C1043.1 770.8 1040.7 769.3 1039.6 768.1 C1038.5 766.9 1038.1 765.2 1038.4 764.2Z" fill="#fff" stroke="#000" stroke-width="1.2"/>
<path d="M1041.4 765.5 L1046.1 768.3 L1046.1 770.9" fill="none" stroke="#000" stroke-width="1"/>
<ellipse cx="1041.4" cy="764.7" rx="2" ry="1.6" fill="none" stroke="#000" stroke-width="1"/>
<path d="M1037.9 731.9 L1039.9 729.8 L1057.1 738.3 L1058.4 741.7 L1055.8 742.7 L1038.4 735Z" fill="#fff" stroke="#000" stroke-width="1.2"/>
<path d="M1039.9 732.4 L1055.8 740.1" fill="none" stroke="#000" stroke-width="0.9"/>
<ellipse cx="1039.4" cy="732.4" rx="1.8" ry="1.6" fill="none" stroke="#000" stroke-width="1"/>
<ellipse cx="1057.4" cy="740.6" rx="1.8" ry="1.6" fill="none" stroke="#000" stroke-width="1"/>
<path d="M1006.3 748.8 L1008.3 746.8 L1025.5 755.2 L1026.8 758.6 L1024.3 759.6 L1006.8 751.9Z" fill="#fff" stroke="#000" stroke-width="1.2"/>
<path d="M1008.3 749.3 L1024.3 757" fill="none" stroke="#000" stroke-width="0.9"/>
<ellipse cx="1007.8" cy="749.3" rx="1.8" ry="1.6" fill="none" stroke="#000" stroke-width="1"/>
<ellipse cx="1025.8" cy="757.6" rx="1.8" ry="1.6" fill="none" stroke="#000" stroke-width="1"/>
<path d="M963.5 483.4 L964.8 478.2 L969.9 476.9 L975.1 482.1 L982.8 484.6 L990.5 488.5 L999.5 493.6 L1000.7 498.8 L995.6 501.3 L994.3 510.3 L987.9 512.9 L986.6 516.7 L978.9 518 L976.4 512.9 L977.6 506.4 L971.2 503.9 L969.9 492.3 L965.6 488.5Z" fill="#fff" stroke="#000" stroke-width="1.5"/>
<path d="M975.1 482.1 L973.8 502.6" fill="none" stroke="#000" stroke-width="1"/>
<path d="M982.8 484.6 L981.5 507.7" fill="none" stroke="#000" stroke-width="1"/>
<path d="M990.5 488.5 L989.2 511.6" fill="none" stroke="#000" stroke-width="1"/>
<path d="M969.9 492.3 L978.9 489.8 L995.6 498.8" fill="none" stroke="#000" stroke-width="1"/>
<path d="M978.9 489.8 L978.4 505.2" fill="none" stroke="#000" stroke-width="1"/>
<path d="M971.2 483.4 L996.9 496.2" fill="none" stroke="#000" stroke-width="1.4"/>
<ellipse cx="981.5" cy="512.9" rx="3" ry="2.5" fill="none" stroke="#000" stroke-width="1"/>
<path d="M1008.4 511.6 L1009.7 506.4 L1014.8 505.2 L1020 510.3 L1027.7 512.9 L1035.4 516.7 L1044.4 521.8 L1045.6 527 L1040.5 529.5 L1039.2 538.5 L1032.8 541.1 L1031.5 544.9 L1023.8 546.2 L1021.3 541.1 L1022.5 534.7 L1016.1 532.1 L1014.8 520.6 L1010.5 516.7Z" fill="#fff" stroke="#000" stroke-width="1.5"/>
<path d="M1020 510.3 L1018.7 530.8" fill="none" stroke="#000" stroke-width="1"/>
<path d="M1027.7 512.9 L1026.4 536" fill="none" stroke="#000" stroke-width="1"/>
<path d="M1035.4 516.7 L1034.1 539.8" fill="none" stroke="#000" stroke-width="1"/>
<path d="M1014.8 520.6 L1023.8 518 L1040.5 527" fill="none" stroke="#000" stroke-width="1"/>
<path d="M1023.8 518 L1023.3 533.4" fill="none" stroke="#000" stroke-width="1"/>
<path d="M1016.1 511.6 L1041.8 524.4" fill="none" stroke="#000" stroke-width="1.4"/>
<ellipse cx="1026.4" cy="541.1" rx="3" ry="2.5" fill="none" stroke="#000" stroke-width="1"/>
<path d="M687.7 647.6 L688.5 642.4 L692.3 637.3 L696.7 636 L699.2 639.1 L699.2 645 L706.9 648.9 L713.4 650.9 L718 654 L721.6 659.6 L722.3 666.8 L718 672.5 L711.3 670.7 L708.2 666.3 L703.1 663.7 L699.2 659.6 L698.5 656 L691.5 651.9Z" fill="#fff" stroke="#000" stroke-width="1.6"/>
<ellipse cx="693.3" cy="643.7" rx="3.6" ry="4.6" fill="none" stroke="#000" stroke-width="1.4" transform="rotate(-25 693.3 643.7)"/>
<path d="M694.9 646.8 L706.9 652.4 L716.4 657.6" fill="none" stroke="#000" stroke-width="2.0"/>
<path d="M695.4 650.4 L705.7 655.5 L715.4 660.7" fill="none" stroke="#000" stroke-width="1.4"/>
<path d="M699.2 659.6 L701 656 L709.5 660.4 L708.2 666.3" fill="none" stroke="#000" stroke-width="1.3"/>
<path d="M700.5 657.6 L700 661.7" fill="none" stroke="#000" stroke-width="1.6"/>
<path d="M702.6 658.6 L702.1 662.7" fill="none" stroke="#000" stroke-width="1.6"/>
<path d="M704.6 659.6 L704.1 663.7" fill="none" stroke="#000" stroke-width="1.6"/>
<path d="M706.7 660.7 L706.2 664.8" fill="none" stroke="#000" stroke-width="1.6"/>
<path d="M710.3 661.7 L718 664.8 L717.5 670.9 L711.8 668.9Z" fill="#fff" stroke="#000" stroke-width="1.2"/>
<path d="M712.3 663.2 L712.3 668.9" fill="none" stroke="#000" stroke-width="1.8"/>
<path d="M714.9 664.3 L714.9 669.9" fill="none" stroke="#000" stroke-width="1.8"/>
<path d="M716.4 657.6 L720.5 660.7 L721.1 666.3" fill="none" stroke="#000" stroke-width="1.3"/>
<path d="M713.4 650.9 L712.8 655.5" fill="none" stroke="#000" stroke-width="1.2"/>
<path d="M706.9 648.9 L706.4 652.2" fill="none" stroke="#000" stroke-width="1.2"/>
<path d="M737.7 674 L738.5 668.9 L742.4 663.7 L746.7 662.5 L749.3 665.5 L749.3 671.4 L757 675.3 L763.4 677.3 L768 680.4 L771.6 686.1 L772.4 693.2 L768 698.9 L761.3 697.1 L758.3 692.7 L753.1 690.2 L749.3 686.1 L748.5 682.5 L741.6 678.4Z" fill="#fff" stroke="#000" stroke-width="1.6"/>
<ellipse cx="743.4" cy="670.2" rx="3.6" ry="4.6" fill="none" stroke="#000" stroke-width="1.4" transform="rotate(-25 743.4 670.2)"/>
<path d="M744.9 673.2 L757 678.9 L766.5 684" fill="none" stroke="#000" stroke-width="2.0"/>
<path d="M745.4 676.8 L755.7 682 L765.4 687.1" fill="none" stroke="#000" stroke-width="1.4"/>
<path d="M749.3 686.1 L751.1 682.5 L759.5 686.8 L758.3 692.7" fill="none" stroke="#000" stroke-width="1.3"/>
<path d="M750.6 684 L750 688.1" fill="none" stroke="#000" stroke-width="1.6"/>
<path d="M752.6 685 L752.1 689.1" fill="none" stroke="#000" stroke-width="1.6"/>
<path d="M754.7 686.1 L754.2 690.2" fill="none" stroke="#000" stroke-width="1.6"/>
<path d="M756.7 687.1 L756.2 691.2" fill="none" stroke="#000" stroke-width="1.6"/>
<path d="M760.3 688.1 L768 691.2 L767.5 697.4 L761.9 695.3Z" fill="#fff" stroke="#000" stroke-width="1.2"/>
<path d="M762.4 689.7 L762.4 695.3" fill="none" stroke="#000" stroke-width="1.8"/>
<path d="M764.9 690.7 L764.9 696.3" fill="none" stroke="#000" stroke-width="1.8"/>
<path d="M766.5 684 L770.6 687.1 L771.1 692.7" fill="none" stroke="#000" stroke-width="1.3"/>
<path d="M763.4 677.3 L762.9 682" fill="none" stroke="#000" stroke-width="1.2"/>
<path d="M757 675.3 L756.5 678.6" fill="none" stroke="#000" stroke-width="1.2"/>
<path d="M833.1 732.2 L833.9 727 L837.7 721.9 L842.1 720.6 L844.6 723.7 L844.6 729.6 L852.3 733.4 L858.8 735.5 L863.4 738.6 L867 744.2 L867.7 751.4 L863.4 757 L856.7 755.2 L853.6 750.9 L848.5 748.3 L844.6 744.2 L843.9 740.6 L836.9 736.5Z" fill="#fff" stroke="#000" stroke-width="1.6"/>
<ellipse cx="838.7" cy="728.3" rx="3.6" ry="4.6" fill="none" stroke="#000" stroke-width="1.4" transform="rotate(-25 838.7 728.3)"/>
<path d="M840.3 731.4 L852.3 737 L861.8 742.2" fill="none" stroke="#000" stroke-width="2.0"/>
<path d="M840.8 735 L851.1 740.1 L860.8 745.2" fill="none" stroke="#000" stroke-width="1.4"/>
<path d="M844.6 744.2 L846.4 740.6 L854.9 745 L853.6 750.9" fill="none" stroke="#000" stroke-width="1.3"/>
<path d="M845.9 742.2 L845.4 746.3" fill="none" stroke="#000" stroke-width="1.6"/>
<path d="M848 743.2 L847.5 747.3" fill="none" stroke="#000" stroke-width="1.6"/>
<path d="M850 744.2 L849.5 748.3" fill="none" stroke="#000" stroke-width="1.6"/>
<path d="M852.1 745.2 L851.6 749.3" fill="none" stroke="#000" stroke-width="1.6"/>
<path d="M855.7 746.3 L863.4 749.3 L862.9 755.5 L857.2 753.5Z" fill="#fff" stroke="#000" stroke-width="1.2"/>
<path d="M857.7 747.8 L857.7 753.5" fill="none" stroke="#000" stroke-width="1.8"/>
<path d="M860.3 748.8 L860.3 754.5" fill="none" stroke="#000" stroke-width="1.8"/>
<path d="M861.8 742.2 L865.9 745.2 L866.4 750.9" fill="none" stroke="#000" stroke-width="1.3"/>
<path d="M858.8 735.5 L858.2 740.1" fill="none" stroke="#000" stroke-width="1.2"/>
<path d="M852.3 733.4 L851.8 736.8" fill="none" stroke="#000" stroke-width="1.2"/>
<path d="M878 757 L878.8 751.9 L882.6 746.8 L887 745.5 L889.5 748.6 L889.5 754.5 L897.2 758.3 L903.7 760.4 L908.3 763.5 L911.9 769.1 L912.6 776.3 L908.3 781.9 L901.6 780.1 L898.5 775.8 L893.4 773.2 L889.5 769.1 L888.8 765.5 L881.8 761.4Z" fill="#fff" stroke="#000" stroke-width="1.6"/>
<ellipse cx="883.6" cy="753.2" rx="3.6" ry="4.6" fill="none" stroke="#000" stroke-width="1.4" transform="rotate(-25 883.6 753.2)"/>
<path d="M885.2 756.3 L897.2 761.9 L906.7 767.1" fill="none" stroke="#000" stroke-width="2.0"/>
<path d="M885.7 759.9 L896 765 L905.7 770.1" fill="none" stroke="#000" stroke-width="1.4"/>
<path d="M889.5 769.1 L891.3 765.5 L899.8 769.9 L898.5 775.8" fill="none" stroke="#000" stroke-width="1.3"/>
<path d="M890.8 767.1 L890.3 771.2" fill="none" stroke="#000" stroke-width="1.6"/>
<path d="M892.9 768.1 L892.4 772.2" fill="none" stroke="#000" stroke-width="1.6"/>
<path d="M894.9 769.1 L894.4 773.2" fill="none" stroke="#000" stroke-width="1.6"/>
<path d="M897 770.1 L896.5 774.2" fill="none" stroke="#000" stroke-width="1.6"/>
<path d="M900.6 771.2 L908.3 774.2 L907.8 780.4 L902.1 778.3Z" fill="#fff" stroke="#000" stroke-width="1.2"/>
<path d="M902.6 772.7 L902.6 778.3" fill="none" stroke="#000" stroke-width="1.8"/>
<path d="M905.2 773.7 L905.2 779.4" fill="none" stroke="#000" stroke-width="1.8"/>
<path d="M906.7 767.1 L910.8 770.1 L911.4 775.8" fill="none" stroke="#000" stroke-width="1.3"/>
<path d="M903.7 760.4 L903.1 765" fill="none" stroke="#000" stroke-width="1.2"/>
<path d="M897.2 758.3 L896.7 761.7" fill="none" stroke="#000" stroke-width="1.2"/>
<!-- 53_misc.py -->
<path d="M400 710.9 C400.6 710.5 402.8 710.4 403.3 708.7 C403.9 707.1 402.6 703.3 403.3 701 C404 698.7 405.6 696.2 407.4 695 C409.2 693.8 412.2 694.8 414.3 693.6 C416.4 692.4 417.8 688.9 419.9 687.7 C422 686.5 424.7 687.5 426.8 686.3 C428.9 685.1 430.3 681.6 432.4 680.4 C434.5 679.2 437.2 680.2 439.3 679 C441.4 677.8 442.8 674.4 444.9 673.2 C447 672 449.7 673 451.8 671.8 C453.9 670.6 455.3 667.1 457.4 665.9 C459.5 664.7 462.2 665.7 464.3 664.5 C466.4 663.3 467.8 659.9 469.9 658.7 C472 657.5 474.8 658.4 476.9 657.2 C479 656 480.3 652.6 482.4 651.4 C484.5 650.2 487.3 651.2 489.4 650 C491.5 648.8 492.8 645.3 494.9 644.1 C497 642.9 499.8 643.9 501.9 642.7 C504 641.5 505.4 638.1 507.5 636.9 C509.6 635.7 512.3 636.7 514.4 635.5 C516.5 634.3 517.9 630.8 520 629.6 C522.1 628.4 524.8 629.4 526.9 628.2 C529 627 530.4 623.5 532.5 622.3 C534.6 621.1 537.3 622.1 539.4 620.9 C541.5 619.7 543.5 616.2 545 615.1 C546.5 614 546.3 614.3 548.6 614 C550.9 613.7 556.9 613.4 558.6 613.3" fill="none" stroke="#000" stroke-width="2.8"/><path d="M400 710.9 C400.6 710.5 402.8 710.4 403.3 708.7 C403.9 707.1 402.6 703.3 403.3 701 C404 698.7 405.6 696.2 407.4 695 C409.2 693.8 412.2 694.8 414.3 693.6 C416.4 692.4 417.8 688.9 419.9 687.7 C422 686.5 424.7 687.5 426.8 686.3 C428.9 685.1 430.3 681.6 432.4 680.4 C434.5 679.2 437.2 680.2 439.3 679 C441.4 677.8 442.8 674.4 444.9 673.2 C447 672 449.7 673 451.8 671.8 C453.9 670.6 455.3 667.1 457.4 665.9 C459.5 664.7 462.2 665.7 464.3 664.5 C466.4 663.3 467.8 659.9 469.9 658.7 C472 657.5 474.8 658.4 476.9 657.2 C479 656 480.3 652.6 482.4 651.4 C484.5 650.2 487.3 651.2 489.4 650 C491.5 648.8 492.8 645.3 494.9 644.1 C497 642.9 499.8 643.9 501.9 642.7 C504 641.5 505.4 638.1 507.5 636.9 C509.6 635.7 512.3 636.7 514.4 635.5 C516.5 634.3 517.9 630.8 520 629.6 C522.1 628.4 524.8 629.4 526.9 628.2 C529 627 530.4 623.5 532.5 622.3 C534.6 621.1 537.3 622.1 539.4 620.9 C541.5 619.7 543.5 616.2 545 615.1 C546.5 614 546.3 614.3 548.6 614 C550.9 613.7 556.9 613.4 558.6 613.3" fill="none" stroke="#fff" stroke-width="0.9"/>
<path d="M558.6 613.3 C558.6 622.4 558.2 658 558.6 667.7 C559 677.4 560 670.7 561.3 671.7 C562.6 672.7 564.6 673.7 566.4 673.7 C568.2 673.7 571 672 571.9 671.7" fill="none" stroke="#000" stroke-width="2.8"/><path d="M558.6 613.3 C558.6 622.4 558.2 658 558.6 667.7 C559 677.4 560 670.7 561.3 671.7 C562.6 672.7 564.6 673.7 566.4 673.7 C568.2 673.7 571 672 571.9 671.7" fill="none" stroke="#fff" stroke-width="0.9"/>
<path d="M403.3 701 C403.3 710.2 402.9 746.4 403.3 756.4 C403.7 766.4 404.4 759.7 405.5 760.9 C406.6 762.1 408.6 763.4 409.9 763.5 C411.2 763.6 412.7 762.1 413.3 761.8" fill="none" stroke="#000" stroke-width="2.8"/><path d="M403.3 701 C403.3 710.2 402.9 746.4 403.3 756.4 C403.7 766.4 404.4 759.7 405.5 760.9 C406.6 762.1 408.6 763.4 409.9 763.5 C411.2 763.6 412.7 762.1 413.3 761.8" fill="none" stroke="#fff" stroke-width="0.9"/>
<path d="M538.9 720.9 L564.2 735.8 L552.9 737.4 L549.6 743.9 L538.4 745.4 L535 752.1 L523.9 753.3 L520.4 760.2 L509.5 761.3 L505.8 768.3 L495 769.3 L491.2 776.4 L480.5 777.3 L476.6 784.6 L466 785.2 L462 792.7 L451.6 793.2 L447.4 800.8 L438.5 797.4 L428 782.1Z" fill="#fff" stroke="#000" stroke-width="1.2"/>
<path d="M428.3 779.4 L428.1 775.5 L539.1 718.3 L539.1 718.3 L564.4 733.1 L553.1 734.7 L549.8 741.3 L538.6 742.7 L535.2 749.4 L524.2 750.7 L520.6 757.5 L509.7 758.7 L506 765.6 L495.2 766.6 L491.4 773.8 L480.7 774.6 L476.9 781.9 L466.3 782.6 L462.3 790 L451.8 790.5 L447.7 798.2 L438.8 794.7Z" fill="#fff" stroke="#000" stroke-width="1.6"/>
<path d="M433.6 781.9 L546.2 722.4 M439.1 788.2 L553.3 726.6 M435.7 772.6 L452.2 791 M442.6 769 L461.7 789.4 M449.6 765.4 L466.7 783 M456.5 761.8 L476.2 781.3 M463.5 758.2 L481.2 775 M470.4 754.6 L490.8 773.2 M477.3 751 L495.7 767 M484.3 747.5 L505.4 765.1 M491.2 743.9 L510.1 759 M498.2 740.3 L519.9 757 M505.1 736.7 L524.6 751 M512.1 733.1 L534.5 748.9 M519 729.5 L539.1 743 M526 725.9 L549.1 740.8 M532.9 722.3 L553.6 735" fill="none" stroke="#000" stroke-width="2.4"/><path d="M433.6 781.9 L546.2 722.4 M439.1 788.2 L553.3 726.6 M435.7 772.6 L452.2 791 M442.6 769 L461.7 789.4 M449.6 765.4 L466.7 783 M456.5 761.8 L476.2 781.3 M463.5 758.2 L481.2 775 M470.4 754.6 L490.8 773.2 M477.3 751 L495.7 767 M484.3 747.5 L505.4 765.1 M491.2 743.9 L510.1 759 M498.2 740.3 L519.9 757 M505.1 736.7 L524.6 751 M512.1 733.1 L534.5 748.9 M519 729.5 L539.1 743 M526 725.9 L549.1 740.8 M532.9 722.3 L553.6 735" fill="none" stroke="#fff" stroke-width="0.8"/>
<path d="M457 761.8 L456.3 756.1 L459.4 753 L464.8 753.4 L467.4 757 L467 762.3 L461.4 764.1Z" fill="#fff" stroke="#000" stroke-width="1.2"/>
<path d="M456.3 756.1 L461.4 757.8 L467.4 757" fill="none" stroke="#000" stroke-width="1"/>
<path d="M461.4 757.8 L461.4 763.6" fill="none" stroke="#000" stroke-width="1"/>
<path d="M479.2 750.4 L478.5 744.6 L481.6 741.5 L486.9 742 L489.6 745.5 L489.2 750.8 L483.6 752.6Z" fill="#fff" stroke="#000" stroke-width="1.2"/>
<path d="M478.5 744.6 L483.6 746.4 L489.6 745.5" fill="none" stroke="#000" stroke-width="1"/>
<path d="M483.6 746.4 L483.6 752.2" fill="none" stroke="#000" stroke-width="1"/>
<path d="M526.9 725.8 L526.2 720 L529.3 716.9 L534.7 717.3 L537.3 720.9 L536.9 726.2 L531.3 728Z" fill="#fff" stroke="#000" stroke-width="1.2"/>
<path d="M526.2 720 L531.3 721.8 L537.3 720.9" fill="none" stroke="#000" stroke-width="1"/>
<path d="M531.3 721.8 L531.3 727.5" fill="none" stroke="#000" stroke-width="1"/>
<path d="M605 678.8 L630.5 697 L619 698.3 L615.5 705.4 L604.1 706.7 L600.6 713.8 L589.2 715.1 L585.6 722.3 L574.3 723.5 L570.6 730.7 L562.7 727.2 L548.9 715Z" fill="#fff" stroke="#000" stroke-width="1.2"/>
<path d="M549.2 712.3 L547.5 709.4 L605.2 676.1 L605.2 676.1 L630.7 694.3 L619.2 695.6 L615.8 702.7 L604.3 704 L600.8 711.2 L589.4 712.4 L585.8 719.6 L574.5 720.8 L570.8 728 L562.9 724.5Z" fill="#fff" stroke="#000" stroke-width="1.6"/>
<path d="M554.1 714.6 L612.4 681.2 M560.6 719.8 L619.5 686.3 M555.5 705.8 L575 721.2 M562.7 701.6 L585.1 719 M569.9 697.5 L589.9 712.8 M577.1 693.3 L600.1 710.6 M584.3 689.1 L604.8 704.4 M591.6 685 L615 702.2 M598.8 680.8 L619.7 696" fill="none" stroke="#000" stroke-width="2.4"/><path d="M554.1 714.6 L612.4 681.2 M560.6 719.8 L619.5 686.3 M555.5 705.8 L575 721.2 M562.7 701.6 L585.1 719 M569.9 697.5 L589.9 712.8 M577.1 693.3 L600.1 710.6 M584.3 689.1 L604.8 704.4 M591.6 685 L615 702.2 M598.8 680.8 L619.7 696" fill="none" stroke="#fff" stroke-width="0.8"/>
<path d="M559.1 703.8 L558.4 698.1 L561.6 695 L566.9 695.4 L569.5 699 L569.1 704.3 L563.6 706.1Z" fill="#fff" stroke="#000" stroke-width="1.2"/>
<path d="M558.4 698.1 L563.6 699.8 L569.5 699" fill="none" stroke="#000" stroke-width="1"/>
<path d="M563.6 699.8 L563.6 705.6" fill="none" stroke="#000" stroke-width="1"/>
<path d="M576.4 693.9 L575.8 688.1 L578.9 685 L584.2 685.4 L586.9 689 L586.4 694.3 L580.9 696.1Z" fill="#fff" stroke="#000" stroke-width="1.2"/>
<path d="M575.8 688.1 L580.9 689.9 L586.9 689" fill="none" stroke="#000" stroke-width="1"/>
<path d="M580.9 689.9 L580.9 695.6" fill="none" stroke="#000" stroke-width="1"/>
<path d="M600.1 680.2 L599.4 674.4 L602.5 671.3 L607.8 671.8 L610.5 675.3 L610.1 680.7 L604.5 682.4Z" fill="#fff" stroke="#000" stroke-width="1.2"/>
<path d="M599.4 674.4 L604.5 676.2 L610.5 675.3" fill="none" stroke="#000" stroke-width="1"/>
<path d="M604.5 676.2 L604.5 682" fill="none" stroke="#000" stroke-width="1"/>
<path d="M596.4 642.1 L599.7 638.8 L620.8 644.4 L639.6 655.5 L641.2 652.1 L647.4 654.4 L648.5 661 L650.1 673.2 L647.4 678.8 L641.8 680.5 L637.4 674.3 L596.4 652.1Z" fill="#fff" stroke="#000" stroke-width="1.5"/>
<path d="M599.7 638.8 L599.7 649.9" fill="none" stroke="#000" stroke-width="1"/>
<path d="M600.8 648.1 L636.3 667.7" fill="none" stroke="#000" stroke-width="1.1" stroke-dasharray="5 2"/>
<path d="M605.2 645.5 L634.1 661" fill="none" stroke="#000" stroke-width="0.8"/>
<path d="M639.6 655.5 L639.6 672.1" fill="none" stroke="#000" stroke-width="1"/>
<path d="M644.1 656.6 L645.2 676.5" fill="none" stroke="#000" stroke-width="1"/>
<path d="M613 643.3 L616.3 648.1 L620.8 649.9" fill="none" stroke="#000" stroke-width="1.5"/>
<path d="M359.6 776.1 L363.3 773.6 L395.8 792.3 L398.3 789.8 L404.5 793.6 L405.8 802.3 L412 806 L410.8 811 L402 817.3 L394.5 818.5 L392 812.3 L393.3 806 L372.1 796.1 L369.6 797.3 L360.8 787.3Z" fill="#fff" stroke="#000" stroke-width="1.5"/>
<path d="M363.3 773.6 L364.1 784.8" fill="none" stroke="#000" stroke-width="1"/>
<path d="M365.1 783.6 L393.3 799.8" fill="none" stroke="#000" stroke-width="1.1" stroke-dasharray="5 2"/>
<path d="M369.6 779.8 L392 793.6" fill="none" stroke="#000" stroke-width="0.8"/>
<path d="M395.8 792.3 L395.8 809.8" fill="none" stroke="#000" stroke-width="1"/>
<path d="M400.8 794.8 L401.5 816" fill="none" stroke="#000" stroke-width="1"/>
<path d="M369.6 787.3 L373.3 791.1 L372.1 796.1" fill="none" stroke="#000" stroke-width="1.5"/>
<g transform="rotate(-28 488.3 903.6)">
<ellipse cx="488.3" cy="903.6" rx="7.4" ry="9.2" fill="#fff" stroke="#000" stroke-width="1.4"/>
<ellipse cx="485.1" cy="904.2" rx="4.3" ry="7.4" fill="#fff" stroke="#000" stroke-width="1.5"/>
<ellipse cx="485.1" cy="904.2" rx="2.4" ry="4.6" fill="none" stroke="#000" stroke-width="1.3"/>
<path d="M481.5 898.6 L483.9 900.3" fill="none" stroke="#000" stroke-width="1.5"/>
<path d="M481.5 902.2 L483.9 902.8" fill="none" stroke="#000" stroke-width="1.5"/>
<path d="M481.5 906.2 L483.9 905.6" fill="none" stroke="#000" stroke-width="1.5"/>
<path d="M481.5 909.8 L483.9 908.1" fill="none" stroke="#000" stroke-width="1.5"/>
<path d="M482.9 903.2 L485.6 905.2" fill="none" stroke="#000" stroke-width="1.6"/>
</g>
<path d="M496.4 899 L497.9 895 L500.9 893.5 L501.9 890.5 L504.9 890 L506.9 892.5 L505.4 895.5 L505.9 898.5 L503.4 900.5 L499.9 900 L498.4 901.5Z" fill="#fff" stroke="#000" stroke-width="1.5"/>
<ellipse cx="498.2" cy="898.8" rx="1.7" ry="2.2" fill="none" stroke="#000" stroke-width="1.4" transform="rotate(-28 498.2 898.8)"/>
<path d="M500.9 893.5 L503.4 895.5 L505.4 895.5" fill="none" stroke="#000" stroke-width="1.2"/>
<g transform="rotate(-28 522 923.5)">
<ellipse cx="522" cy="923.5" rx="7.4" ry="9.2" fill="#fff" stroke="#000" stroke-width="1.4"/>
<ellipse cx="518.8" cy="924.1" rx="4.3" ry="7.4" fill="#fff" stroke="#000" stroke-width="1.5"/>
<ellipse cx="518.8" cy="924.1" rx="2.4" ry="4.6" fill="none" stroke="#000" stroke-width="1.3"/>
<path d="M515.2 918.5 L517.6 920.2" fill="none" stroke="#000" stroke-width="1.5"/>
<path d="M515.2 922.1 L517.6 922.7" fill="none" stroke="#000" stroke-width="1.5"/>
<path d="M515.2 926.1 L517.6 925.5" fill="none" stroke="#000" stroke-width="1.5"/>
<path d="M515.2 929.7 L517.6 928" fill="none" stroke="#000" stroke-width="1.5"/>
<path d="M516.6 923.1 L519.3 925.1" fill="none" stroke="#000" stroke-width="1.6"/>
</g>
<path d="M530 918.5 L531.5 914.5 L534.5 913 L535.5 910 L538.5 909.5 L540.5 912 L539 915 L539.5 918 L537 920 L533.5 919.5 L532 921Z" fill="#fff" stroke="#000" stroke-width="1.5"/>
<ellipse cx="531.8" cy="918.3" rx="1.7" ry="2.2" fill="none" stroke="#000" stroke-width="1.4" transform="rotate(-28 531.8 918.3)"/>
<path d="M534.5 913 L537 915 L539 915" fill="none" stroke="#000" stroke-width="1.2"/>
<g transform="rotate(-28 589.5 961)">
<ellipse cx="589.5" cy="961" rx="7.4" ry="9.2" fill="#fff" stroke="#000" stroke-width="1.4"/>
<ellipse cx="586.3" cy="961.6" rx="4.3" ry="7.4" fill="#fff" stroke="#000" stroke-width="1.5"/>
<ellipse cx="586.3" cy="961.6" rx="2.4" ry="4.6" fill="none" stroke="#000" stroke-width="1.3"/>
<path d="M582.7 956 L585.1 957.7" fill="none" stroke="#000" stroke-width="1.5"/>
<path d="M582.7 959.6 L585.1 960.2" fill="none" stroke="#000" stroke-width="1.5"/>
<path d="M582.7 963.6 L585.1 963" fill="none" stroke="#000" stroke-width="1.5"/>
<path d="M582.7 967.2 L585.1 965.5" fill="none" stroke="#000" stroke-width="1.5"/>
<path d="M584.1 960.6 L586.8 962.6" fill="none" stroke="#000" stroke-width="1.6"/>
</g>
<path d="M597.5 956.5 L599 952.5 L602 951 L603 948 L606 947.5 L608 950 L606.5 953 L607 956 L604.5 958 L601 957.5 L599.5 959Z" fill="#fff" stroke="#000" stroke-width="1.5"/>
<ellipse cx="599.3" cy="956.3" rx="1.7" ry="2.2" fill="none" stroke="#000" stroke-width="1.4" transform="rotate(-28 599.3 956.3)"/>
<path d="M602 951 L604.5 953 L606.5 953" fill="none" stroke="#000" stroke-width="1.2"/>
<g transform="rotate(-28 623.5 980)">
<ellipse cx="623.5" cy="980" rx="7.4" ry="9.2" fill="#fff" stroke="#000" stroke-width="1.4"/>
<ellipse cx="620.3" cy="980.6" rx="4.3" ry="7.4" fill="#fff" stroke="#000" stroke-width="1.5"/>
<ellipse cx="620.3" cy="980.6" rx="2.4" ry="4.6" fill="none" stroke="#000" stroke-width="1.3"/>
<path d="M616.7 975 L619.1 976.7" fill="none" stroke="#000" stroke-width="1.5"/>
<path d="M616.7 978.6 L619.1 979.2" fill="none" stroke="#000" stroke-width="1.5"/>
<path d="M616.7 982.6 L619.1 982" fill="none" stroke="#000" stroke-width="1.5"/>
<path d="M616.7 986.2 L619.1 984.5" fill="none" stroke="#000" stroke-width="1.5"/>
<path d="M618.1 979.6 L620.8 981.6" fill="none" stroke="#000" stroke-width="1.6"/>
</g>
<path d="M632.3 975 L633.8 971 L636.8 969.5 L637.8 966.5 L640.8 966 L642.8 968.5 L641.3 971.5 L641.8 974.5 L639.3 976.5 L635.8 976 L634.3 977.5Z" fill="#fff" stroke="#000" stroke-width="1.5"/>
<ellipse cx="634.1" cy="974.8" rx="1.7" ry="2.2" fill="none" stroke="#000" stroke-width="1.4" transform="rotate(-28 634.1 974.8)"/>
<path d="M636.8 969.5 L639.3 971.5 L641.3 971.5" fill="none" stroke="#000" stroke-width="1.2"/>
<path d="M786 944 L860 901.8 L861.6 903 L862.6 926.5 L789.5 968.6 L787 967Z" fill="#fff" stroke="#000" stroke-width="1.5"/>
<path d="M788 946.5 L862.5 904" fill="none" stroke="#000" stroke-width="0.8"/>
<path d="M788.5 948 L790 968" fill="none" stroke="#000" stroke-width="0.8"/>
<path d="M808.5 939 L843.5 919" fill="none" stroke="#000" stroke-width="1.6"/>
<path d="M810 943 L845 923" fill="none" stroke="#000" stroke-width="1.2"/>
<path d="M800 950 L850 922" fill="none" stroke="#777" stroke-width="0.6"/>
<path d="M790 953 L863 911" fill="none" stroke="#888" stroke-width="0.6"/>
<path d="M1237.5 192.5 L1243.5 190 L1301 222.5 L1303.5 245 L1296 247.5 L1241 215Z" fill="#fff" stroke="#000" stroke-width="1.5"/>
<path d="M1243 194.5 L1301.4 225.9" fill="none" stroke="#000" stroke-width="1.1"/>
<path d="M1241.4 211.2 L1303.1 241.6" fill="none" stroke="#000" stroke-width="1.1"/>
<path d="M1243.3 192 L1301.2 224.1" fill="none" stroke="#000" stroke-width="0.8"/>
<path d="M1250.3 203.6 L1252.7 205 L1252.7 207.6 L1250.3 206.2Z" fill="#000" stroke="#000" stroke-width="0.8"/>
<path d="M1249.9 208.9 L1252.3 210.3 L1252.3 212.3 L1249.9 210.9Z" fill="#000" stroke="#000" stroke-width="0.8"/>
<path d="M1256.9 207 L1259.3 208.4 L1259.3 211 L1256.9 209.6Z" fill="#000" stroke="#000" stroke-width="0.8"/>
<path d="M1256.6 212.3 L1259 213.7 L1259 215.7 L1256.6 214.3Z" fill="#000" stroke="#000" stroke-width="0.8"/>
<path d="M1263.5 210.5 L1265.9 211.9 L1265.9 214.5 L1263.5 213.1Z" fill="#000" stroke="#000" stroke-width="0.8"/>
<path d="M1263.4 215.7 L1265.8 217.1 L1265.8 219.1 L1263.4 217.7Z" fill="#000" stroke="#000" stroke-width="0.8"/>
<path d="M1270.1 213.9 L1272.5 215.3 L1272.5 217.9 L1270.1 216.5Z" fill="#000" stroke="#000" stroke-width="0.8"/>
<path d="M1270.1 219.2 L1272.5 220.6 L1272.5 222.6 L1270.1 221.2Z" fill="#000" stroke="#000" stroke-width="0.8"/>
<path d="M1276.7 217.4 L1279.1 218.8 L1279.1 221.4 L1276.7 220Z" fill="#000" stroke="#000" stroke-width="0.8"/>
<path d="M1276.8 222.6 L1279.2 224 L1279.2 226 L1276.8 224.6Z" fill="#000" stroke="#000" stroke-width="0.8"/>
<path d="M1283.3 220.8 L1285.7 222.2 L1285.7 224.8 L1283.3 223.4Z" fill="#000" stroke="#000" stroke-width="0.8"/>
<path d="M1283.5 226 L1285.9 227.4 L1285.9 229.4 L1283.5 228Z" fill="#000" stroke="#000" stroke-width="0.8"/>
<path d="M1289.9 224.3 L1292.3 225.7 L1292.3 228.3 L1289.9 226.9Z" fill="#000" stroke="#000" stroke-width="0.8"/>
<path d="M1290.2 229.4 L1292.6 230.8 L1292.6 232.8 L1290.2 231.4Z" fill="#000" stroke="#000" stroke-width="0.8"/>
<path d="M1296.5 227.7 L1298.9 229.1 L1298.9 231.7 L1296.5 230.3Z" fill="#000" stroke="#000" stroke-width="0.8"/>
<path d="M1296.9 232.8 L1299.3 234.2 L1299.3 236.2 L1296.9 234.8Z" fill="#000" stroke="#000" stroke-width="0.8"/>
<path d="M1249.5 198 L1248.2 214.6 M1256 201.5 L1255.1 218 M1262.5 205 L1262 221.4 M1269 208.4 L1268.8 224.8 M1275.5 211.9 L1275.7 228.1 M1281.9 215.4 L1282.5 231.5 M1288.4 218.9 L1289.4 234.9 M1294.9 222.4 L1296.3 238.2" fill="none" stroke="#000" stroke-width="2.2"/><path d="M1249.5 198 L1248.2 214.6 M1256 201.5 L1255.1 218 M1262.5 205 L1262 221.4 M1269 208.4 L1268.8 224.8 M1275.5 211.9 L1275.7 228.1 M1281.9 215.4 L1282.5 231.5 M1288.4 218.9 L1289.4 234.9 M1294.9 222.4 L1296.3 238.2" fill="none" stroke="#fff" stroke-width="0.7"/>
<ellipse cx="1305" cy="227" rx="2.8" ry="3.6" fill="#fff" stroke="#000" stroke-width="1.1"/>
<ellipse cx="1307" cy="227.5" rx="2" ry="3" fill="#fff" stroke="#000" stroke-width="1"/>
<path d="M1317 245 L1321 242.5 L1403.5 290 L1403.5 305 L1398.5 306 L1318.5 257.5Z" fill="#fff" stroke="#000" stroke-width="1.5"/>
<path d="M1320.5 245.2 L1403.5 292.2" fill="none" stroke="#000" stroke-width="1.1"/>
<path d="M1318.9 255.2 L1403.5 302.8" fill="none" stroke="#000" stroke-width="1.1"/>
<path d="M1320.8 243.7 L1403.5 291.1" fill="none" stroke="#000" stroke-width="0.8"/>
<path d="M1328.2 252.7 L1330.6 254.1 L1330.6 256.7 L1328.2 255.3Z" fill="#000" stroke="#000" stroke-width="0.8"/>
<path d="M1327.7 256 L1330.1 257.4 L1330.1 259.4 L1327.7 258Z" fill="#000" stroke="#000" stroke-width="0.8"/>
<path d="M1335.2 256.7 L1337.6 258.1 L1337.6 260.7 L1335.2 259.3Z" fill="#000" stroke="#000" stroke-width="0.8"/>
<path d="M1334.7 259.9 L1337.1 261.3 L1337.1 263.3 L1334.7 261.9Z" fill="#000" stroke="#000" stroke-width="0.8"/>
<path d="M1342.1 260.6 L1344.5 262 L1344.5 264.6 L1342.1 263.2Z" fill="#000" stroke="#000" stroke-width="0.8"/>
<path d="M1341.7 263.9 L1344.1 265.3 L1344.1 267.3 L1341.7 265.9Z" fill="#000" stroke="#000" stroke-width="0.8"/>
<path d="M1349.1 264.5 L1351.5 265.9 L1351.5 268.5 L1349.1 267.1Z" fill="#000" stroke="#000" stroke-width="0.8"/>
<path d="M1348.7 267.8 L1351.1 269.2 L1351.1 271.2 L1348.7 269.8Z" fill="#000" stroke="#000" stroke-width="0.8"/>
<path d="M1356 268.5 L1358.4 269.9 L1358.4 272.5 L1356 271.1Z" fill="#000" stroke="#000" stroke-width="0.8"/>
<path d="M1355.7 271.8 L1358.1 273.2 L1358.1 275.2 L1355.7 273.8Z" fill="#000" stroke="#000" stroke-width="0.8"/>
<path d="M1363 272.4 L1365.4 273.8 L1365.4 276.4 L1363 275Z" fill="#000" stroke="#000" stroke-width="0.8"/>
<path d="M1362.7 275.7 L1365.1 277.1 L1365.1 279.1 L1362.7 277.7Z" fill="#000" stroke="#000" stroke-width="0.8"/>
<path d="M1369.9 276.3 L1372.3 277.7 L1372.3 280.3 L1369.9 278.9Z" fill="#000" stroke="#000" stroke-width="0.8"/>
<path d="M1369.7 279.6 L1372.1 281 L1372.1 283 L1369.7 281.6Z" fill="#000" stroke="#000" stroke-width="0.8"/>
<path d="M1376.9 280.3 L1379.3 281.7 L1379.3 284.3 L1376.9 282.9Z" fill="#000" stroke="#000" stroke-width="0.8"/>
<path d="M1376.7 283.6 L1379.1 285 L1379.1 287 L1376.7 285.6Z" fill="#000" stroke="#000" stroke-width="0.8"/>
<path d="M1383.8 284.2 L1386.2 285.6 L1386.2 288.2 L1383.8 286.8Z" fill="#000" stroke="#000" stroke-width="0.8"/>
<path d="M1383.7 287.5 L1386.1 288.9 L1386.1 290.9 L1383.7 289.5Z" fill="#000" stroke="#000" stroke-width="0.8"/>
<path d="M1390.8 288.1 L1393.2 289.5 L1393.2 292.1 L1390.8 290.7Z" fill="#000" stroke="#000" stroke-width="0.8"/>
<path d="M1390.7 291.5 L1393.1 292.9 L1393.1 294.9 L1390.7 293.5Z" fill="#000" stroke="#000" stroke-width="0.8"/>
<path d="M1397.7 292.1 L1400.1 293.5 L1400.1 296.1 L1397.7 294.7Z" fill="#000" stroke="#000" stroke-width="0.8"/>
<path d="M1397.7 295.4 L1400.1 296.8 L1400.1 298.8 L1397.7 297.4Z" fill="#000" stroke="#000" stroke-width="0.8"/>
<path d="M1327.5 249.1 L1325.9 259.2 M1334.4 253 L1333 263.2 M1341.3 257 L1340 267.1 M1348.2 260.9 L1347.1 271.1 M1355.1 264.8 L1354.1 275 M1362 268.7 L1361.2 279 M1368.9 272.6 L1368.2 283 M1375.8 276.6 L1375.3 286.9 M1382.8 280.5 L1382.3 290.9 M1389.7 284.4 L1389.4 294.8 M1396.6 288.3 L1396.4 298.8" fill="none" stroke="#000" stroke-width="2.2"/><path d="M1327.5 249.1 L1325.9 259.2 M1334.4 253 L1333 263.2 M1341.3 257 L1340 267.1 M1348.2 260.9 L1347.1 271.1 M1355.1 264.8 L1354.1 275 M1362 268.7 L1361.2 279 M1368.9 272.6 L1368.2 283 M1375.8 276.6 L1375.3 286.9 M1382.8 280.5 L1382.3 290.9 M1389.7 284.4 L1389.4 294.8 M1396.6 288.3 L1396.4 298.8" fill="none" stroke="#fff" stroke-width="0.7"/>
<path d="M955 355 L961 351 L1023.5 387.5 L1025 407.5 L1018.5 409 L956 372.5Z" fill="#fff" stroke="#000" stroke-width="1.5"/>
<path d="M960.1 354.9 L1023.7 390.5" fill="none" stroke="#000" stroke-width="1.1"/>
<path d="M956.8 369.3 L1024.8 404.5" fill="none" stroke="#000" stroke-width="1.1"/>
<path d="M960.6 352.7 L1023.6 388.9" fill="none" stroke="#000" stroke-width="0.8"/>
<path d="M967.5 363.7 L969.9 365.1 L969.9 367.7 L967.5 366.3Z" fill="#000" stroke="#000" stroke-width="0.8"/>
<path d="M966.6 368.3 L969 369.7 L969 371.7 L966.6 370.3Z" fill="#000" stroke="#000" stroke-width="0.8"/>
<path d="M974.7 367.7 L977.1 369.1 L977.1 371.7 L974.7 370.3Z" fill="#000" stroke="#000" stroke-width="0.8"/>
<path d="M974 372.3 L976.4 373.7 L976.4 375.7 L974 374.3Z" fill="#000" stroke="#000" stroke-width="0.8"/>
<path d="M981.9 371.6 L984.3 373 L984.3 375.6 L981.9 374.2Z" fill="#000" stroke="#000" stroke-width="0.8"/>
<path d="M981.3 376.2 L983.7 377.6 L983.7 379.6 L981.3 378.2Z" fill="#000" stroke="#000" stroke-width="0.8"/>
<path d="M989.2 375.6 L991.6 377 L991.6 379.6 L989.2 378.2Z" fill="#000" stroke="#000" stroke-width="0.8"/>
<path d="M988.7 380.1 L991.1 381.5 L991.1 383.5 L988.7 382.1Z" fill="#000" stroke="#000" stroke-width="0.8"/>
<path d="M996.4 379.5 L998.8 380.9 L998.8 383.5 L996.4 382.1Z" fill="#000" stroke="#000" stroke-width="0.8"/>
<path d="M996.1 384.1 L998.5 385.5 L998.5 387.5 L996.1 386.1Z" fill="#000" stroke="#000" stroke-width="0.8"/>
<path d="M1003.6 383.5 L1006 384.9 L1006 387.5 L1003.6 386.1Z" fill="#000" stroke="#000" stroke-width="0.8"/>
<path d="M1003.5 388 L1005.9 389.4 L1005.9 391.4 L1003.5 390Z" fill="#000" stroke="#000" stroke-width="0.8"/>
<path d="M1010.8 387.4 L1013.2 388.8 L1013.2 391.4 L1010.8 390Z" fill="#000" stroke="#000" stroke-width="0.8"/>
<path d="M1010.8 391.9 L1013.2 393.3 L1013.2 395.3 L1010.8 393.9Z" fill="#000" stroke="#000" stroke-width="0.8"/>
<path d="M1018 391.4 L1020.4 392.8 L1020.4 395.4 L1018 394Z" fill="#000" stroke="#000" stroke-width="0.8"/>
<path d="M1018.2 395.8 L1020.6 397.2 L1020.6 399.2 L1018.2 397.8Z" fill="#000" stroke="#000" stroke-width="0.8"/>
<path d="M967.2 358.8 L964.3 373.2 M974.2 362.8 L971.9 377.1 M981.3 366.7 L979.4 381 M988.4 370.7 L987 384.9 M995.4 374.7 L994.5 388.8 M1002.5 378.6 L1002.1 392.8 M1009.6 382.6 L1009.7 396.7 M1016.7 386.5 L1017.2 400.6" fill="none" stroke="#000" stroke-width="2.2"/><path d="M967.2 358.8 L964.3 373.2 M974.2 362.8 L971.9 377.1 M981.3 366.7 L979.4 381 M988.4 370.7 L987 384.9 M995.4 374.7 L994.5 388.8 M1002.5 378.6 L1002.1 392.8 M1009.6 382.6 L1009.7 396.7 M1016.7 386.5 L1017.2 400.6" fill="none" stroke="#fff" stroke-width="0.7"/>
<ellipse cx="958" cy="376" rx="3" ry="3.4" fill="#fff" stroke="#000" stroke-width="1.2"/>
<ellipse cx="1011" cy="390" rx="3.2" ry="3.6" fill="#fff" stroke="#000" stroke-width="1.2"/>
<ellipse cx="1011" cy="390" rx="1.6" ry="1.9" fill="none" stroke="#000" stroke-width="1"/>
<path d="M1041 404 L1045 401 L1127 447.5 L1127 462.5 L1123.5 464 L1042 417.5Z" fill="#fff" stroke="#000" stroke-width="1.5"/>
<path d="M1044.5 404 L1127 449.8" fill="none" stroke="#000" stroke-width="1.1"/>
<path d="M1042.5 415 L1127 460.2" fill="none" stroke="#000" stroke-width="1.1"/>
<path d="M1044.8 402.3 L1127 448.6" fill="none" stroke="#000" stroke-width="0.8"/>
<path d="M1052 411.7 L1054.4 413.1 L1054.4 415.7 L1052 414.3Z" fill="#000" stroke="#000" stroke-width="0.8"/>
<path d="M1051.4 415.2 L1053.8 416.6 L1053.8 418.6 L1051.4 417.2Z" fill="#000" stroke="#000" stroke-width="0.8"/>
<path d="M1058.9 415.5 L1061.3 416.9 L1061.3 419.5 L1058.9 418.1Z" fill="#000" stroke="#000" stroke-width="0.8"/>
<path d="M1058.4 419 L1060.8 420.4 L1060.8 422.4 L1058.4 421Z" fill="#000" stroke="#000" stroke-width="0.8"/>
<path d="M1065.8 419.3 L1068.2 420.7 L1068.2 423.3 L1065.8 421.9Z" fill="#000" stroke="#000" stroke-width="0.8"/>
<path d="M1065.4 422.8 L1067.8 424.2 L1067.8 426.2 L1065.4 424.8Z" fill="#000" stroke="#000" stroke-width="0.8"/>
<path d="M1072.8 423.1 L1075.2 424.5 L1075.2 427.1 L1072.8 425.7Z" fill="#000" stroke="#000" stroke-width="0.8"/>
<path d="M1072.3 426.6 L1074.7 428 L1074.7 430 L1072.3 428.6Z" fill="#000" stroke="#000" stroke-width="0.8"/>
<path d="M1079.7 426.9 L1082.1 428.3 L1082.1 430.9 L1079.7 429.5Z" fill="#000" stroke="#000" stroke-width="0.8"/>
<path d="M1079.3 430.4 L1081.7 431.8 L1081.7 433.8 L1079.3 432.4Z" fill="#000" stroke="#000" stroke-width="0.8"/>
<path d="M1086.6 430.7 L1089 432.1 L1089 434.7 L1086.6 433.3Z" fill="#000" stroke="#000" stroke-width="0.8"/>
<path d="M1086.3 434.1 L1088.7 435.5 L1088.7 437.5 L1086.3 436.1Z" fill="#000" stroke="#000" stroke-width="0.8"/>
<path d="M1093.6 434.5 L1096 435.9 L1096 438.5 L1093.6 437.1Z" fill="#000" stroke="#000" stroke-width="0.8"/>
<path d="M1093.3 437.9 L1095.7 439.3 L1095.7 441.3 L1093.3 439.9Z" fill="#000" stroke="#000" stroke-width="0.8"/>
<path d="M1100.5 438.3 L1102.9 439.7 L1102.9 442.3 L1100.5 440.9Z" fill="#000" stroke="#000" stroke-width="0.8"/>
<path d="M1100.3 441.7 L1102.7 443.1 L1102.7 445.1 L1100.3 443.7Z" fill="#000" stroke="#000" stroke-width="0.8"/>
<path d="M1107.4 442.1 L1109.8 443.5 L1109.8 446.1 L1107.4 444.7Z" fill="#000" stroke="#000" stroke-width="0.8"/>
<path d="M1107.3 445.5 L1109.7 446.9 L1109.7 448.9 L1107.3 447.5Z" fill="#000" stroke="#000" stroke-width="0.8"/>
<path d="M1114.3 445.9 L1116.7 447.3 L1116.7 449.9 L1114.3 448.5Z" fill="#000" stroke="#000" stroke-width="0.8"/>
<path d="M1114.2 449.3 L1116.6 450.7 L1116.6 452.7 L1114.2 451.3Z" fill="#000" stroke="#000" stroke-width="0.8"/>
<path d="M1121.3 449.7 L1123.7 451.1 L1123.7 453.7 L1121.3 452.3Z" fill="#000" stroke="#000" stroke-width="0.8"/>
<path d="M1121.2 453.1 L1123.6 454.5 L1123.6 456.5 L1121.2 455.1Z" fill="#000" stroke="#000" stroke-width="0.8"/>
<path d="M1051.3 407.8 L1049.5 418.8 M1058.2 411.6 L1056.5 422.6 M1065.1 415.4 L1063.6 426.3 M1072 419.2 L1070.6 430.1 M1078.9 423 L1077.7 433.9 M1085.7 426.9 L1084.7 437.6 M1092.6 430.7 L1091.8 441.4 M1099.5 434.5 L1098.8 445.2 M1106.4 438.3 L1105.9 448.9 M1113.2 442.1 L1112.9 452.7 M1120.1 445.9 L1120 456.5" fill="none" stroke="#000" stroke-width="2.2"/><path d="M1051.3 407.8 L1049.5 418.8 M1058.2 411.6 L1056.5 422.6 M1065.1 415.4 L1063.6 426.3 M1072 419.2 L1070.6 430.1 M1078.9 423 L1077.7 433.9 M1085.7 426.9 L1084.7 437.6 M1092.6 430.7 L1091.8 441.4 M1099.5 434.5 L1098.8 445.2 M1106.4 438.3 L1105.9 448.9 M1113.2 442.1 L1112.9 452.7 M1120.1 445.9 L1120 456.5" fill="none" stroke="#fff" stroke-width="0.7"/>
<!-- 90_leaders.py -->
<path d="M113.5 237.5 L113.5 205.5 L136.5 205.5" fill="none" stroke="#606060" stroke-width="1" stroke-linecap="butt"/>
<path d="M193.5 205.5 L207.5 205.5 L207.5 274.5" fill="none" stroke="#606060" stroke-width="1" stroke-linecap="butt"/>
<path d="M167.5 217.5 L167.5 312.5 L191.5 312.5" fill="none" stroke="#606060" stroke-width="1" stroke-linecap="butt"/>
<path d="M224.5 283.5 L248.5 283.5 L248.5 292.5" fill="none" stroke="#606060" stroke-width="1" stroke-linecap="butt"/>
<path d="M248.5 309.5 L248.5 319.5 L226.5 319.5" fill="none" stroke="#606060" stroke-width="1" stroke-linecap="butt"/>
<path d="M221.5 392.5 L245.5 392.5 L245.5 402.5" fill="none" stroke="#606060" stroke-width="1" stroke-linecap="butt"/>
<path d="M224.5 421.5 L224.5 413.5 L238.5 413.5" fill="none" stroke="#606060" stroke-width="1" stroke-linecap="butt"/>
<path d="M246.5 427.5 L246.5 469.5 L227.5 469.5" fill="none" stroke="#606060" stroke-width="1" stroke-linecap="butt"/>
<path d="M251.5 554.5 L251.5 577.5" fill="none" stroke="#606060" stroke-width="1" stroke-linecap="butt"/>
<path d="M137.5 616.5 L137.5 634.5" fill="none" stroke="#606060" stroke-width="1" stroke-linecap="butt"/>
<path d="M365.5 524.5 L395.5 524.5 L395.5 534.5" fill="none" stroke="#606060" stroke-width="1" stroke-linecap="butt"/>
<path d="M258.5 776.5 L290.5 776.5" fill="none" stroke="#606060" stroke-width="1" stroke-linecap="butt"/>
<path d="M192.5 729.5 L117.5 729.5 L117.5 767.5" fill="none" stroke="#606060" stroke-width="1" stroke-linecap="butt"/>
<path d="M119.5 797.5 L119.5 839.5 L191.5 839.5" fill="none" stroke="#606060" stroke-width="1" stroke-linecap="butt"/>
<path d="M438.5 600.5 L378.5 600.5 L378.5 779.5" fill="none" stroke="#606060" stroke-width="1" stroke-linecap="butt"/>
<path d="M491.5 600.5 L607.5 600.5 L607.5 638.5" fill="none" stroke="#606060" stroke-width="1" stroke-linecap="butt"/>
<path d="M454.5 616.5 L454.5 667.5" fill="none" stroke="#606060" stroke-width="1" stroke-linecap="butt"/>
<path d="M518.5 692.5 L558.5 692.5 L558.5 701.5" fill="none" stroke="#606060" stroke-width="1" stroke-linecap="butt"/>
<path d="M501.5 704.5 L501.5 740.5" fill="none" stroke="#606060" stroke-width="1" stroke-linecap="butt"/>
<path d="M506.5 842.5 L485.5 842.5 L485.5 861.5" fill="none" stroke="#606060" stroke-width="1" stroke-linecap="butt"/>
<path d="M485.5 882.5 L485.5 895.5" fill="none" stroke="#606060" stroke-width="1" stroke-linecap="butt"/>
<path d="M496.5 873.5 L502.5 873.5 L502.5 890.5" fill="none" stroke="#606060" stroke-width="1" stroke-linecap="butt"/>
<path d="M524.5 954.5 L519.5 954.5 L519.5 934.5" fill="none" stroke="#606060" stroke-width="1" stroke-linecap="butt"/>
<path d="M538.5 923.5 L538.5 939.5" fill="none" stroke="#606060" stroke-width="1" stroke-linecap="butt"/>
<path d="M352.5 371.5 L362.5 371.5" fill="none" stroke="#606060" stroke-width="1" stroke-linecap="butt"/>
<path d="M361.5 408.5 L338.5 408.5" fill="none" stroke="#606060" stroke-width="1" stroke-linecap="butt"/>
<path d="M338.5 382.5 L338.5 429.5 L361.5 429.5" fill="none" stroke="#606060" stroke-width="1" stroke-linecap="butt"/>
<path d="M332.5 211.5 L359.5 211.5 L359.5 201.5" fill="none" stroke="#606060" stroke-width="1" stroke-linecap="butt"/>
<path d="M410.5 256.5 L436.5 256.5 L436.5 246.5" fill="none" stroke="#606060" stroke-width="1" stroke-linecap="butt"/>
<path d="M541.5 163.5 L570.5 163.5" fill="none" stroke="#606060" stroke-width="1" stroke-linecap="butt"/>
<path d="M512.5 174.5 L512.5 203.5 L526.5 203.5" fill="none" stroke="#606060" stroke-width="1" stroke-linecap="butt"/>
<path d="M613.5 269.5 L627.5 269.5" fill="none" stroke="#606060" stroke-width="1" stroke-linecap="butt"/>
<path d="M646.5 248.5 L646.5 257.5" fill="none" stroke="#606060" stroke-width="1" stroke-linecap="butt"/>
<path d="M688.5 133.5 L775.5 133.5 L775.5 149.5" fill="none" stroke="#606060" stroke-width="1" stroke-linecap="butt"/>
<path d="M744.5 163.5 L730.5 163.5 L730.5 206.5" fill="none" stroke="#606060" stroke-width="1" stroke-linecap="butt"/>
<path d="M803.5 163.5 L819.5 163.5 L819.5 203.5" fill="none" stroke="#606060" stroke-width="1" stroke-linecap="butt"/>
<path d="M671.7 192.9 L671.7 218 L812 298.9" fill="none" stroke="#606060" stroke-width="1"/>
<path d="M824.5 281.5 L824.5 294.5" fill="none" stroke="#606060" stroke-width="1" stroke-linecap="butt"/>
<path d="M779.5 328.5 L779.5 346.5" fill="none" stroke="#606060" stroke-width="1" stroke-linecap="butt"/>
<path d="M731.5 345.5 L731.5 359.5 L756.5 359.5" fill="none" stroke="#606060" stroke-width="1" stroke-linecap="butt"/>
<path d="M692.5 447.5 L712.5 447.5" fill="none" stroke="#606060" stroke-width="1" stroke-linecap="butt"/>
<path d="M668.5 410.5 L668.5 439.5" fill="none" stroke="#606060" stroke-width="1" stroke-linecap="butt"/>
<path d="M866.5 920.5 L897.5 920.5 L897.5 909.5" fill="none" stroke="#606060" stroke-width="1" stroke-linecap="butt"/>
<path d="M859.5 761.5 L859.5 803.5 L874.5 803.5" fill="none" stroke="#606060" stroke-width="1" stroke-linecap="butt"/>
<path d="M898.5 783.5 L898.5 794.5" fill="none" stroke="#606060" stroke-width="1" stroke-linecap="butt"/>
<path d="M933.5 594.5 L1102.5 594.5" fill="none" stroke="#606060" stroke-width="1" stroke-linecap="butt"/>
<path d="M1129.5 612.1 L1129.5 713.4 L1084.5 740.4" fill="none" stroke="#606060" stroke-width="1"/>
<path d="M908.5 660.5 L908.5 680.5" fill="none" stroke="#606060" stroke-width="1" stroke-linecap="butt"/>
<path d="M920.3 653.9 L930.1 654.4 L958.8 700.6" fill="none" stroke="#606060" stroke-width="1"/>
<path d="M788.5 569.5 L788.5 596.5" fill="none" stroke="#606060" stroke-width="1" stroke-linecap="butt"/>
<path d="M803.2 557.3 L812.1 557.8 L844.2 616.8" fill="none" stroke="#606060" stroke-width="1"/>
<path d="M908.5 508.5 L908.5 524.5" fill="none" stroke="#606060" stroke-width="1" stroke-linecap="butt"/>
<path d="M921.2 498.2 L930.2 498.8 L964.8 548.8" fill="none" stroke="#606060" stroke-width="1"/>
<path d="M915.5 461.5 L1025.5 461.5 L1025.5 508.5" fill="none" stroke="#606060" stroke-width="1" stroke-linecap="butt"/>
<path d="M985.5 461.5 L985.5 482.5" fill="none" stroke="#606060" stroke-width="1" stroke-linecap="butt"/>
<path d="M859.6 465.9 L701.8 555.2 L701.8 645" fill="none" stroke="#606060" stroke-width="1"/>
<path d="M747.5 530.5 L747.5 672.5" fill="none" stroke="#606060" stroke-width="1" stroke-linecap="butt"/>
<path d="M931.5 250.5 L931.5 266.5 L976.5 266.5" fill="none" stroke="#606060" stroke-width="1" stroke-linecap="butt"/>
<path d="M1229.5 380.5 L1229.5 400.5 L1249.5 400.5" fill="none" stroke="#606060" stroke-width="1" stroke-linecap="butt"/>
<path d="M1281.5 168.5 L1265.5 168.5 L1265.5 204.5" fill="none" stroke="#606060" stroke-width="1" stroke-linecap="butt"/>
<path d="M968.5 406.5 L985.5 406.5 L985.5 386.5" fill="none" stroke="#606060" stroke-width="1" stroke-linecap="butt"/>
<path d="M1352.5 222.5 L1338.5 222.5 L1338.5 250.5" fill="none" stroke="#606060" stroke-width="1" stroke-linecap="butt"/>
<path d="M1079.5 437.5 L1079.5 484.5 L1096.5 484.5" fill="none" stroke="#606060" stroke-width="1" stroke-linecap="butt"/>
<path d="M1035.5 122.5 L1000.5 122.5 L1000.5 258.5" fill="none" stroke="#606060" stroke-width="1" stroke-linecap="butt"/>
<path d="M1086.5 119.5 L1128.5 119.5 L1128.5 182.5" fill="none" stroke="#606060" stroke-width="1" stroke-linecap="butt"/>
<path d="M1036.5 154.5 L1022.5 154.5 L1022.5 207.5" fill="none" stroke="#606060" stroke-width="1" stroke-linecap="butt"/>
<path d="M1081.5 154.5 L1091.5 154.5 L1091.5 201.5" fill="none" stroke="#606060" stroke-width="1" stroke-linecap="butt"/>
</svg>
</body></html>
